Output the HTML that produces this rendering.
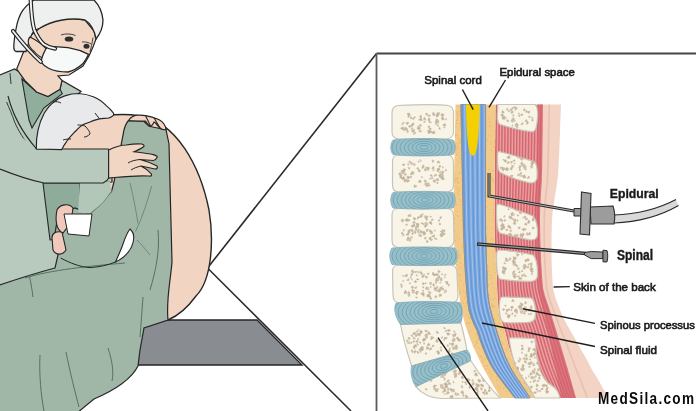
<!DOCTYPE html>
<html><head><meta charset="utf-8">
<style>
html,body{margin:0;padding:0;background:#fff;width:696px;height:411px;overflow:hidden}
svg{position:absolute;left:0;top:0;display:block;filter:blur(0.4px)}
text{font-family:"Liberation Sans",sans-serif}
</style></head>
<body>
<svg width="696" height="411" viewBox="0 0 696 411">
<!-- ===== lines of the zoom frame ===== -->
<g fill="none">
  <path d="M207.5,268 L376.5,53.5" stroke="#2a2a2a" stroke-width="1.6"/>
  <path d="M376.5,53.5 L696,53.5" stroke="#454545" stroke-width="1.9"/>
  <path d="M376.5,53.5 L376.5,411" stroke="#5a5a5a" stroke-width="1.8"/>
  <path d="M207.5,268 L351,411" stroke="#2a2a2a" stroke-width="1.5"/>
</g>

<!-- ===== bed ===== -->
<path d="M110,320 L257,320 L302,365 L110,365 Z" fill="#898c91" stroke="#262626" stroke-width="1.4"/>

<!-- ===== patient back skin ===== -->
<path d="M60,150 L70,130 L90,119 C105,115 122,113 140,116 C176,122 200,165 209,210 C214,240 212,280 196,296 C188,307 180,315 168,320 L120,320 L60,170 Z" fill="#f2d4c3" stroke="#262626" stroke-width="1.4"/>

<!-- ===== nurse gown body (light green) ===== -->
<path d="M-3,76 L14.6,69 L19,71.7 L24.8,80.4 L36.5,92 L48,96.5 L60,89 L62,80.4 L81,91.4 L60,110 L40,150 L112,150 L112,182 L82,184 L82,240 L72,276 L-3,292 Z" fill="#b8cabd" stroke="#262626" stroke-width="1.2"/>
<!-- scrub V -->
<path d="M21.9,79 L36.5,92 L48,96.5 L60,89.2 L62.3,93.6 L43.8,108 L32,128 L29,120 Z" fill="#8fae9b" stroke="#262626" stroke-width="1.1"/>
<!-- scrub lower -->
<path d="M43,183 L80,183 L80,237 L50,240 Z" fill="#8fac9a" stroke="#262626" stroke-width="1.1"/>
<g stroke="#2e3a33" stroke-width="1" fill="none">
  <path d="M10,73 L11,84"/>
  <path d="M6.6,102 C9,108 12,114 14.6,122 C18,130 24,140 32,150"/>
</g>

<!-- ===== patient gown (darker green) ===== -->
<path d="M-3,286 C20,278 40,272 55,268 L58,255 L54,240 L58,215 L75,208 L90,214 L111.5,191.4 L114,182 L124,130 C125,126 127,122 128.5,120.7 L143.8,121.2 L149,126.3 L166,129.7 L169,144 C170,180 171,230 172,262 C170,285 166,300 168,320 L144,328 L140,350 L138,366 C132,378 115,390 94,399 L77,413 L-3,413 Z" fill="#a0b7a8" stroke="#262626" stroke-width="1.2"/>
<g stroke="#56705f" stroke-width="1" fill="none">
  <path d="M25,278 C50,270 90,266 125,263"/>
  <path d="M40,355 C39,375 41,395 44,411"/>
  <path d="M66,352 C70,372 75,392 79,407"/>
  <path d="M108,348 C112,360 114,372 112,381"/>
  <path d="M143,297 C142,310 141,325 140,337"/>
  <path d="M29,275 C31,282 32,290 33,297"/>
  <path d="M150,290 C156,270 160,250 158,230"/>
</g>
<path d="M80,182 L110,182 L111.5,191.4 C107,197 104,202 100.8,204.8 C97,208 93,211 90,214 L78,212 Z" fill="#b3c7b9"/>
<!-- white gap -->
<path d="M130,229 C134.5,233 134.5,240 131.5,247 C128,254 122,259 115.5,262 C118,256 121,250 123,244 C125,238 127,233 130,229 Z" fill="#fff" stroke="#262626" stroke-width="1.1"/>
<g stroke="#262626" stroke-width="1" fill="none">
  <path d="M60.7,258 C70,263 80,267 90,267.6 C100,267 108,265 115.5,262"/>
</g>
<g stroke="#6a8574" stroke-width="0.9" fill="none">
  <path d="M111.5,191.4 C107,197 104,202 100.8,204.8 C97,208 93,211 90,214"/>
  <path d="M130,183 C133,195 136,210 138,223.5"/>
  <path d="M151.7,186 C148,200 142,218 135.6,231.5"/>
  <path d="M137,240 C142,245 146,250 150,255"/>
</g>
<!-- ===== nurse arm ===== -->
<path d="M36.6,149 L108,149 C112,150 114,155 113,165 C112,175 108,181 103,183 L44,183 C30,180 15,175 0,169 L0,120 Z" fill="#b8cabd"/>
<path d="M36.6,149 L108,149 C112,150 114,155 113,165 C112,175 108,181 103,183 L44,183 C30,180 15,175 0,169" fill="none" stroke="#262626" stroke-width="1.2"/>
<path d="M8,96 C12,112 20,130 36.6,149" fill="none" stroke="#262626" stroke-width="1.1"/>

<!-- ===== nurse head ===== -->
<path d="M16.7,69 L22.5,54.5 L28,41 L30,36 L40,28 L52,21 L69,18 L85,20 L94,31 L96,39 L93,47 L89,56 L83,66 L69,75 L58,76 L62,80.4 L60,89.2 L48,96.5 L36.5,92 L24.8,80.4 Z" fill="#f2d6c4" stroke="#262626" stroke-width="1.2"/>
<path d="M34,0 C25,6 19,12 16,29 C14,40 13.5,46 14,49 C14.5,51 15,51.5 16,51.5 L26,51.5 C28,46 29,40 32,34 C34,30 37,29 40,28 C52,21 69,17 85,20 C93,25 95,33 96,39 C100,34 103,28 103,20 C102,10 98,4 94,0 Z" fill="#eef0f0" stroke="#262626" stroke-width="1.3"/>
<path d="M30,37 C28,39 28,41 28.4,43 C29,46 31,49 34.2,51.5 C37,55 42,58 46,58.9 L46,48.6 C42,44 36,40 30,37 Z" fill="#f2d6c4" stroke="#262626" stroke-width="1.1"/>
<path d="M47.7,46.3 C56,46.5 62,47 68,47.7 C76,49 83,51.5 88.6,54.3 C87,58 85,61 82.8,63.8 C78,68 73,71 68,72 C61,72 54,71 49,68.5 C45,66.5 42.5,64 40.8,61.8 C42,57 44,51 47.7,46.3 Z" fill="#f7f8f8" stroke="#262626" stroke-width="1.3"/>
<g stroke="#262626" stroke-width="4.2" fill="none" stroke-linecap="round">
  <path d="M30.6,-2 C31,8 32,22 34.2,29.6 C37,36 40,41 43.7,44.2 C47,46.5 51,48 55,48.6"/>
  <path d="M13,31 C20,40 30,52 40.8,61.8"/>
</g>
<g stroke="#f4f5f5" stroke-width="1.9" fill="none" stroke-linecap="round">
  <path d="M30.6,-2 C31,8 32,22 34.2,29.6 C37,36 40,41 43.7,44.2 C47,46.5 51,48 55,48.6"/>
  <path d="M13,31 C20,40 30,52 40.8,61.8"/>
</g>
<g fill="#2e2e2e">
  <ellipse cx="69" cy="39" rx="4.3" ry="2.6"/>
  <ellipse cx="86.5" cy="46.3" rx="3" ry="2.5"/>
</g>
<g stroke="#444" stroke-width="1" fill="none">
  <path d="M61,35 C65,33.5 71,33.5 75.5,35.5"/>
  <path d="M82,42 C85,41.5 89,42.5 91,44"/>
  <path d="M93,37.5 C92,44 91,48 90,52"/>
</g>

<!-- ===== patient hair ===== -->
<path d="M36.3,149 C36,138 38,125 44.2,113.3 C48,107 51,104 53.7,102.2 C57,99 61,97 64.8,95.9 C70,94 75,93.5 79,93.5 C85,94 89,95 93.3,96.7 C99,99 103,102 106,105.4 C109,108 111,110 112.3,111.7 C114,113 114,115 113,115.7 C111,117 110,118 109,118 C104,118.5 102,118.5 99.6,118.9 C95,120 92,121 90,122 C87,123 84,124 82.2,125.2 C79,127 77,130 74.3,132.3 C71,136 68,139 66.4,141.8 C64,145 62.5,148 61.6,149.7 Z" fill="#e7e9ea" stroke="#262626" stroke-width="1.2"/>
<g stroke="#262626" stroke-width="1" fill="none">
  <path d="M95,113 L99.6,119"/>
  <path d="M77.5,125 C80,125 83,125 85,126 C88,129 90,132 90,134 C88,136 86,137 84,137"/>
  <path d="M63,140 C66,139 69,139 71,139"/>
  <path d="M53,102 C56,101 59,102 61,103"/>
</g>

<!-- ===== hands ===== -->
<path d="M128.5,120.5 C131,117 134,115.5 137,115.2 C140,115 143,115 145.5,115.6 C149,116.5 152,117 154,117.8 C157,118.5 159,119.5 160,120.3 C163,122 166,126 166,129.7 C163,130 161,129 160,128 C157,125 156,123 154,122 C153,124 152,126 150.6,126.3 C148,125 147,123 145.5,121.2 C140,121 134,121 128.5,120.5 Z" fill="#f2d6c4" stroke="#262626" stroke-width="1.2"/>
<g stroke="#262626" stroke-width="1.1" fill="none"><path d="M145.5,115.6 L150.6,126.3"/><path d="M154,117.8 L160,128"/></g>
<path d="M108.6,150 C115,147 120,145 126,145 C132,144 138,143.5 141.7,144 C144,144.5 144.5,146 143.6,146.8 C141,149 137,150.5 134,151.7 C140,152.5 148,153.5 153.4,154.6 C156,155.5 158,156.5 157,157.5 C156,159.5 155,160.5 153.4,160.5 L140,159.5 C146,161 152,163.5 157,166 C158,167.5 157,169 155,169 L141,166 C145,168 149,171 151.4,174 C152,175.5 151,176.5 149,176 C140,175.5 130,176 114.5,177.5 L108.6,178 Z" fill="#f2d6c4" stroke="#262626" stroke-width="1.2"/>
<g stroke="#262626" stroke-width="1" fill="none"><path d="M140,159.5 C135,160 131,161 128,163"/><path d="M141,166 C137,167 134,168 131,170"/></g>
<path d="M52,238 C52,233 56,231 62,232 L66,250 C63,255 56,256 53,250 Z" fill="#f0c9bb" stroke="#262626" stroke-width="1.1"/>
<path d="M57,210 C60,204 69,203 73,208 L71,222 L63,233 C56,230 55,220 57,210 Z" fill="#f0c9bb" stroke="#262626" stroke-width="1.1"/>
<path d="M64,214 L92,214 L89,236 L68,234 Z" fill="#fff" stroke="#262626" stroke-width="1"/>


<!-- spine -->
<path d="M543.0,104.5 L543.0,106.5 L542.9,108.5 L542.9,110.5 L542.9,112.5 L542.9,114.5 L542.8,116.5 L542.8,118.5 L542.8,120.5 L542.8,122.5 L542.7,124.5 L542.7,126.5 L542.7,128.5 L542.7,130.5 L542.7,132.5 L542.6,134.5 L542.6,136.5 L542.6,138.5 L542.6,140.5 L542.5,142.5 L542.5,144.5 L542.5,146.5 L542.4,148.5 L542.4,150.5 L542.4,152.5 L542.4,154.5 L542.3,156.5 L542.3,158.5 L542.3,160.5 L542.2,162.5 L542.2,164.5 L542.2,166.5 L542.1,168.5 L542.1,170.5 L542.1,172.5 L542.0,174.5 L541.9,176.5 L541.9,178.5 L541.8,180.5 L541.7,182.5 L541.6,184.5 L541.4,186.5 L541.3,188.5 L541.2,190.5 L541.1,192.5 L540.9,194.5 L540.8,196.5 L540.7,198.5 L540.6,200.5 L540.5,202.5 L540.4,204.5 L540.3,206.5 L540.2,208.5 L540.1,210.5 L540.1,212.5 L540.0,214.5 L540.0,216.5 L540.0,218.5 L540.0,220.5 L540.0,222.5 L540.0,224.5 L540.1,226.5 L540.1,228.5 L540.1,230.5 L540.2,232.5 L540.2,234.5 L540.2,236.5 L540.3,238.5 L540.3,240.5 L540.4,242.5 L540.5,244.5 L540.5,246.5 L540.6,248.5 L540.7,250.5 L540.8,252.5 L540.8,254.5 L540.9,256.5 L541.0,258.5 L541.1,260.5 L541.2,262.5 L541.3,264.5 L541.4,266.5 L541.6,268.5 L541.7,270.5 L541.8,272.5 L541.9,274.5 L542.1,276.5 L542.2,278.5 L542.4,280.5 L542.5,282.5 L542.7,284.5 L542.9,286.5 L543.1,288.5 L543.6,290.5 L544.1,292.5 L544.6,294.5 L545.2,296.5 L545.9,298.5 L546.5,300.5 L547.2,302.5 L547.9,304.5 L548.6,306.5 L549.3,308.5 L549.9,310.5 L550.6,312.5 L551.2,314.5 L551.9,316.5 L552.5,318.5 L553.1,320.5 L553.8,322.5 L554.4,324.5 L555.0,326.5 L555.6,328.5 L556.2,330.5 L556.8,332.5 L557.4,334.5 L558.0,336.5 L558.6,338.5 L559.2,340.5 L559.8,342.5 L560.4,344.5 L561.0,346.5 L561.6,348.5 L562.2,350.5 L562.8,352.5 L563.4,354.5 L564.0,356.5 L564.6,358.5 L565.2,360.5 L565.8,362.5 L566.4,364.5 L567.0,366.5 L567.6,368.5 L568.1,370.5 L568.7,372.5 L569.3,374.5 L569.9,376.5 L570.4,378.5 L571.0,380.5 L571.6,382.5 L572.1,384.5 L572.7,386.5 L573.3,388.5 L573.9,390.5 L574.4,392.5 L575.0,394.5 L575.6,396.5 L576.0,398.0 L608.0,398.0 L607.2,396.5 L606.3,394.5 L605.4,392.5 L604.2,390.5 L602.8,388.5 L601.9,386.5 L600.9,384.5 L599.8,382.5 L598.7,380.5 L597.5,378.5 L596.3,376.5 L595.0,374.5 L593.7,372.5 L592.3,370.5 L591.3,368.5 L590.3,366.5 L589.3,364.5 L588.2,362.5 L587.2,360.5 L586.1,358.5 L585.0,356.5 L583.9,354.5 L582.7,352.5 L581.6,350.5 L580.5,348.5 L579.4,346.5 L578.3,344.5 L577.2,342.5 L576.1,340.5 L574.9,338.5 L573.8,336.5 L572.6,334.5 L571.4,332.5 L570.3,330.5 L569.1,328.5 L568.0,326.5 L566.9,324.5 L565.8,322.5 L564.7,320.5 L563.7,318.5 L562.8,316.5 L561.9,314.5 L561.1,312.5 L560.3,310.5 L559.5,308.5 L558.7,306.5 L557.9,304.5 L557.2,302.5 L556.4,300.5 L555.8,298.5 L555.1,296.5 L554.5,294.5 L554.0,292.5 L553.5,290.5 L553.1,288.5 L552.9,286.5 L552.7,284.5 L552.6,282.5 L552.5,280.5 L552.3,278.5 L552.2,276.5 L552.1,274.5 L552.0,272.5 L551.9,270.5 L551.9,268.5 L551.8,266.5 L551.7,264.5 L551.7,262.5 L551.6,260.5 L551.6,258.5 L551.5,256.5 L551.5,254.5 L551.5,252.5 L551.5,250.5 L551.5,248.5 L551.5,246.5 L551.5,244.5 L551.5,242.5 L551.5,240.5 L551.5,238.5 L551.6,236.5 L551.6,234.5 L551.6,232.5 L551.7,230.5 L551.7,228.5 L551.8,226.5 L551.8,224.5 L551.9,222.5 L552.0,220.5 L552.1,218.5 L552.2,216.5 L552.4,214.5 L552.6,212.5 L552.9,210.5 L553.1,208.5 L553.4,206.5 L553.7,204.5 L554.0,202.5 L554.3,200.5 L554.6,198.5 L554.9,196.5 L555.2,194.5 L555.6,192.5 L555.9,190.5 L556.2,188.5 L556.5,186.5 L556.8,184.5 L557.1,182.5 L557.4,180.5 L557.6,178.5 L557.8,176.5 L558.0,174.5 L558.2,172.5 L558.3,170.5 L558.4,168.5 L558.5,166.5 L558.6,164.5 L558.7,162.5 L558.8,160.5 L558.9,158.5 L559.0,156.5 L559.1,154.5 L559.2,152.5 L559.3,150.5 L559.3,148.5 L559.4,146.5 L559.5,144.5 L559.6,142.5 L559.7,140.5 L559.7,138.5 L559.8,136.5 L559.9,134.5 L560.0,132.5 L560.0,130.5 L560.1,128.5 L560.2,126.5 L560.2,124.5 L560.3,122.5 L560.4,120.5 L560.5,118.5 L560.5,116.5 L560.6,114.5 L560.7,112.5 L560.8,110.5 L560.8,108.5 L560.9,106.5 L561.0,104.5 Z" fill="#f3d3c4"/>
<path d="M549.3,104.5 L549.3,106.5 L549.2,108.5 L549.2,110.5 L549.1,112.5 L549.1,114.5 L549.0,116.5 L549.0,118.5 L548.9,120.5 L548.9,122.5 L548.9,124.5 L548.8,126.5 L548.8,128.5 L548.7,130.5 L548.7,132.5 L548.7,134.5 L548.6,136.5 L548.6,138.5 L548.5,140.5 L548.5,142.5 L548.5,144.5 L548.4,146.5 L548.4,148.5 L548.3,150.5 L548.3,152.5 L548.2,154.5 L548.2,156.5 L548.1,158.5 L548.1,160.5 L548.0,162.5 L547.9,164.5 L547.9,166.5 L547.8,168.5 L547.8,170.5 L547.7,172.5 L547.6,174.5 L547.5,176.5 L547.4,178.5 L547.2,180.5 L547.1,182.5 L546.9,184.5 L546.7,186.5 L546.5,188.5 L546.3,190.5 L546.1,192.5 L545.9,194.5 L545.7,196.5 L545.6,198.5 L545.4,200.5 L545.2,202.5 L545.0,204.5 L544.9,206.5 L544.7,208.5 L544.6,210.5 L544.5,212.5 L544.4,214.5 L544.3,216.5 L544.2,218.5 L544.2,220.5 L544.2,222.5 L544.2,224.5 L544.2,226.5 L544.2,228.5 L544.2,230.5 L544.2,232.5 L544.2,234.5 L544.2,236.5 L544.2,238.5 L544.3,240.5 L544.3,242.5 L544.3,244.5 L544.4,246.5 L544.4,248.5 L544.5,250.5 L544.5,252.5 L544.6,254.5 L544.6,256.5 L544.7,258.5 L544.8,260.5 L544.9,262.5 L545.0,264.5 L545.1,266.5 L545.2,268.5 L545.3,270.5 L545.4,272.5 L545.5,274.5 L545.6,276.5 L545.8,278.5 L545.9,280.5 L546.1,282.5 L546.2,284.5 L546.4,286.5 L546.6,288.5 L547.0,290.5 L547.6,292.5 L548.1,294.5 L548.7,296.5 L549.3,298.5 L550.0,300.5 L550.7,302.5 L551.4,304.5 L552.1,306.5 L552.8,308.5 L553.6,310.5 L554.3,312.5 L555.0,314.5 L555.7,316.5 L556.4,318.5 L557.2,320.5 L558.0,322.5 L558.7,324.5 L559.5,326.5 L560.3,328.5 L561.1,330.5 L561.9,332.5 L562.7,334.5 L563.5,336.5 L564.3,338.5 L565.1,340.5 L565.9,342.5 L566.7,344.5 L567.5,346.5 L568.2,348.5 L569.0,350.5 L569.8,352.5 L570.6,354.5 L571.3,356.5 L572.1,358.5 L572.9,360.5 L573.6,362.5 L574.4,364.5 L575.1,366.5 L575.9,368.5 L576.6,370.5 L577.4,372.5 L578.3,374.5 L579.1,376.5 L579.9,378.5 L580.7,380.5 L581.5,382.5 L582.2,384.5 L582.9,386.5 L583.6,388.5 L584.5,390.5 L585.3,392.5 L586.0,394.5 L586.7,396.5 L587.2,398.0" fill="none" stroke="#ebbfae" stroke-width="1.6"/>
<path d="M495.5,104.5 L495.5,106.5 L495.5,108.5 L495.4,110.5 L495.4,112.5 L495.4,114.5 L495.4,116.5 L495.4,118.5 L495.4,120.5 L495.3,122.5 L495.3,124.5 L495.3,126.5 L495.3,128.5 L495.2,130.5 L495.2,132.5 L495.2,134.5 L495.2,136.5 L495.2,138.5 L495.1,140.5 L495.1,142.5 L495.1,144.5 L495.1,146.5 L495.0,148.5 L495.0,150.5 L495.0,152.5 L495.0,154.5 L494.9,156.5 L494.9,158.5 L494.9,160.5 L494.9,162.5 L494.8,164.5 L494.8,166.5 L494.8,168.5 L494.8,170.5 L494.8,172.5 L494.7,174.5 L494.7,176.5 L494.7,178.5 L494.7,180.5 L494.7,182.5 L494.6,184.5 L494.6,186.5 L494.6,188.5 L494.6,190.5 L494.6,192.5 L494.6,194.5 L494.6,196.5 L494.5,198.5 L494.5,200.5 L494.5,202.5 L494.5,204.5 L494.5,206.5 L494.5,208.5 L494.5,210.5 L494.5,212.5 L494.5,214.5 L494.5,216.5 L494.5,218.5 L494.5,220.5 L494.5,222.5 L494.5,224.5 L494.5,226.5 L494.5,228.5 L494.5,230.5 L494.5,232.5 L494.6,234.5 L494.6,236.5 L494.7,238.5 L494.8,240.5 L494.9,242.5 L495.0,244.5 L495.1,246.5 L495.2,248.5 L495.3,250.5 L495.4,252.5 L495.5,254.5 L495.6,256.5 L495.7,258.5 L495.9,260.5 L496.0,262.5 L496.1,264.5 L496.2,266.5 L496.3,268.5 L496.4,270.5 L496.5,272.5 L496.6,274.5 L496.7,276.5 L496.8,278.5 L496.9,280.5 L496.9,282.5 L497.0,284.5 L497.1,286.5 L497.2,288.5 L497.3,290.5 L497.3,292.5 L497.4,294.5 L497.5,296.5 L497.7,298.5 L497.8,300.5 L497.9,302.5 L498.1,304.5 L498.3,306.5 L498.4,308.5 L498.7,310.5 L499.2,312.5 L499.6,314.5 L500.2,316.5 L500.7,318.5 L501.4,320.5 L502.0,322.5 L502.7,324.5 L503.4,326.5 L504.2,328.5 L504.9,330.5 L505.4,332.5 L505.8,334.5 L506.3,336.5 L506.8,338.5 L507.3,340.5 L507.7,342.5 L508.2,344.5 L508.8,346.5 L509.3,348.5 L509.9,350.5 L510.5,352.5 L511.1,354.5 L511.8,356.5 L512.4,358.5 L513.2,360.5 L514.0,362.5 L514.8,364.5 L515.7,366.5 L516.7,368.5 L517.8,370.5 L518.9,372.5 L520.0,374.5 L521.2,376.5 L522.5,378.5 L523.7,380.5 L525.0,382.5 L526.3,384.5 L527.6,386.5 L529.0,388.5 L530.3,390.5 L531.6,392.5 L532.8,394.5 L534.1,396.5 L535.0,398.0 L576.0,398.0 L575.6,396.5 L575.0,394.5 L574.4,392.5 L573.9,390.5 L573.3,388.5 L572.7,386.5 L572.1,384.5 L571.6,382.5 L571.0,380.5 L570.4,378.5 L569.9,376.5 L569.3,374.5 L568.7,372.5 L568.1,370.5 L567.6,368.5 L567.0,366.5 L566.4,364.5 L565.8,362.5 L565.2,360.5 L564.6,358.5 L564.0,356.5 L563.4,354.5 L562.8,352.5 L562.2,350.5 L561.6,348.5 L561.0,346.5 L560.4,344.5 L559.8,342.5 L559.2,340.5 L558.6,338.5 L558.0,336.5 L557.4,334.5 L556.8,332.5 L556.2,330.5 L555.6,328.5 L555.0,326.5 L554.4,324.5 L553.8,322.5 L553.1,320.5 L552.5,318.5 L551.9,316.5 L551.2,314.5 L550.6,312.5 L549.9,310.5 L549.3,308.5 L548.6,306.5 L547.9,304.5 L547.2,302.5 L546.5,300.5 L545.9,298.5 L545.2,296.5 L544.6,294.5 L544.1,292.5 L543.6,290.5 L543.1,288.5 L542.9,286.5 L542.7,284.5 L542.5,282.5 L542.4,280.5 L542.2,278.5 L542.1,276.5 L541.9,274.5 L541.8,272.5 L541.7,270.5 L541.6,268.5 L541.4,266.5 L541.3,264.5 L541.2,262.5 L541.1,260.5 L541.0,258.5 L540.9,256.5 L540.8,254.5 L540.8,252.5 L540.7,250.5 L540.6,248.5 L540.5,246.5 L540.5,244.5 L540.4,242.5 L540.3,240.5 L540.3,238.5 L540.2,236.5 L540.2,234.5 L540.2,232.5 L540.1,230.5 L540.1,228.5 L540.1,226.5 L540.0,224.5 L540.0,222.5 L540.0,220.5 L540.0,218.5 L540.0,216.5 L540.0,214.5 L540.1,212.5 L540.1,210.5 L540.2,208.5 L540.3,206.5 L540.4,204.5 L540.5,202.5 L540.6,200.5 L540.7,198.5 L540.8,196.5 L540.9,194.5 L541.1,192.5 L541.2,190.5 L541.3,188.5 L541.4,186.5 L541.6,184.5 L541.7,182.5 L541.8,180.5 L541.9,178.5 L541.9,176.5 L542.0,174.5 L542.1,172.5 L542.1,170.5 L542.1,168.5 L542.2,166.5 L542.2,164.5 L542.2,162.5 L542.3,160.5 L542.3,158.5 L542.3,156.5 L542.4,154.5 L542.4,152.5 L542.4,150.5 L542.4,148.5 L542.5,146.5 L542.5,144.5 L542.5,142.5 L542.6,140.5 L542.6,138.5 L542.6,136.5 L542.6,134.5 L542.7,132.5 L542.7,130.5 L542.7,128.5 L542.7,126.5 L542.7,124.5 L542.8,122.5 L542.8,120.5 L542.8,118.5 L542.8,116.5 L542.9,114.5 L542.9,112.5 L542.9,110.5 L542.9,108.5 L543.0,106.5 L543.0,104.5 Z" fill="#e9a0a2"/>
<clipPath id="cm"><path d="M495.5,104.5 L495.5,106.5 L495.5,108.5 L495.4,110.5 L495.4,112.5 L495.4,114.5 L495.4,116.5 L495.4,118.5 L495.4,120.5 L495.3,122.5 L495.3,124.5 L495.3,126.5 L495.3,128.5 L495.2,130.5 L495.2,132.5 L495.2,134.5 L495.2,136.5 L495.2,138.5 L495.1,140.5 L495.1,142.5 L495.1,144.5 L495.1,146.5 L495.0,148.5 L495.0,150.5 L495.0,152.5 L495.0,154.5 L494.9,156.5 L494.9,158.5 L494.9,160.5 L494.9,162.5 L494.8,164.5 L494.8,166.5 L494.8,168.5 L494.8,170.5 L494.8,172.5 L494.7,174.5 L494.7,176.5 L494.7,178.5 L494.7,180.5 L494.7,182.5 L494.6,184.5 L494.6,186.5 L494.6,188.5 L494.6,190.5 L494.6,192.5 L494.6,194.5 L494.6,196.5 L494.5,198.5 L494.5,200.5 L494.5,202.5 L494.5,204.5 L494.5,206.5 L494.5,208.5 L494.5,210.5 L494.5,212.5 L494.5,214.5 L494.5,216.5 L494.5,218.5 L494.5,220.5 L494.5,222.5 L494.5,224.5 L494.5,226.5 L494.5,228.5 L494.5,230.5 L494.5,232.5 L494.6,234.5 L494.6,236.5 L494.7,238.5 L494.8,240.5 L494.9,242.5 L495.0,244.5 L495.1,246.5 L495.2,248.5 L495.3,250.5 L495.4,252.5 L495.5,254.5 L495.6,256.5 L495.7,258.5 L495.9,260.5 L496.0,262.5 L496.1,264.5 L496.2,266.5 L496.3,268.5 L496.4,270.5 L496.5,272.5 L496.6,274.5 L496.7,276.5 L496.8,278.5 L496.9,280.5 L496.9,282.5 L497.0,284.5 L497.1,286.5 L497.2,288.5 L497.3,290.5 L497.3,292.5 L497.4,294.5 L497.5,296.5 L497.7,298.5 L497.8,300.5 L497.9,302.5 L498.1,304.5 L498.3,306.5 L498.4,308.5 L498.7,310.5 L499.2,312.5 L499.6,314.5 L500.2,316.5 L500.7,318.5 L501.4,320.5 L502.0,322.5 L502.7,324.5 L503.4,326.5 L504.2,328.5 L504.9,330.5 L505.4,332.5 L505.8,334.5 L506.3,336.5 L506.8,338.5 L507.3,340.5 L507.7,342.5 L508.2,344.5 L508.8,346.5 L509.3,348.5 L509.9,350.5 L510.5,352.5 L511.1,354.5 L511.8,356.5 L512.4,358.5 L513.2,360.5 L514.0,362.5 L514.8,364.5 L515.7,366.5 L516.7,368.5 L517.8,370.5 L518.9,372.5 L520.0,374.5 L521.2,376.5 L522.5,378.5 L523.7,380.5 L525.0,382.5 L526.3,384.5 L527.6,386.5 L529.0,388.5 L530.3,390.5 L531.6,392.5 L532.8,394.5 L534.1,396.5 L535.0,398.0 L576.0,398.0 L575.6,396.5 L575.0,394.5 L574.4,392.5 L573.9,390.5 L573.3,388.5 L572.7,386.5 L572.1,384.5 L571.6,382.5 L571.0,380.5 L570.4,378.5 L569.9,376.5 L569.3,374.5 L568.7,372.5 L568.1,370.5 L567.6,368.5 L567.0,366.5 L566.4,364.5 L565.8,362.5 L565.2,360.5 L564.6,358.5 L564.0,356.5 L563.4,354.5 L562.8,352.5 L562.2,350.5 L561.6,348.5 L561.0,346.5 L560.4,344.5 L559.8,342.5 L559.2,340.5 L558.6,338.5 L558.0,336.5 L557.4,334.5 L556.8,332.5 L556.2,330.5 L555.6,328.5 L555.0,326.5 L554.4,324.5 L553.8,322.5 L553.1,320.5 L552.5,318.5 L551.9,316.5 L551.2,314.5 L550.6,312.5 L549.9,310.5 L549.3,308.5 L548.6,306.5 L547.9,304.5 L547.2,302.5 L546.5,300.5 L545.9,298.5 L545.2,296.5 L544.6,294.5 L544.1,292.5 L543.6,290.5 L543.1,288.5 L542.9,286.5 L542.7,284.5 L542.5,282.5 L542.4,280.5 L542.2,278.5 L542.1,276.5 L541.9,274.5 L541.8,272.5 L541.7,270.5 L541.6,268.5 L541.4,266.5 L541.3,264.5 L541.2,262.5 L541.1,260.5 L541.0,258.5 L540.9,256.5 L540.8,254.5 L540.8,252.5 L540.7,250.5 L540.6,248.5 L540.5,246.5 L540.5,244.5 L540.4,242.5 L540.3,240.5 L540.3,238.5 L540.2,236.5 L540.2,234.5 L540.2,232.5 L540.1,230.5 L540.1,228.5 L540.1,226.5 L540.0,224.5 L540.0,222.5 L540.0,220.5 L540.0,218.5 L540.0,216.5 L540.0,214.5 L540.1,212.5 L540.1,210.5 L540.2,208.5 L540.3,206.5 L540.4,204.5 L540.5,202.5 L540.6,200.5 L540.7,198.5 L540.8,196.5 L540.9,194.5 L541.1,192.5 L541.2,190.5 L541.3,188.5 L541.4,186.5 L541.6,184.5 L541.7,182.5 L541.8,180.5 L541.9,178.5 L541.9,176.5 L542.0,174.5 L542.1,172.5 L542.1,170.5 L542.1,168.5 L542.2,166.5 L542.2,164.5 L542.2,162.5 L542.3,160.5 L542.3,158.5 L542.3,156.5 L542.4,154.5 L542.4,152.5 L542.4,150.5 L542.4,148.5 L542.5,146.5 L542.5,144.5 L542.5,142.5 L542.6,140.5 L542.6,138.5 L542.6,136.5 L542.6,134.5 L542.7,132.5 L542.7,130.5 L542.7,128.5 L542.7,126.5 L542.7,124.5 L542.8,122.5 L542.8,120.5 L542.8,118.5 L542.8,116.5 L542.9,114.5 L542.9,112.5 L542.9,110.5 L542.9,108.5 L543.0,106.5 L543.0,104.5 Z"/></clipPath>
<g clip-path="url(#cm)" stroke="#d6666f" stroke-width="1.5" fill="none"><path d="M496.4,104.5 L496.4,108.5 L496.3,112.5 L496.3,116.5 L496.2,120.5 L496.2,124.5 L496.2,128.5 L496.1,132.5 L496.1,136.5 L496.0,140.5 L496.0,144.5 L495.9,148.5 L495.9,152.5 L495.8,156.5 L495.8,160.5 L495.7,164.5 L495.7,168.5 L495.6,172.5 L495.6,176.5 L495.6,180.5 L495.5,184.5 L495.5,188.5 L495.5,192.5 L495.4,196.5 L495.4,200.5 L495.4,204.5 L495.4,208.5 L495.3,212.5 L495.3,216.5 L495.3,220.5 L495.3,224.5 L495.4,228.5 L495.4,232.5 L495.5,236.5 L495.6,240.5 L495.8,244.5 L496.0,248.5 L496.2,252.5 L496.5,256.5 L496.7,260.5 L496.9,264.5 L497.2,268.5 L497.4,272.5 L497.5,276.5 L497.7,280.5 L497.9,284.5 L498.0,288.5 L498.2,292.5 L498.4,296.5 L498.7,300.5 L499.0,304.5 L499.4,308.5 L500.1,312.5 L501.1,316.5 L502.3,320.5 L503.7,324.5 L505.2,328.5 L506.3,332.5 L507.3,336.5 L508.2,340.5 L509.2,344.5 L510.3,348.5 L511.5,352.5 L512.7,356.5 L514.2,360.5 L515.8,364.5 L517.7,368.5 L519.8,372.5 L522.2,376.5 L524.6,380.5 L527.2,384.5 L529.8,388.5 L532.4,392.5 L534.9,396.5 L535.8,398.0"/><path d="M499.4,104.5 L499.3,108.5 L499.3,112.5 L499.2,116.5 L499.2,120.5 L499.2,124.5 L499.1,128.5 L499.1,132.5 L499.0,136.5 L499.0,140.5 L498.9,144.5 L498.9,148.5 L498.8,152.5 L498.8,156.5 L498.7,160.5 L498.7,164.5 L498.7,168.5 L498.6,172.5 L498.6,176.5 L498.5,180.5 L498.5,184.5 L498.4,188.5 L498.4,192.5 L498.3,196.5 L498.3,200.5 L498.2,204.5 L498.2,208.5 L498.2,212.5 L498.2,216.5 L498.2,220.5 L498.2,224.5 L498.2,228.5 L498.2,232.5 L498.3,236.5 L498.5,240.5 L498.7,244.5 L498.9,248.5 L499.1,252.5 L499.3,256.5 L499.5,260.5 L499.8,264.5 L500.0,268.5 L500.2,272.5 L500.4,276.5 L500.6,280.5 L500.7,284.5 L500.9,288.5 L501.1,292.5 L501.4,296.5 L501.8,300.5 L502.1,304.5 L502.6,308.5 L503.3,312.5 L504.4,316.5 L505.6,320.5 L506.9,324.5 L508.4,328.5 L509.6,332.5 L510.5,336.5 L511.5,340.5 L512.5,344.5 L513.6,348.5 L514.7,352.5 L516.0,356.5 L517.4,360.5 L519.0,364.5 L520.8,368.5 L522.9,372.5 L525.2,376.5 L527.6,380.5 L530.1,384.5 L532.6,388.5 L535.0,392.5 L537.5,396.5 L538.3,398.0"/><path d="M502.3,104.5 L502.3,108.5 L502.3,112.5 L502.2,116.5 L502.2,120.5 L502.1,124.5 L502.1,128.5 L502.0,132.5 L502.0,136.5 L501.9,140.5 L501.9,144.5 L501.8,148.5 L501.8,152.5 L501.8,156.5 L501.7,160.5 L501.7,164.5 L501.6,168.5 L501.6,172.5 L501.5,176.5 L501.5,180.5 L501.4,184.5 L501.3,188.5 L501.3,192.5 L501.2,196.5 L501.2,200.5 L501.1,204.5 L501.1,208.5 L501.0,212.5 L501.0,216.5 L501.0,220.5 L501.0,224.5 L501.0,228.5 L501.1,232.5 L501.2,236.5 L501.3,240.5 L501.5,244.5 L501.7,248.5 L501.9,252.5 L502.1,256.5 L502.4,260.5 L502.6,264.5 L502.8,268.5 L503.0,272.5 L503.2,276.5 L503.4,280.5 L503.6,284.5 L503.8,288.5 L504.1,292.5 L504.4,296.5 L504.8,300.5 L505.2,304.5 L505.8,308.5 L506.6,312.5 L507.6,316.5 L508.8,320.5 L510.1,324.5 L511.6,328.5 L512.8,332.5 L513.7,336.5 L514.7,340.5 L515.8,344.5 L516.8,348.5 L518.0,352.5 L519.3,356.5 L520.7,360.5 L522.2,364.5 L524.0,368.5 L526.0,372.5 L528.2,376.5 L530.5,380.5 L532.9,384.5 L535.3,388.5 L537.7,392.5 L540.0,396.5 L540.9,398.0"/><path d="M505.3,104.5 L505.3,108.5 L505.2,112.5 L505.2,116.5 L505.1,120.5 L505.1,124.5 L505.0,128.5 L505.0,132.5 L505.0,136.5 L504.9,140.5 L504.9,144.5 L504.8,148.5 L504.8,152.5 L504.7,156.5 L504.7,160.5 L504.6,164.5 L504.6,168.5 L504.5,172.5 L504.5,176.5 L504.4,180.5 L504.3,184.5 L504.2,188.5 L504.2,192.5 L504.1,196.5 L504.0,200.5 L504.0,204.5 L503.9,208.5 L503.9,212.5 L503.9,216.5 L503.9,220.5 L503.9,224.5 L503.9,228.5 L503.9,232.5 L504.0,236.5 L504.2,240.5 L504.3,244.5 L504.5,248.5 L504.7,252.5 L505.0,256.5 L505.2,260.5 L505.4,264.5 L505.7,268.5 L505.9,272.5 L506.1,276.5 L506.2,280.5 L506.4,284.5 L506.6,288.5 L507.0,292.5 L507.4,296.5 L507.8,300.5 L508.4,304.5 L508.9,308.5 L509.8,312.5 L510.8,316.5 L512.0,320.5 L513.4,324.5 L514.8,328.5 L516.0,332.5 L517.0,336.5 L518.0,340.5 L519.0,344.5 L520.1,348.5 L521.3,352.5 L522.5,356.5 L523.9,360.5 L525.4,364.5 L527.2,368.5 L529.2,372.5 L531.3,376.5 L533.5,380.5 L535.8,384.5 L538.1,388.5 L540.4,392.5 L542.6,396.5 L543.5,398.0"/><path d="M508.3,104.5 L508.2,108.5 L508.2,112.5 L508.1,116.5 L508.1,120.5 L508.1,124.5 L508.0,128.5 L508.0,132.5 L507.9,136.5 L507.9,140.5 L507.8,144.5 L507.8,148.5 L507.7,152.5 L507.7,156.5 L507.6,160.5 L507.6,164.5 L507.5,168.5 L507.5,172.5 L507.4,176.5 L507.3,180.5 L507.3,184.5 L507.2,188.5 L507.1,192.5 L507.0,196.5 L506.9,200.5 L506.8,204.5 L506.8,208.5 L506.7,212.5 L506.7,216.5 L506.7,220.5 L506.7,224.5 L506.7,228.5 L506.8,232.5 L506.9,236.5 L507.0,240.5 L507.2,244.5 L507.4,248.5 L507.6,252.5 L507.8,256.5 L508.0,260.5 L508.3,264.5 L508.5,268.5 L508.7,272.5 L508.9,276.5 L509.1,280.5 L509.3,284.5 L509.5,288.5 L509.9,292.5 L510.4,296.5 L510.9,300.5 L511.5,304.5 L512.1,308.5 L513.0,312.5 L514.1,316.5 L515.3,320.5 L516.6,324.5 L518.0,328.5 L519.2,332.5 L520.2,336.5 L521.2,340.5 L522.3,344.5 L523.4,348.5 L524.5,352.5 L525.8,356.5 L527.2,360.5 L528.6,364.5 L530.4,368.5 L532.3,372.5 L534.3,376.5 L536.4,380.5 L538.6,384.5 L540.9,388.5 L543.1,392.5 L545.2,396.5 L546.0,398.0"/><path d="M511.2,104.5 L511.2,108.5 L511.2,112.5 L511.1,116.5 L511.1,120.5 L511.0,124.5 L511.0,128.5 L510.9,132.5 L510.9,136.5 L510.8,140.5 L510.8,144.5 L510.7,148.5 L510.7,152.5 L510.6,156.5 L510.6,160.5 L510.5,164.5 L510.5,168.5 L510.4,172.5 L510.4,176.5 L510.3,180.5 L510.2,184.5 L510.1,188.5 L510.0,192.5 L509.9,196.5 L509.8,200.5 L509.7,204.5 L509.6,208.5 L509.6,212.5 L509.6,216.5 L509.6,220.5 L509.6,224.5 L509.6,228.5 L509.7,232.5 L509.7,236.5 L509.9,240.5 L510.0,244.5 L510.2,248.5 L510.4,252.5 L510.6,256.5 L510.9,260.5 L511.1,264.5 L511.3,268.5 L511.5,272.5 L511.7,276.5 L511.9,280.5 L512.1,284.5 L512.4,288.5 L512.8,292.5 L513.3,296.5 L513.9,300.5 L514.6,304.5 L515.3,308.5 L516.2,312.5 L517.3,316.5 L518.5,320.5 L519.8,324.5 L521.2,328.5 L522.4,332.5 L523.4,336.5 L524.5,340.5 L525.5,344.5 L526.6,348.5 L527.8,352.5 L529.1,356.5 L530.4,360.5 L531.9,364.5 L533.5,368.5 L535.4,372.5 L537.3,376.5 L539.4,380.5 L541.5,384.5 L543.6,388.5 L545.8,392.5 L547.8,396.5 L548.6,398.0"/><path d="M514.2,104.5 L514.2,108.5 L514.1,112.5 L514.1,116.5 L514.0,120.5 L514.0,124.5 L513.9,128.5 L513.9,132.5 L513.8,136.5 L513.8,140.5 L513.8,144.5 L513.7,148.5 L513.7,152.5 L513.6,156.5 L513.5,160.5 L513.5,164.5 L513.4,168.5 L513.4,172.5 L513.3,176.5 L513.2,180.5 L513.1,184.5 L513.0,188.5 L512.9,192.5 L512.8,196.5 L512.7,200.5 L512.6,204.5 L512.5,208.5 L512.4,212.5 L512.4,216.5 L512.4,220.5 L512.4,224.5 L512.4,228.5 L512.5,232.5 L512.6,236.5 L512.7,240.5 L512.9,244.5 L513.1,248.5 L513.3,252.5 L513.5,256.5 L513.7,260.5 L513.9,264.5 L514.1,268.5 L514.4,272.5 L514.6,276.5 L514.8,280.5 L515.0,284.5 L515.3,288.5 L515.7,292.5 L516.3,296.5 L517.0,300.5 L517.7,304.5 L518.5,308.5 L519.4,312.5 L520.5,316.5 L521.7,320.5 L523.0,324.5 L524.4,328.5 L525.6,332.5 L526.7,336.5 L527.7,340.5 L528.8,344.5 L529.9,348.5 L531.1,352.5 L532.3,356.5 L533.7,360.5 L535.1,364.5 L536.7,368.5 L538.5,372.5 L540.4,376.5 L542.4,380.5 L544.4,384.5 L546.4,388.5 L548.4,392.5 L550.4,396.5 L551.1,398.0"/><path d="M517.2,104.5 L517.1,108.5 L517.1,112.5 L517.0,116.5 L517.0,120.5 L517.0,124.5 L516.9,128.5 L516.9,132.5 L516.8,136.5 L516.8,140.5 L516.7,144.5 L516.7,148.5 L516.6,152.5 L516.6,156.5 L516.5,160.5 L516.5,164.5 L516.4,168.5 L516.3,172.5 L516.3,176.5 L516.2,180.5 L516.1,184.5 L515.9,188.5 L515.8,192.5 L515.7,196.5 L515.5,200.5 L515.4,204.5 L515.3,208.5 L515.3,212.5 L515.2,216.5 L515.3,220.5 L515.3,224.5 L515.3,228.5 L515.4,232.5 L515.4,236.5 L515.6,240.5 L515.7,244.5 L515.9,248.5 L516.1,252.5 L516.3,256.5 L516.5,260.5 L516.7,264.5 L517.0,268.5 L517.2,272.5 L517.4,276.5 L517.6,280.5 L517.9,284.5 L518.1,288.5 L518.7,292.5 L519.3,296.5 L520.0,300.5 L520.8,304.5 L521.6,308.5 L522.6,312.5 L523.8,316.5 L525.0,320.5 L526.3,324.5 L527.7,328.5 L528.8,332.5 L529.9,336.5 L531.0,340.5 L532.1,344.5 L533.2,348.5 L534.4,352.5 L535.6,356.5 L536.9,360.5 L538.3,364.5 L539.9,368.5 L541.6,372.5 L543.4,376.5 L545.3,380.5 L547.2,384.5 L549.2,388.5 L551.1,392.5 L553.0,396.5 L553.7,398.0"/><path d="M520.1,104.5 L520.1,108.5 L520.1,112.5 L520.0,116.5 L520.0,120.5 L519.9,124.5 L519.9,128.5 L519.8,132.5 L519.8,136.5 L519.7,140.5 L519.7,144.5 L519.6,148.5 L519.6,152.5 L519.5,156.5 L519.5,160.5 L519.4,164.5 L519.4,168.5 L519.3,172.5 L519.2,176.5 L519.1,180.5 L519.0,184.5 L518.8,188.5 L518.7,192.5 L518.6,196.5 L518.4,200.5 L518.3,204.5 L518.2,208.5 L518.1,212.5 L518.1,216.5 L518.1,220.5 L518.1,224.5 L518.1,228.5 L518.2,232.5 L518.3,236.5 L518.4,240.5 L518.6,244.5 L518.7,248.5 L518.9,252.5 L519.1,256.5 L519.3,260.5 L519.6,264.5 L519.8,268.5 L520.0,272.5 L520.2,276.5 L520.5,280.5 L520.7,284.5 L521.0,288.5 L521.6,292.5 L522.3,296.5 L523.1,300.5 L523.9,304.5 L524.8,308.5 L525.8,312.5 L527.0,316.5 L528.2,320.5 L529.5,324.5 L530.9,328.5 L532.1,332.5 L533.1,336.5 L534.2,340.5 L535.3,344.5 L536.5,348.5 L537.6,352.5 L538.9,356.5 L540.2,360.5 L541.5,364.5 L543.1,368.5 L544.7,372.5 L546.5,376.5 L548.3,380.5 L550.1,384.5 L552.0,388.5 L553.8,392.5 L555.6,396.5 L556.3,398.0"/><path d="M523.1,104.5 L523.1,108.5 L523.0,112.5 L523.0,116.5 L522.9,120.5 L522.9,124.5 L522.8,128.5 L522.8,132.5 L522.7,136.5 L522.7,140.5 L522.6,144.5 L522.6,148.5 L522.5,152.5 L522.5,156.5 L522.4,160.5 L522.4,164.5 L522.3,168.5 L522.2,172.5 L522.2,176.5 L522.1,180.5 L521.9,184.5 L521.8,188.5 L521.6,192.5 L521.4,196.5 L521.3,200.5 L521.2,204.5 L521.1,208.5 L521.0,212.5 L520.9,216.5 L520.9,220.5 L521.0,224.5 L521.0,228.5 L521.1,232.5 L521.1,236.5 L521.3,240.5 L521.4,244.5 L521.6,248.5 L521.8,252.5 L522.0,256.5 L522.2,260.5 L522.4,264.5 L522.6,268.5 L522.8,272.5 L523.1,276.5 L523.3,280.5 L523.6,284.5 L523.9,288.5 L524.5,292.5 L525.3,296.5 L526.1,300.5 L527.0,304.5 L528.0,308.5 L529.1,312.5 L530.2,316.5 L531.4,320.5 L532.7,324.5 L534.1,328.5 L535.3,332.5 L536.4,336.5 L537.5,340.5 L538.6,344.5 L539.7,348.5 L540.9,352.5 L542.1,356.5 L543.4,360.5 L544.8,364.5 L546.3,368.5 L547.8,372.5 L549.5,376.5 L551.2,380.5 L553.0,384.5 L554.7,388.5 L556.5,392.5 L558.2,396.5 L558.8,398.0"/><path d="M526.1,104.5 L526.0,108.5 L526.0,112.5 L525.9,116.5 L525.9,120.5 L525.8,124.5 L525.8,128.5 L525.8,132.5 L525.7,136.5 L525.7,140.5 L525.6,144.5 L525.6,148.5 L525.5,152.5 L525.4,156.5 L525.4,160.5 L525.3,164.5 L525.3,168.5 L525.2,172.5 L525.1,176.5 L525.0,180.5 L524.8,184.5 L524.7,188.5 L524.5,192.5 L524.3,196.5 L524.2,200.5 L524.0,204.5 L523.9,208.5 L523.8,212.5 L523.8,216.5 L523.8,220.5 L523.8,224.5 L523.8,228.5 L523.9,232.5 L524.0,236.5 L524.1,240.5 L524.3,244.5 L524.4,248.5 L524.6,252.5 L524.8,256.5 L525.0,260.5 L525.2,264.5 L525.4,268.5 L525.7,272.5 L525.9,276.5 L526.2,280.5 L526.4,284.5 L526.7,288.5 L527.4,292.5 L528.2,296.5 L529.2,300.5 L530.1,304.5 L531.2,308.5 L532.3,312.5 L533.4,316.5 L534.7,320.5 L536.0,324.5 L537.3,328.5 L538.5,332.5 L539.6,336.5 L540.7,340.5 L541.8,344.5 L543.0,348.5 L544.2,352.5 L545.4,356.5 L546.7,360.5 L548.0,364.5 L549.4,368.5 L551.0,372.5 L552.5,376.5 L554.2,380.5 L555.8,384.5 L557.5,388.5 L559.2,392.5 L560.8,396.5 L561.4,398.0"/><path d="M529.0,104.5 L529.0,108.5 L529.0,112.5 L528.9,116.5 L528.9,120.5 L528.8,124.5 L528.8,128.5 L528.7,132.5 L528.7,136.5 L528.6,140.5 L528.6,144.5 L528.5,148.5 L528.5,152.5 L528.4,156.5 L528.4,160.5 L528.3,164.5 L528.2,168.5 L528.2,172.5 L528.1,176.5 L527.9,180.5 L527.8,184.5 L527.6,188.5 L527.4,192.5 L527.2,196.5 L527.0,200.5 L526.9,204.5 L526.8,208.5 L526.7,212.5 L526.6,216.5 L526.6,220.5 L526.7,224.5 L526.7,228.5 L526.8,232.5 L526.8,236.5 L527.0,240.5 L527.1,244.5 L527.3,248.5 L527.4,252.5 L527.6,256.5 L527.8,260.5 L528.0,264.5 L528.3,268.5 L528.5,272.5 L528.8,276.5 L529.0,280.5 L529.3,284.5 L529.6,288.5 L530.3,292.5 L531.2,296.5 L532.2,300.5 L533.2,304.5 L534.3,308.5 L535.5,312.5 L536.7,316.5 L537.9,320.5 L539.2,324.5 L540.5,328.5 L541.7,332.5 L542.8,336.5 L544.0,340.5 L545.1,344.5 L546.3,348.5 L547.4,352.5 L548.7,356.5 L549.9,360.5 L551.2,364.5 L552.6,368.5 L554.1,372.5 L555.6,376.5 L557.1,380.5 L558.7,384.5 L560.3,388.5 L561.8,392.5 L563.4,396.5 L564.0,398.0"/><path d="M532.0,104.5 L532.0,108.5 L531.9,112.5 L531.9,116.5 L531.8,120.5 L531.8,124.5 L531.7,128.5 L531.7,132.5 L531.6,136.5 L531.6,140.5 L531.5,144.5 L531.5,148.5 L531.4,152.5 L531.4,156.5 L531.3,160.5 L531.3,164.5 L531.2,168.5 L531.1,172.5 L531.0,176.5 L530.9,180.5 L530.7,184.5 L530.5,188.5 L530.3,192.5 L530.1,196.5 L529.9,200.5 L529.8,204.5 L529.6,208.5 L529.5,212.5 L529.5,216.5 L529.5,220.5 L529.5,224.5 L529.5,228.5 L529.6,232.5 L529.7,236.5 L529.8,240.5 L529.9,244.5 L530.1,248.5 L530.3,252.5 L530.4,256.5 L530.6,260.5 L530.9,264.5 L531.1,268.5 L531.3,272.5 L531.6,276.5 L531.9,280.5 L532.1,284.5 L532.5,288.5 L533.3,292.5 L534.2,296.5 L535.2,300.5 L536.4,304.5 L537.5,308.5 L538.7,312.5 L539.9,316.5 L541.2,320.5 L542.4,324.5 L543.7,328.5 L544.9,332.5 L546.1,336.5 L547.2,340.5 L548.4,344.5 L549.5,348.5 L550.7,352.5 L551.9,356.5 L553.2,360.5 L554.4,364.5 L555.8,368.5 L557.2,372.5 L558.6,376.5 L560.1,380.5 L561.5,384.5 L563.0,388.5 L564.5,392.5 L566.0,396.5 L566.5,398.0"/><path d="M535.0,104.5 L534.9,108.5 L534.9,112.5 L534.8,116.5 L534.8,120.5 L534.7,124.5 L534.7,128.5 L534.6,132.5 L534.6,136.5 L534.6,140.5 L534.5,144.5 L534.4,148.5 L534.4,152.5 L534.3,156.5 L534.3,160.5 L534.2,164.5 L534.1,168.5 L534.1,172.5 L534.0,176.5 L533.8,180.5 L533.6,184.5 L533.4,188.5 L533.2,192.5 L533.0,196.5 L532.8,200.5 L532.6,204.5 L532.5,208.5 L532.4,212.5 L532.3,216.5 L532.3,220.5 L532.4,224.5 L532.4,228.5 L532.5,232.5 L532.6,236.5 L532.7,240.5 L532.8,244.5 L532.9,248.5 L533.1,252.5 L533.3,256.5 L533.5,260.5 L533.7,264.5 L533.9,268.5 L534.2,272.5 L534.4,276.5 L534.7,280.5 L535.0,284.5 L535.4,288.5 L536.2,292.5 L537.2,296.5 L538.3,300.5 L539.5,304.5 L540.7,308.5 L541.9,312.5 L543.1,316.5 L544.4,320.5 L545.7,324.5 L546.9,328.5 L548.1,332.5 L549.3,336.5 L550.5,340.5 L551.6,344.5 L552.8,348.5 L554.0,352.5 L555.2,356.5 L556.4,360.5 L557.7,364.5 L559.0,368.5 L560.3,372.5 L561.7,376.5 L563.0,380.5 L564.4,384.5 L565.8,388.5 L567.2,392.5 L568.6,396.5 L569.1,398.0"/><path d="M538.0,104.5 L537.9,108.5 L537.8,112.5 L537.8,116.5 L537.8,120.5 L537.7,124.5 L537.7,128.5 L537.6,132.5 L537.6,136.5 L537.5,140.5 L537.5,144.5 L537.4,148.5 L537.4,152.5 L537.3,156.5 L537.2,160.5 L537.2,164.5 L537.1,168.5 L537.0,172.5 L536.9,176.5 L536.8,180.5 L536.6,184.5 L536.4,188.5 L536.1,192.5 L535.9,196.5 L535.7,200.5 L535.5,204.5 L535.3,208.5 L535.2,212.5 L535.2,216.5 L535.2,220.5 L535.2,224.5 L535.2,228.5 L535.3,232.5 L535.4,236.5 L535.5,240.5 L535.6,244.5 L535.8,248.5 L535.9,252.5 L536.1,256.5 L536.3,260.5 L536.5,264.5 L536.7,268.5 L537.0,272.5 L537.3,276.5 L537.5,280.5 L537.8,284.5 L538.2,288.5 L539.1,292.5 L540.2,296.5 L541.3,300.5 L542.6,304.5 L543.9,308.5 L545.1,312.5 L546.4,316.5 L547.6,320.5 L548.9,324.5 L550.1,328.5 L551.4,332.5 L552.5,336.5 L553.7,340.5 L554.9,344.5 L556.1,348.5 L557.3,352.5 L558.4,356.5 L559.7,360.5 L560.9,364.5 L562.2,368.5 L563.4,372.5 L564.7,376.5 L566.0,380.5 L567.3,384.5 L568.6,388.5 L569.9,392.5 L571.2,396.5 L571.6,398.0"/><path d="M540.9,104.5 L540.9,108.5 L540.8,112.5 L540.8,116.5 L540.7,120.5 L540.7,124.5 L540.6,128.5 L540.6,132.5 L540.5,136.5 L540.5,140.5 L540.4,144.5 L540.4,148.5 L540.3,152.5 L540.3,156.5 L540.2,160.5 L540.1,164.5 L540.1,168.5 L540.0,172.5 L539.9,176.5 L539.7,180.5 L539.5,184.5 L539.3,188.5 L539.0,192.5 L538.8,196.5 L538.6,200.5 L538.4,204.5 L538.2,208.5 L538.1,212.5 L538.0,216.5 L538.0,220.5 L538.0,224.5 L538.1,228.5 L538.2,232.5 L538.3,236.5 L538.4,240.5 L538.5,244.5 L538.6,248.5 L538.8,252.5 L538.9,256.5 L539.1,260.5 L539.3,264.5 L539.6,268.5 L539.8,272.5 L540.1,276.5 L540.4,280.5 L540.7,284.5 L541.1,288.5 L542.0,292.5 L543.1,296.5 L544.4,300.5 L545.7,304.5 L547.0,308.5 L548.3,312.5 L549.6,316.5 L550.9,320.5 L552.1,324.5 L553.4,328.5 L554.6,332.5 L555.8,336.5 L557.0,340.5 L558.2,344.5 L559.3,348.5 L560.5,352.5 L561.7,356.5 L562.9,360.5 L564.1,364.5 L565.3,368.5 L566.5,372.5 L567.7,376.5 L568.9,380.5 L570.1,384.5 L571.3,388.5 L572.6,392.5 L573.8,396.5 L574.2,398.0"/></g>
<path d="M538.0,104.5 L538.0,106.5 L537.9,108.5 L537.9,110.5 L537.9,112.5 L537.9,114.5 L537.8,116.5 L537.8,118.5 L537.8,120.5 L537.8,122.5 L537.7,124.5 L537.7,126.5 L537.7,128.5 L537.7,130.5 L537.7,132.5 L537.6,134.5 L537.6,136.5 L537.6,138.5 L537.6,140.5 L537.5,142.5 L537.5,144.5 L537.5,146.5 L537.4,148.5 L537.4,150.5 L537.4,152.5 L537.4,154.5 L537.3,156.5 L537.3,158.5 L537.3,160.5 L537.2,162.5 L537.2,164.5 L537.2,166.5 L537.1,168.5 L537.1,170.5 L537.1,172.5 L537.0,174.5 L536.9,176.5 L536.9,178.5 L536.8,180.5 L536.7,182.5 L536.6,184.5 L536.4,186.5 L536.3,188.5 L536.2,190.5 L536.1,192.5 L535.9,194.5 L535.8,196.5 L535.7,198.5 L535.6,200.5 L535.5,202.5 L535.4,204.5 L535.3,206.5 L535.2,208.5 L535.1,210.5 L535.1,212.5 L535.0,214.5 L535.0,216.5 L535.0,218.5 L535.0,220.5 L535.0,222.5 L535.0,224.5 L535.1,226.5 L535.1,228.5 L535.2,230.5 L535.2,232.5 L535.2,234.5 L535.3,236.5 L535.4,238.5 L535.4,240.5 L535.5,242.5 L535.6,244.5 L535.6,246.5 L535.7,248.5 L535.8,250.5 L535.9,252.5 L536.0,254.5 L536.1,256.5 L536.2,258.5 L536.3,260.5 L536.4,262.5 L536.5,264.5 L536.6,266.5 L536.7,268.5 L536.9,270.5 L537.0,272.5 L537.1,274.5 L537.2,276.5 L537.4,278.5 L537.5,280.5 L537.6,282.5 L537.8,284.5 L537.9,286.5 L538.1,288.5 L538.4,290.5 L538.8,292.5 L539.2,294.5 L539.7,296.5 L540.2,298.5 L540.6,300.5 L541.1,302.5 L541.6,304.5 L542.1,306.5 L542.6,308.5 L543.1,310.5 L543.6,312.5 L544.0,314.5 L544.5,316.5 L544.9,318.5 L545.4,320.5 L545.8,322.5 L546.3,324.5 L546.7,326.5 L547.1,328.5 L547.6,330.5 L548.0,332.5 L548.4,334.5 L548.8,336.5 L549.3,338.5 L549.7,340.5 L550.1,342.5 L550.5,344.5 L551.0,346.5 L551.4,348.5 L551.8,350.5 L552.2,352.5 L552.6,354.5 L553.0,356.5 L553.4,358.5 L553.9,360.5 L554.3,362.5 L554.7,364.5 L555.1,366.5 L555.5,368.5 L555.9,370.5 L556.3,372.5 L556.7,374.5 L557.1,376.5 L557.5,378.5 L557.9,380.5 L558.3,382.5 L558.6,384.5 L559.0,386.5 L559.4,388.5 L559.8,390.5 L560.2,392.5 L560.6,394.5 L561.0,396.5 L561.3,398.0 L576.0,398.0 L575.6,396.5 L575.0,394.5 L574.4,392.5 L573.9,390.5 L573.3,388.5 L572.7,386.5 L572.1,384.5 L571.6,382.5 L571.0,380.5 L570.4,378.5 L569.9,376.5 L569.3,374.5 L568.7,372.5 L568.1,370.5 L567.6,368.5 L567.0,366.5 L566.4,364.5 L565.8,362.5 L565.2,360.5 L564.6,358.5 L564.0,356.5 L563.4,354.5 L562.8,352.5 L562.2,350.5 L561.6,348.5 L561.0,346.5 L560.4,344.5 L559.8,342.5 L559.2,340.5 L558.6,338.5 L558.0,336.5 L557.4,334.5 L556.8,332.5 L556.2,330.5 L555.6,328.5 L555.0,326.5 L554.4,324.5 L553.8,322.5 L553.1,320.5 L552.5,318.5 L551.9,316.5 L551.2,314.5 L550.6,312.5 L549.9,310.5 L549.3,308.5 L548.6,306.5 L547.9,304.5 L547.2,302.5 L546.5,300.5 L545.9,298.5 L545.2,296.5 L544.6,294.5 L544.1,292.5 L543.6,290.5 L543.1,288.5 L542.9,286.5 L542.7,284.5 L542.5,282.5 L542.4,280.5 L542.2,278.5 L542.1,276.5 L541.9,274.5 L541.8,272.5 L541.7,270.5 L541.6,268.5 L541.4,266.5 L541.3,264.5 L541.2,262.5 L541.1,260.5 L541.0,258.5 L540.9,256.5 L540.8,254.5 L540.8,252.5 L540.7,250.5 L540.6,248.5 L540.5,246.5 L540.5,244.5 L540.4,242.5 L540.3,240.5 L540.3,238.5 L540.2,236.5 L540.2,234.5 L540.2,232.5 L540.1,230.5 L540.1,228.5 L540.1,226.5 L540.0,224.5 L540.0,222.5 L540.0,220.5 L540.0,218.5 L540.0,216.5 L540.0,214.5 L540.1,212.5 L540.1,210.5 L540.2,208.5 L540.3,206.5 L540.4,204.5 L540.5,202.5 L540.6,200.5 L540.7,198.5 L540.8,196.5 L540.9,194.5 L541.1,192.5 L541.2,190.5 L541.3,188.5 L541.4,186.5 L541.6,184.5 L541.7,182.5 L541.8,180.5 L541.9,178.5 L541.9,176.5 L542.0,174.5 L542.1,172.5 L542.1,170.5 L542.1,168.5 L542.2,166.5 L542.2,164.5 L542.2,162.5 L542.3,160.5 L542.3,158.5 L542.3,156.5 L542.4,154.5 L542.4,152.5 L542.4,150.5 L542.4,148.5 L542.5,146.5 L542.5,144.5 L542.5,142.5 L542.6,140.5 L542.6,138.5 L542.6,136.5 L542.6,134.5 L542.7,132.5 L542.7,130.5 L542.7,128.5 L542.7,126.5 L542.7,124.5 L542.8,122.5 L542.8,120.5 L542.8,118.5 L542.8,116.5 L542.9,114.5 L542.9,112.5 L542.9,110.5 L542.9,108.5 L543.0,106.5 L543.0,104.5 Z" fill="#d4646d" opacity="0.7"/>
<path d="M455.5,104.5 L455.5,106.5 L455.4,108.5 L455.4,110.5 L455.4,112.5 L455.3,114.5 L455.3,116.5 L455.3,118.5 L455.2,120.5 L455.2,122.5 L455.1,124.5 L455.1,126.5 L455.1,128.5 L455.0,130.5 L455.0,132.5 L454.9,134.5 L454.9,136.5 L454.9,138.5 L454.8,140.5 L454.8,142.5 L454.7,144.5 L454.7,146.5 L454.6,148.5 L454.6,150.5 L454.6,152.5 L454.5,154.5 L454.5,156.5 L454.4,158.5 L454.4,160.5 L454.3,162.5 L454.3,164.5 L454.3,166.5 L454.2,168.5 L454.2,170.5 L454.1,172.5 L454.1,174.5 L454.1,176.5 L454.0,178.5 L454.0,180.5 L454.0,182.5 L453.9,184.5 L453.9,186.5 L453.9,188.5 L453.8,190.5 L453.8,192.5 L453.8,194.5 L453.8,196.5 L453.7,198.5 L453.7,200.5 L453.7,202.5 L453.7,204.5 L453.7,206.5 L453.6,208.5 L453.6,210.5 L453.6,212.5 L453.6,214.5 L453.6,216.5 L453.6,218.5 L453.6,220.5 L453.6,222.5 L453.6,224.5 L453.6,226.5 L453.6,228.5 L453.6,230.5 L453.6,232.5 L453.7,234.5 L453.8,236.5 L453.9,238.5 L454.0,240.5 L454.1,242.5 L454.3,244.5 L454.4,246.5 L454.6,248.5 L454.8,250.5 L454.9,252.5 L455.1,254.5 L455.3,256.5 L455.5,258.5 L455.7,260.5 L455.9,262.5 L456.0,264.5 L456.2,266.5 L456.4,268.5 L456.6,270.5 L456.8,272.5 L457.0,274.5 L457.2,276.5 L457.3,278.5 L457.5,280.5 L457.7,282.5 L457.9,284.5 L458.2,286.5 L458.4,288.5 L458.6,290.5 L458.9,292.5 L459.1,294.5 L459.4,296.5 L459.7,298.5 L460.1,300.5 L460.4,302.5 L460.8,304.5 L461.1,306.5 L461.5,308.5 L461.9,310.5 L462.3,312.5 L462.7,314.5 L463.1,316.5 L463.6,318.5 L464.1,320.5 L464.6,322.5 L465.2,324.5 L465.8,326.5 L466.5,328.5 L467.2,330.5 L467.8,332.5 L468.5,334.5 L469.2,336.5 L470.0,338.5 L470.7,340.5 L471.6,342.5 L472.4,344.5 L473.2,346.5 L474.1,348.5 L475.0,350.5 L475.9,352.5 L476.8,354.5 L477.8,356.5 L478.7,358.5 L479.7,360.5 L480.6,362.5 L481.6,364.5 L482.6,366.5 L483.6,368.5 L484.7,370.5 L485.8,372.5 L486.9,374.5 L488.0,376.5 L489.2,378.5 L490.3,380.5 L491.5,382.5 L492.7,384.5 L493.8,386.5 L495.0,388.5 L496.2,390.5 L497.3,392.5 L498.5,394.5 L499.6,396.5 L500.5,398.0 L535.0,398.0 L534.1,396.5 L532.8,394.5 L531.6,392.5 L530.3,390.5 L529.0,388.5 L527.6,386.5 L526.3,384.5 L525.0,382.5 L523.7,380.5 L522.5,378.5 L521.2,376.5 L520.0,374.5 L518.9,372.5 L517.8,370.5 L516.7,368.5 L515.7,366.5 L514.8,364.5 L514.0,362.5 L513.2,360.5 L512.4,358.5 L511.8,356.5 L511.1,354.5 L510.5,352.5 L509.9,350.5 L509.3,348.5 L508.8,346.5 L508.2,344.5 L507.7,342.5 L507.3,340.5 L506.8,338.5 L506.3,336.5 L505.8,334.5 L505.4,332.5 L504.9,330.5 L504.2,328.5 L503.4,326.5 L502.7,324.5 L502.0,322.5 L501.4,320.5 L500.7,318.5 L500.2,316.5 L499.6,314.5 L499.2,312.5 L498.7,310.5 L498.4,308.5 L498.3,306.5 L498.1,304.5 L497.9,302.5 L497.8,300.5 L497.7,298.5 L497.5,296.5 L497.4,294.5 L497.3,292.5 L497.3,290.5 L497.2,288.5 L497.1,286.5 L497.0,284.5 L496.9,282.5 L496.9,280.5 L496.8,278.5 L496.7,276.5 L496.6,274.5 L496.5,272.5 L496.4,270.5 L496.3,268.5 L496.2,266.5 L496.1,264.5 L496.0,262.5 L495.9,260.5 L495.7,258.5 L495.6,256.5 L495.5,254.5 L495.4,252.5 L495.3,250.5 L495.2,248.5 L495.1,246.5 L495.0,244.5 L494.9,242.5 L494.8,240.5 L494.7,238.5 L494.6,236.5 L494.6,234.5 L494.5,232.5 L494.5,230.5 L494.5,228.5 L494.5,226.5 L494.5,224.5 L494.5,222.5 L494.5,220.5 L494.5,218.5 L494.5,216.5 L494.5,214.5 L494.5,212.5 L494.5,210.5 L494.5,208.5 L494.5,206.5 L494.5,204.5 L494.5,202.5 L494.5,200.5 L494.5,198.5 L494.6,196.5 L494.6,194.5 L494.6,192.5 L494.6,190.5 L494.6,188.5 L494.6,186.5 L494.6,184.5 L494.7,182.5 L494.7,180.5 L494.7,178.5 L494.7,176.5 L494.7,174.5 L494.8,172.5 L494.8,170.5 L494.8,168.5 L494.8,166.5 L494.8,164.5 L494.9,162.5 L494.9,160.5 L494.9,158.5 L494.9,156.5 L495.0,154.5 L495.0,152.5 L495.0,150.5 L495.0,148.5 L495.1,146.5 L495.1,144.5 L495.1,142.5 L495.1,140.5 L495.2,138.5 L495.2,136.5 L495.2,134.5 L495.2,132.5 L495.2,130.5 L495.3,128.5 L495.3,126.5 L495.3,124.5 L495.3,122.5 L495.4,120.5 L495.4,118.5 L495.4,116.5 L495.4,114.5 L495.4,112.5 L495.4,110.5 L495.5,108.5 L495.5,106.5 L495.5,104.5 Z" fill="#f2cb8a"/>
<g fill="#e4b46a"><circle cx="459.6" cy="199.6" r="0.6"/><circle cx="489.2" cy="126.5" r="0.6"/><circle cx="486.3" cy="122.3" r="0.6"/><circle cx="454.9" cy="231.5" r="0.6"/><circle cx="487.0" cy="228.8" r="0.6"/><circle cx="493.8" cy="170.4" r="0.6"/><circle cx="464.8" cy="273.1" r="0.6"/><circle cx="488.6" cy="119.0" r="0.6"/><circle cx="457.1" cy="147.4" r="0.6"/><circle cx="477.1" cy="342.6" r="0.6"/><circle cx="463.1" cy="291.1" r="0.6"/><circle cx="456.7" cy="123.7" r="0.6"/><circle cx="463.1" cy="303.2" r="0.6"/><circle cx="459.9" cy="275.6" r="0.6"/><circle cx="500.4" cy="336.3" r="0.6"/><circle cx="494.9" cy="272.4" r="0.6"/><circle cx="470.7" cy="317.4" r="0.6"/><circle cx="459.8" cy="139.8" r="0.6"/><circle cx="455.4" cy="149.7" r="0.6"/><circle cx="493.7" cy="299.6" r="0.6"/><circle cx="485.4" cy="359.8" r="0.6"/><circle cx="491.5" cy="278.2" r="0.6"/><circle cx="505.9" cy="349.5" r="0.6"/><circle cx="465.0" cy="298.4" r="0.6"/><circle cx="495.3" cy="293.5" r="0.6"/><circle cx="459.6" cy="188.2" r="0.6"/><circle cx="456.7" cy="112.1" r="0.6"/><circle cx="459.9" cy="139.5" r="0.6"/><circle cx="457.6" cy="143.1" r="0.6"/><circle cx="482.9" cy="358.6" r="0.6"/><circle cx="494.1" cy="265.1" r="0.6"/><circle cx="481.6" cy="356.5" r="0.6"/><circle cx="493.7" cy="209.7" r="0.6"/><circle cx="456.6" cy="149.3" r="0.6"/><circle cx="458.9" cy="173.3" r="0.6"/><circle cx="457.7" cy="181.8" r="0.6"/><circle cx="493.6" cy="212.8" r="0.6"/><circle cx="494.8" cy="306.1" r="0.6"/><circle cx="466.8" cy="301.9" r="0.6"/><circle cx="503.3" cy="332.1" r="0.6"/><circle cx="455.0" cy="219.5" r="0.6"/><circle cx="459.5" cy="289.8" r="0.6"/><circle cx="457.2" cy="166.1" r="0.6"/><circle cx="456.5" cy="120.8" r="0.6"/><circle cx="455.6" cy="135.0" r="0.6"/><circle cx="507.8" cy="359.5" r="0.6"/><circle cx="457.3" cy="178.8" r="0.6"/><circle cx="494.6" cy="141.2" r="0.6"/><circle cx="455.3" cy="240.9" r="0.6"/><circle cx="456.9" cy="135.2" r="0.6"/><circle cx="473.8" cy="346.3" r="0.6"/><circle cx="520.3" cy="381.8" r="0.6"/><circle cx="460.6" cy="263.3" r="0.6"/><circle cx="528.0" cy="389.8" r="0.6"/><circle cx="455.8" cy="181.4" r="0.6"/><circle cx="502.5" cy="329.7" r="0.6"/><circle cx="460.9" cy="201.3" r="0.6"/><circle cx="529.7" cy="391.6" r="0.6"/><circle cx="502.4" cy="343.2" r="0.6"/><circle cx="456.0" cy="255.9" r="0.6"/><circle cx="457.1" cy="113.6" r="0.6"/><circle cx="493.6" cy="306.7" r="0.6"/><circle cx="521.3" cy="377.7" r="0.6"/><circle cx="456.1" cy="211.4" r="0.6"/><circle cx="459.1" cy="162.6" r="0.6"/><circle cx="512.9" cy="367.0" r="0.6"/><circle cx="489.1" cy="295.2" r="0.6"/><circle cx="495.3" cy="297.4" r="0.6"/><circle cx="466.8" cy="323.4" r="0.6"/><circle cx="476.2" cy="334.7" r="0.6"/><circle cx="499.7" cy="387.8" r="0.6"/><circle cx="519.6" cy="380.5" r="0.6"/><circle cx="460.7" cy="142.4" r="0.6"/><circle cx="478.2" cy="339.8" r="0.6"/><circle cx="526.9" cy="390.3" r="0.6"/><circle cx="456.7" cy="264.9" r="0.6"/><circle cx="525.8" cy="387.5" r="0.6"/><circle cx="497.0" cy="376.7" r="0.6"/><circle cx="475.4" cy="345.5" r="0.6"/><circle cx="459.0" cy="190.6" r="0.6"/><circle cx="455.5" cy="180.8" r="0.6"/><circle cx="488.8" cy="369.9" r="0.6"/><circle cx="491.1" cy="275.0" r="0.6"/><circle cx="516.0" cy="372.1" r="0.6"/><circle cx="459.5" cy="257.6" r="0.6"/><circle cx="460.3" cy="158.7" r="0.6"/><circle cx="459.7" cy="155.6" r="0.6"/><circle cx="460.8" cy="267.2" r="0.6"/><circle cx="488.0" cy="266.9" r="0.6"/><circle cx="459.0" cy="268.3" r="0.6"/><circle cx="501.0" cy="329.8" r="0.6"/><circle cx="498.8" cy="326.3" r="0.6"/><circle cx="492.2" cy="283.4" r="0.6"/><circle cx="465.1" cy="306.7" r="0.6"/><circle cx="492.0" cy="244.4" r="0.6"/><circle cx="508.6" cy="360.1" r="0.6"/><circle cx="494.4" cy="268.0" r="0.6"/><circle cx="457.9" cy="145.3" r="0.6"/><circle cx="456.0" cy="126.6" r="0.6"/><circle cx="496.4" cy="300.0" r="0.6"/><circle cx="491.6" cy="150.4" r="0.6"/><circle cx="494.3" cy="147.0" r="0.6"/><circle cx="489.3" cy="169.3" r="0.6"/><circle cx="493.2" cy="247.0" r="0.6"/><circle cx="458.4" cy="152.4" r="0.6"/><circle cx="456.8" cy="204.0" r="0.6"/><circle cx="467.1" cy="315.3" r="0.6"/><circle cx="457.2" cy="233.5" r="0.6"/><circle cx="488.3" cy="286.8" r="0.6"/><circle cx="530.4" cy="391.7" r="0.6"/><circle cx="455.6" cy="135.9" r="0.6"/><circle cx="469.2" cy="331.8" r="0.6"/><circle cx="492.5" cy="228.2" r="0.6"/><circle cx="461.5" cy="180.6" r="0.6"/><circle cx="488.0" cy="271.3" r="0.6"/><circle cx="489.8" cy="122.2" r="0.6"/><circle cx="491.6" cy="126.5" r="0.6"/><circle cx="478.0" cy="338.4" r="0.6"/><circle cx="490.0" cy="124.9" r="0.6"/><circle cx="493.4" cy="204.0" r="0.6"/><circle cx="458.5" cy="183.3" r="0.6"/><circle cx="455.8" cy="174.8" r="0.6"/><circle cx="457.3" cy="120.1" r="0.6"/><circle cx="488.3" cy="194.1" r="0.6"/><circle cx="458.3" cy="250.8" r="0.6"/><circle cx="456.0" cy="110.8" r="0.6"/><circle cx="494.5" cy="318.5" r="0.6"/><circle cx="487.2" cy="243.4" r="0.6"/><circle cx="476.7" cy="343.4" r="0.6"/><circle cx="478.6" cy="348.0" r="0.6"/><circle cx="492.6" cy="305.3" r="0.6"/><circle cx="506.2" cy="347.3" r="0.6"/><circle cx="454.6" cy="223.1" r="0.6"/><circle cx="459.7" cy="143.2" r="0.6"/><circle cx="455.2" cy="179.8" r="0.6"/><circle cx="507.2" cy="349.9" r="0.6"/><circle cx="456.7" cy="187.4" r="0.6"/><circle cx="458.4" cy="239.0" r="0.6"/><circle cx="493.9" cy="182.0" r="0.6"/><circle cx="464.2" cy="264.4" r="0.6"/><circle cx="454.3" cy="195.4" r="0.6"/><circle cx="458.5" cy="216.4" r="0.6"/><circle cx="486.0" cy="163.9" r="0.6"/><circle cx="457.5" cy="182.2" r="0.6"/><circle cx="457.3" cy="117.6" r="0.6"/><circle cx="490.3" cy="173.1" r="0.6"/><circle cx="499.8" cy="323.5" r="0.6"/><circle cx="482.9" cy="360.9" r="0.6"/><circle cx="506.3" cy="391.6" r="0.6"/><circle cx="465.3" cy="292.4" r="0.6"/><circle cx="513.0" cy="364.6" r="0.6"/><circle cx="476.2" cy="341.4" r="0.6"/><circle cx="493.2" cy="252.0" r="0.6"/><circle cx="507.3" cy="345.6" r="0.6"/><circle cx="491.5" cy="303.9" r="0.6"/><circle cx="457.6" cy="114.6" r="0.6"/><circle cx="490.8" cy="136.0" r="0.6"/><circle cx="493.8" cy="287.9" r="0.6"/><circle cx="462.0" cy="247.6" r="0.6"/><circle cx="498.3" cy="322.9" r="0.6"/><circle cx="465.1" cy="297.0" r="0.6"/><circle cx="456.5" cy="178.8" r="0.6"/><circle cx="469.0" cy="317.4" r="0.6"/><circle cx="500.3" cy="389.0" r="0.6"/><circle cx="492.6" cy="244.7" r="0.6"/><circle cx="488.4" cy="284.7" r="0.6"/><circle cx="459.8" cy="148.3" r="0.6"/><circle cx="486.0" cy="193.9" r="0.6"/><circle cx="459.2" cy="123.1" r="0.6"/><circle cx="492.4" cy="306.6" r="0.6"/><circle cx="459.6" cy="255.6" r="0.6"/><circle cx="487.7" cy="139.9" r="0.6"/><circle cx="525.1" cy="389.6" r="0.6"/><circle cx="494.0" cy="238.8" r="0.6"/><circle cx="456.2" cy="236.1" r="0.6"/><circle cx="496.6" cy="380.2" r="0.6"/><circle cx="494.1" cy="146.7" r="0.6"/><circle cx="490.3" cy="144.0" r="0.6"/><circle cx="509.8" cy="363.1" r="0.6"/><circle cx="483.2" cy="366.3" r="0.6"/><circle cx="458.0" cy="106.5" r="0.6"/><circle cx="457.1" cy="193.2" r="0.6"/><circle cx="485.9" cy="197.3" r="0.6"/><circle cx="495.6" cy="323.6" r="0.6"/><circle cx="519.2" cy="374.6" r="0.6"/><circle cx="457.5" cy="189.7" r="0.6"/><circle cx="530.5" cy="395.6" r="0.6"/><circle cx="454.5" cy="229.8" r="0.6"/><circle cx="488.5" cy="135.0" r="0.6"/><circle cx="491.6" cy="377.3" r="0.6"/><circle cx="458.7" cy="253.9" r="0.6"/><circle cx="524.2" cy="383.3" r="0.6"/><circle cx="496.2" cy="288.8" r="0.6"/><circle cx="487.4" cy="265.1" r="0.6"/><circle cx="469.4" cy="318.2" r="0.6"/><circle cx="459.7" cy="292.7" r="0.6"/><circle cx="491.9" cy="374.7" r="0.6"/><circle cx="460.4" cy="205.3" r="0.6"/><circle cx="503.7" cy="389.1" r="0.6"/><circle cx="489.1" cy="192.9" r="0.6"/><circle cx="456.4" cy="154.1" r="0.6"/><circle cx="486.1" cy="368.7" r="0.6"/><circle cx="513.7" cy="368.8" r="0.6"/><circle cx="455.8" cy="146.1" r="0.6"/><circle cx="456.2" cy="204.8" r="0.6"/><circle cx="493.3" cy="180.6" r="0.6"/><circle cx="468.6" cy="323.3" r="0.6"/><circle cx="458.7" cy="257.8" r="0.6"/><circle cx="460.7" cy="123.5" r="0.6"/><circle cx="491.4" cy="142.1" r="0.6"/><circle cx="480.3" cy="356.2" r="0.6"/><circle cx="457.9" cy="177.7" r="0.6"/><circle cx="524.1" cy="382.6" r="0.6"/><circle cx="459.3" cy="111.8" r="0.6"/><circle cx="487.5" cy="365.7" r="0.6"/><circle cx="460.2" cy="105.6" r="0.6"/><circle cx="507.8" cy="345.3" r="0.6"/><circle cx="455.7" cy="177.7" r="0.6"/><circle cx="494.7" cy="257.2" r="0.6"/><circle cx="497.7" cy="315.2" r="0.6"/><circle cx="486.5" cy="238.4" r="0.6"/><circle cx="476.7" cy="332.8" r="0.6"/><circle cx="460.3" cy="293.0" r="0.6"/><circle cx="491.7" cy="178.6" r="0.6"/><circle cx="458.4" cy="138.1" r="0.6"/><circle cx="459.2" cy="274.8" r="0.6"/><circle cx="460.3" cy="280.1" r="0.6"/><circle cx="491.4" cy="239.3" r="0.6"/><circle cx="482.9" cy="362.2" r="0.6"/><circle cx="491.8" cy="177.3" r="0.6"/><circle cx="458.3" cy="194.8" r="0.6"/><circle cx="462.5" cy="301.4" r="0.6"/><circle cx="490.8" cy="299.4" r="0.6"/><circle cx="457.9" cy="115.4" r="0.6"/><circle cx="466.3" cy="303.8" r="0.6"/><circle cx="495.1" cy="320.2" r="0.6"/><circle cx="504.2" cy="387.2" r="0.6"/><circle cx="460.2" cy="172.5" r="0.6"/><circle cx="490.0" cy="191.2" r="0.6"/><circle cx="457.7" cy="159.9" r="0.6"/><circle cx="490.0" cy="298.8" r="0.6"/><circle cx="462.6" cy="219.8" r="0.6"/><circle cx="455.6" cy="146.7" r="0.6"/><circle cx="493.0" cy="219.8" r="0.6"/><circle cx="499.7" cy="318.4" r="0.6"/><circle cx="461.9" cy="201.1" r="0.6"/><circle cx="470.2" cy="322.3" r="0.6"/><circle cx="457.0" cy="215.5" r="0.6"/><circle cx="456.8" cy="154.7" r="0.6"/><circle cx="486.9" cy="207.6" r="0.6"/><circle cx="497.8" cy="385.6" r="0.6"/><circle cx="504.0" cy="344.2" r="0.6"/><circle cx="457.6" cy="119.8" r="0.6"/><circle cx="489.6" cy="372.6" r="0.6"/><circle cx="486.3" cy="366.1" r="0.6"/><circle cx="500.5" cy="341.3" r="0.6"/><circle cx="460.3" cy="115.6" r="0.6"/><circle cx="493.3" cy="180.2" r="0.6"/><circle cx="462.2" cy="204.0" r="0.6"/><circle cx="463.7" cy="284.7" r="0.6"/></g>
<path d="M461.0,104.5 L461.0,106.5 L461.1,108.5 L461.1,110.5 L461.2,112.5 L461.2,114.5 L461.2,116.5 L461.3,118.5 L461.3,120.5 L461.4,122.5 L461.4,124.5 L461.4,126.5 L461.5,128.5 L461.5,130.5 L461.6,132.5 L461.6,134.5 L461.7,136.5 L461.7,138.5 L461.7,140.5 L461.8,142.5 L461.8,144.5 L461.9,146.5 L461.9,148.5 L461.9,150.5 L462.0,152.5 L462.0,154.5 L462.1,156.5 L462.1,158.5 L462.2,160.5 L462.2,162.5 L462.2,164.5 L462.3,166.5 L462.3,168.5 L462.4,170.5 L462.4,172.5 L462.4,174.5 L462.5,176.5 L462.5,178.5 L462.6,180.5 L462.6,182.5 L462.6,184.5 L462.7,186.5 L462.7,188.5 L462.8,190.5 L462.8,192.5 L462.8,194.5 L462.9,196.5 L462.9,198.5 L463.0,200.5 L463.0,202.5 L463.0,204.5 L463.1,206.5 L463.1,208.5 L463.2,210.5 L463.2,212.5 L463.2,214.5 L463.3,216.5 L463.3,218.5 L463.3,220.5 L463.4,222.5 L463.4,224.5 L463.4,226.5 L463.5,228.5 L463.5,230.5 L463.6,232.5 L463.7,234.5 L463.8,236.5 L463.9,238.5 L464.0,240.5 L464.1,242.5 L464.1,244.5 L464.2,246.5 L464.3,248.5 L464.3,250.5 L464.4,252.5 L464.5,254.5 L464.6,256.5 L464.7,258.5 L464.8,260.5 L464.9,262.5 L465.0,264.5 L465.1,266.5 L465.2,268.5 L465.3,270.5 L465.5,272.5 L465.6,274.5 L465.7,276.5 L465.9,278.5 L466.0,280.5 L466.2,282.5 L466.3,284.5 L466.5,286.5 L466.6,288.5 L466.8,290.5 L467.0,292.5 L467.2,294.5 L467.4,296.5 L467.6,298.5 L467.8,300.5 L468.0,302.5 L468.3,304.5 L468.5,306.5 L468.8,308.5 L469.1,310.5 L469.8,312.5 L470.4,314.5 L471.1,316.5 L471.8,318.5 L472.6,320.5 L473.4,322.5 L474.2,324.5 L475.2,326.5 L476.2,328.5 L477.2,330.5 L477.8,332.5 L478.4,334.5 L479.1,336.5 L479.8,338.5 L480.4,340.5 L481.1,342.5 L481.9,344.5 L482.6,346.5 L483.4,348.5 L484.2,350.5 L485.0,352.5 L485.9,354.5 L486.8,356.5 L487.7,358.5 L488.7,360.5 L489.7,362.5 L490.7,364.5 L491.9,366.5 L493.1,368.5 L494.4,370.5 L495.8,372.5 L497.2,374.5 L498.6,376.5 L500.1,378.5 L501.6,380.5 L503.1,382.5 L504.7,384.5 L506.2,386.5 L507.8,388.5 L509.3,390.5 L510.9,392.5 L512.4,394.5 L513.9,396.5 L515.0,398.0 L530.0,398.0 L529.0,396.5 L527.7,394.5 L526.4,392.5 L525.1,390.5 L523.7,388.5 L522.4,386.5 L521.0,384.5 L519.7,382.5 L518.3,380.5 L517.0,378.5 L515.7,376.5 L514.4,374.5 L513.2,372.5 L512.0,370.5 L510.9,368.5 L509.8,366.5 L508.8,364.5 L507.8,362.5 L506.9,360.5 L506.1,358.5 L505.2,356.5 L504.4,354.5 L503.7,352.5 L502.9,350.5 L502.2,348.5 L501.5,346.5 L500.8,344.5 L500.1,342.5 L499.5,340.5 L498.9,338.5 L498.2,336.5 L497.6,334.5 L497.0,332.5 L496.4,330.5 L495.8,328.5 L495.1,326.5 L494.5,324.5 L493.9,322.5 L493.3,320.5 L492.7,318.5 L492.1,316.5 L491.6,314.5 L491.1,312.5 L490.6,310.5 L490.1,308.5 L489.7,306.5 L489.3,304.5 L488.9,302.5 L488.6,300.5 L488.3,298.5 L488.0,296.5 L487.8,294.5 L487.6,292.5 L487.5,290.5 L487.3,288.5 L487.2,286.5 L487.2,284.5 L487.1,282.5 L487.0,280.5 L487.0,278.5 L486.9,276.5 L486.9,274.5 L486.8,272.5 L486.7,270.5 L486.6,268.5 L486.6,266.5 L486.5,264.5 L486.4,262.5 L486.3,260.5 L486.3,258.5 L486.2,256.5 L486.1,254.5 L486.1,252.5 L486.0,250.5 L485.9,248.5 L485.9,246.5 L485.8,244.5 L485.8,242.5 L485.7,240.5 L485.7,238.5 L485.6,236.5 L485.6,234.5 L485.5,232.5 L485.5,230.5 L485.5,228.5 L485.5,226.5 L485.5,224.5 L485.5,222.5 L485.5,220.5 L485.5,218.5 L485.4,216.5 L485.4,214.5 L485.4,212.5 L485.4,210.5 L485.4,208.5 L485.4,206.5 L485.4,204.5 L485.4,202.5 L485.4,200.5 L485.4,198.5 L485.4,196.5 L485.4,194.5 L485.4,192.5 L485.4,190.5 L485.4,188.5 L485.4,186.5 L485.4,184.5 L485.4,182.5 L485.4,180.5 L485.4,178.5 L485.4,176.5 L485.4,174.5 L485.4,172.5 L485.4,170.5 L485.4,168.5 L485.4,166.5 L485.4,164.5 L485.4,162.5 L485.4,160.5 L485.4,158.5 L485.4,156.5 L485.4,154.5 L485.4,152.5 L485.4,150.5 L485.5,148.5 L485.5,146.5 L485.5,144.5 L485.5,142.5 L485.5,140.5 L485.5,138.5 L485.5,136.5 L485.5,134.5 L485.5,132.5 L485.5,130.5 L485.5,128.5 L485.5,126.5 L485.5,124.5 L485.5,122.5 L485.5,120.5 L485.5,118.5 L485.5,116.5 L485.5,114.5 L485.5,112.5 L485.5,110.5 L485.5,108.5 L485.5,106.5 L485.5,104.5 Z" fill="#7aa7de" stroke="#8c959e" stroke-width="1"/>
<clipPath id="cb"><path d="M461.0,104.5 L461.0,106.5 L461.1,108.5 L461.1,110.5 L461.2,112.5 L461.2,114.5 L461.2,116.5 L461.3,118.5 L461.3,120.5 L461.4,122.5 L461.4,124.5 L461.4,126.5 L461.5,128.5 L461.5,130.5 L461.6,132.5 L461.6,134.5 L461.7,136.5 L461.7,138.5 L461.7,140.5 L461.8,142.5 L461.8,144.5 L461.9,146.5 L461.9,148.5 L461.9,150.5 L462.0,152.5 L462.0,154.5 L462.1,156.5 L462.1,158.5 L462.2,160.5 L462.2,162.5 L462.2,164.5 L462.3,166.5 L462.3,168.5 L462.4,170.5 L462.4,172.5 L462.4,174.5 L462.5,176.5 L462.5,178.5 L462.6,180.5 L462.6,182.5 L462.6,184.5 L462.7,186.5 L462.7,188.5 L462.8,190.5 L462.8,192.5 L462.8,194.5 L462.9,196.5 L462.9,198.5 L463.0,200.5 L463.0,202.5 L463.0,204.5 L463.1,206.5 L463.1,208.5 L463.2,210.5 L463.2,212.5 L463.2,214.5 L463.3,216.5 L463.3,218.5 L463.3,220.5 L463.4,222.5 L463.4,224.5 L463.4,226.5 L463.5,228.5 L463.5,230.5 L463.6,232.5 L463.7,234.5 L463.8,236.5 L463.9,238.5 L464.0,240.5 L464.1,242.5 L464.1,244.5 L464.2,246.5 L464.3,248.5 L464.3,250.5 L464.4,252.5 L464.5,254.5 L464.6,256.5 L464.7,258.5 L464.8,260.5 L464.9,262.5 L465.0,264.5 L465.1,266.5 L465.2,268.5 L465.3,270.5 L465.5,272.5 L465.6,274.5 L465.7,276.5 L465.9,278.5 L466.0,280.5 L466.2,282.5 L466.3,284.5 L466.5,286.5 L466.6,288.5 L466.8,290.5 L467.0,292.5 L467.2,294.5 L467.4,296.5 L467.6,298.5 L467.8,300.5 L468.0,302.5 L468.3,304.5 L468.5,306.5 L468.8,308.5 L469.1,310.5 L469.8,312.5 L470.4,314.5 L471.1,316.5 L471.8,318.5 L472.6,320.5 L473.4,322.5 L474.2,324.5 L475.2,326.5 L476.2,328.5 L477.2,330.5 L477.8,332.5 L478.4,334.5 L479.1,336.5 L479.8,338.5 L480.4,340.5 L481.1,342.5 L481.9,344.5 L482.6,346.5 L483.4,348.5 L484.2,350.5 L485.0,352.5 L485.9,354.5 L486.8,356.5 L487.7,358.5 L488.7,360.5 L489.7,362.5 L490.7,364.5 L491.9,366.5 L493.1,368.5 L494.4,370.5 L495.8,372.5 L497.2,374.5 L498.6,376.5 L500.1,378.5 L501.6,380.5 L503.1,382.5 L504.7,384.5 L506.2,386.5 L507.8,388.5 L509.3,390.5 L510.9,392.5 L512.4,394.5 L513.9,396.5 L515.0,398.0 L530.0,398.0 L529.0,396.5 L527.7,394.5 L526.4,392.5 L525.1,390.5 L523.7,388.5 L522.4,386.5 L521.0,384.5 L519.7,382.5 L518.3,380.5 L517.0,378.5 L515.7,376.5 L514.4,374.5 L513.2,372.5 L512.0,370.5 L510.9,368.5 L509.8,366.5 L508.8,364.5 L507.8,362.5 L506.9,360.5 L506.1,358.5 L505.2,356.5 L504.4,354.5 L503.7,352.5 L502.9,350.5 L502.2,348.5 L501.5,346.5 L500.8,344.5 L500.1,342.5 L499.5,340.5 L498.9,338.5 L498.2,336.5 L497.6,334.5 L497.0,332.5 L496.4,330.5 L495.8,328.5 L495.1,326.5 L494.5,324.5 L493.9,322.5 L493.3,320.5 L492.7,318.5 L492.1,316.5 L491.6,314.5 L491.1,312.5 L490.6,310.5 L490.1,308.5 L489.7,306.5 L489.3,304.5 L488.9,302.5 L488.6,300.5 L488.3,298.5 L488.0,296.5 L487.8,294.5 L487.6,292.5 L487.5,290.5 L487.3,288.5 L487.2,286.5 L487.2,284.5 L487.1,282.5 L487.0,280.5 L487.0,278.5 L486.9,276.5 L486.9,274.5 L486.8,272.5 L486.7,270.5 L486.6,268.5 L486.6,266.5 L486.5,264.5 L486.4,262.5 L486.3,260.5 L486.3,258.5 L486.2,256.5 L486.1,254.5 L486.1,252.5 L486.0,250.5 L485.9,248.5 L485.9,246.5 L485.8,244.5 L485.8,242.5 L485.7,240.5 L485.7,238.5 L485.6,236.5 L485.6,234.5 L485.5,232.5 L485.5,230.5 L485.5,228.5 L485.5,226.5 L485.5,224.5 L485.5,222.5 L485.5,220.5 L485.5,218.5 L485.4,216.5 L485.4,214.5 L485.4,212.5 L485.4,210.5 L485.4,208.5 L485.4,206.5 L485.4,204.5 L485.4,202.5 L485.4,200.5 L485.4,198.5 L485.4,196.5 L485.4,194.5 L485.4,192.5 L485.4,190.5 L485.4,188.5 L485.4,186.5 L485.4,184.5 L485.4,182.5 L485.4,180.5 L485.4,178.5 L485.4,176.5 L485.4,174.5 L485.4,172.5 L485.4,170.5 L485.4,168.5 L485.4,166.5 L485.4,164.5 L485.4,162.5 L485.4,160.5 L485.4,158.5 L485.4,156.5 L485.4,154.5 L485.4,152.5 L485.4,150.5 L485.5,148.5 L485.5,146.5 L485.5,144.5 L485.5,142.5 L485.5,140.5 L485.5,138.5 L485.5,136.5 L485.5,134.5 L485.5,132.5 L485.5,130.5 L485.5,128.5 L485.5,126.5 L485.5,124.5 L485.5,122.5 L485.5,120.5 L485.5,118.5 L485.5,116.5 L485.5,114.5 L485.5,112.5 L485.5,110.5 L485.5,108.5 L485.5,106.5 L485.5,104.5 Z"/></clipPath>
<g clip-path="url(#cb)" stroke-width="1.1" fill="none"><path d="M462.2,104.5 L462.3,108.5 L462.4,112.5 L462.5,116.5 L462.5,120.5 L462.6,124.5 L462.7,128.5 L462.8,132.5 L462.8,136.5 L462.9,140.5 L463.0,144.5 L463.1,148.5 L463.2,152.5 L463.2,156.5 L463.3,160.5 L463.4,164.5 L463.5,168.5 L463.6,172.5 L463.6,176.5 L463.7,180.5 L463.8,184.5 L463.9,188.5 L463.9,192.5 L464.0,196.5 L464.1,200.5 L464.2,204.5 L464.2,208.5 L464.3,212.5 L464.4,216.5 L464.4,220.5 L464.5,224.5 L464.6,228.5 L464.7,232.5 L464.9,236.5 L465.1,240.5 L465.2,244.5 L465.4,248.5 L465.5,252.5 L465.7,256.5 L465.8,260.5 L466.0,264.5 L466.3,268.5 L466.5,272.5 L466.8,276.5 L467.1,280.5 L467.4,284.5 L467.7,288.5 L468.0,292.5 L468.4,296.5 L468.8,300.5 L469.3,304.5 L469.9,308.5 L470.8,312.5 L472.1,316.5 L473.6,320.5 L475.3,324.5 L477.2,328.5 L478.8,332.5 L480.0,336.5 L481.4,340.5 L482.8,344.5 L484.3,348.5 L485.9,352.5 L487.7,356.5 L489.6,360.5 L491.6,364.5 L494.0,368.5 L496.6,372.5 L499.5,376.5 L502.4,380.5 L505.5,384.5 L508.6,388.5 L511.7,392.5 L514.7,396.5 L515.8,398.0" stroke="#6396d4"/><path d="M464.7,104.5 L464.7,108.5 L464.8,112.5 L464.9,116.5 L464.9,120.5 L465.0,124.5 L465.1,128.5 L465.2,132.5 L465.2,136.5 L465.3,140.5 L465.4,144.5 L465.4,148.5 L465.5,152.5 L465.6,156.5 L465.6,160.5 L465.7,164.5 L465.8,168.5 L465.9,172.5 L465.9,176.5 L466.0,180.5 L466.1,184.5 L466.1,188.5 L466.2,192.5 L466.3,196.5 L466.3,200.5 L466.4,204.5 L466.5,208.5 L466.5,212.5 L466.6,216.5 L466.7,220.5 L466.7,224.5 L466.8,228.5 L466.9,232.5 L467.1,236.5 L467.2,240.5 L467.4,244.5 L467.5,248.5 L467.7,252.5 L467.8,256.5 L468.0,260.5 L468.2,264.5 L468.4,268.5 L468.7,272.5 L468.9,276.5 L469.2,280.5 L469.4,284.5 L469.7,288.5 L470.1,292.5 L470.5,296.5 L470.9,300.5 L471.4,304.5 L472.0,308.5 L473.0,312.5 L474.2,316.5 L475.7,320.5 L477.3,324.5 L479.1,328.5 L480.7,332.5 L482.0,336.5 L483.3,340.5 L484.7,344.5 L486.2,348.5 L487.8,352.5 L489.5,356.5 L491.4,360.5 L493.4,364.5 L495.8,368.5 L498.4,372.5 L501.2,376.5 L504.1,380.5 L507.1,384.5 L510.2,388.5 L513.2,392.5 L516.2,396.5 L517.2,398.0" stroke="#a2c0ec"/><path d="M467.1,104.5 L467.2,108.5 L467.2,112.5 L467.3,116.5 L467.4,120.5 L467.4,124.5 L467.5,128.5 L467.5,132.5 L467.6,136.5 L467.7,140.5 L467.7,144.5 L467.8,148.5 L467.9,152.5 L467.9,156.5 L468.0,160.5 L468.0,164.5 L468.1,168.5 L468.2,172.5 L468.2,176.5 L468.3,180.5 L468.3,184.5 L468.4,188.5 L468.5,192.5 L468.5,196.5 L468.6,200.5 L468.6,204.5 L468.7,208.5 L468.8,212.5 L468.8,216.5 L468.9,220.5 L468.9,224.5 L469.0,228.5 L469.1,232.5 L469.3,236.5 L469.4,240.5 L469.5,244.5 L469.7,248.5 L469.8,252.5 L470.0,256.5 L470.2,260.5 L470.3,264.5 L470.6,268.5 L470.8,272.5 L471.0,276.5 L471.3,280.5 L471.5,284.5 L471.8,288.5 L472.1,292.5 L472.5,296.5 L473.0,300.5 L473.5,304.5 L474.1,308.5 L475.1,312.5 L476.3,316.5 L477.7,320.5 L479.3,324.5 L481.1,328.5 L482.6,332.5 L483.9,336.5 L485.2,340.5 L486.6,344.5 L488.1,348.5 L489.7,352.5 L491.4,356.5 L493.2,360.5 L495.2,364.5 L497.6,368.5 L500.1,372.5 L502.9,376.5 L505.8,380.5 L508.8,384.5 L511.8,388.5 L514.8,392.5 L517.7,396.5 L518.8,398.0" stroke="#6396d4"/><path d="M469.6,104.5 L469.6,108.5 L469.7,112.5 L469.7,116.5 L469.8,120.5 L469.8,124.5 L469.9,128.5 L469.9,132.5 L470.0,136.5 L470.0,140.5 L470.1,144.5 L470.1,148.5 L470.2,152.5 L470.3,156.5 L470.3,160.5 L470.4,164.5 L470.4,168.5 L470.5,172.5 L470.5,176.5 L470.6,180.5 L470.6,184.5 L470.7,188.5 L470.7,192.5 L470.8,196.5 L470.8,200.5 L470.9,204.5 L470.9,208.5 L471.0,212.5 L471.0,216.5 L471.1,220.5 L471.1,224.5 L471.2,228.5 L471.3,232.5 L471.4,236.5 L471.6,240.5 L471.7,244.5 L471.9,248.5 L472.0,252.5 L472.1,256.5 L472.3,260.5 L472.5,264.5 L472.7,268.5 L472.9,272.5 L473.2,276.5 L473.4,280.5 L473.6,284.5 L473.9,288.5 L474.2,292.5 L474.6,296.5 L475.1,300.5 L475.6,304.5 L476.3,308.5 L477.2,312.5 L478.4,316.5 L479.8,320.5 L481.3,324.5 L483.1,328.5 L484.5,332.5 L485.8,336.5 L487.1,340.5 L488.5,344.5 L490.0,348.5 L491.5,352.5 L493.2,356.5 L495.1,360.5 L497.0,364.5 L499.3,368.5 L501.9,372.5 L504.6,376.5 L507.5,380.5 L510.4,384.5 L513.4,388.5 L516.3,392.5 L519.2,396.5 L520.2,398.0" stroke="#a2c0ec"/><path d="M472.0,104.5 L472.1,108.5 L472.1,112.5 L472.2,116.5 L472.2,120.5 L472.2,124.5 L472.3,128.5 L472.3,132.5 L472.4,136.5 L472.4,140.5 L472.5,144.5 L472.5,148.5 L472.5,152.5 L472.6,156.5 L472.6,160.5 L472.7,164.5 L472.7,168.5 L472.8,172.5 L472.8,176.5 L472.8,180.5 L472.9,184.5 L472.9,188.5 L473.0,192.5 L473.0,196.5 L473.1,200.5 L473.1,204.5 L473.2,208.5 L473.2,212.5 L473.2,216.5 L473.3,220.5 L473.3,224.5 L473.4,228.5 L473.5,232.5 L473.6,236.5 L473.8,240.5 L473.9,244.5 L474.0,248.5 L474.2,252.5 L474.3,256.5 L474.5,260.5 L474.7,264.5 L474.8,268.5 L475.1,272.5 L475.3,276.5 L475.5,280.5 L475.7,284.5 L476.0,288.5 L476.3,292.5 L476.7,296.5 L477.1,300.5 L477.7,304.5 L478.4,308.5 L479.3,312.5 L480.5,316.5 L481.9,320.5 L483.4,324.5 L485.0,328.5 L486.5,332.5 L487.7,336.5 L489.0,340.5 L490.4,344.5 L491.8,348.5 L493.4,352.5 L495.1,356.5 L496.9,360.5 L498.8,364.5 L501.1,368.5 L503.6,372.5 L506.3,376.5 L509.1,380.5 L512.0,384.5 L515.0,388.5 L517.9,392.5 L520.7,396.5 L521.8,398.0" stroke="#6396d4"/><path d="M474.5,104.5 L474.5,108.5 L474.5,112.5 L474.6,116.5 L474.6,120.5 L474.7,124.5 L474.7,128.5 L474.7,132.5 L474.8,136.5 L474.8,140.5 L474.8,144.5 L474.9,148.5 L474.9,152.5 L474.9,156.5 L475.0,160.5 L475.0,164.5 L475.0,168.5 L475.1,172.5 L475.1,176.5 L475.1,180.5 L475.2,184.5 L475.2,188.5 L475.2,192.5 L475.3,196.5 L475.3,200.5 L475.3,204.5 L475.4,208.5 L475.4,212.5 L475.5,216.5 L475.5,220.5 L475.5,224.5 L475.6,228.5 L475.7,232.5 L475.8,236.5 L475.9,240.5 L476.1,244.5 L476.2,248.5 L476.3,252.5 L476.5,256.5 L476.6,260.5 L476.8,264.5 L477.0,268.5 L477.2,272.5 L477.4,276.5 L477.6,280.5 L477.8,284.5 L478.0,288.5 L478.3,292.5 L478.7,296.5 L479.2,300.5 L479.8,304.5 L480.5,308.5 L481.5,312.5 L482.6,316.5 L483.9,320.5 L485.4,324.5 L487.0,328.5 L488.4,332.5 L489.6,336.5 L490.9,340.5 L492.3,344.5 L493.7,348.5 L495.3,352.5 L496.9,356.5 L498.7,360.5 L500.6,364.5 L502.9,368.5 L505.4,372.5 L508.0,376.5 L510.8,380.5 L513.7,384.5 L516.5,388.5 L519.4,392.5 L522.2,396.5 L523.2,398.0" stroke="#a2c0ec"/><path d="M476.9,104.5 L477.0,108.5 L477.0,112.5 L477.0,116.5 L477.0,120.5 L477.1,124.5 L477.1,128.5 L477.1,132.5 L477.1,136.5 L477.2,140.5 L477.2,144.5 L477.2,148.5 L477.2,152.5 L477.3,156.5 L477.3,160.5 L477.3,164.5 L477.3,168.5 L477.4,172.5 L477.4,176.5 L477.4,180.5 L477.4,184.5 L477.5,188.5 L477.5,192.5 L477.5,196.5 L477.6,200.5 L477.6,204.5 L477.6,208.5 L477.7,212.5 L477.7,216.5 L477.7,220.5 L477.8,224.5 L477.8,228.5 L477.9,232.5 L478.0,236.5 L478.1,240.5 L478.2,244.5 L478.4,248.5 L478.5,252.5 L478.6,256.5 L478.8,260.5 L479.0,264.5 L479.1,268.5 L479.3,272.5 L479.5,276.5 L479.7,280.5 L479.9,284.5 L480.1,288.5 L480.4,292.5 L480.8,296.5 L481.3,300.5 L481.9,304.5 L482.7,308.5 L483.6,312.5 L484.8,316.5 L486.0,320.5 L487.4,324.5 L488.9,328.5 L490.3,332.5 L491.5,336.5 L492.8,340.5 L494.2,344.5 L495.6,348.5 L497.1,352.5 L498.8,356.5 L500.5,360.5 L502.4,364.5 L504.7,368.5 L507.1,372.5 L509.7,376.5 L512.5,380.5 L515.3,384.5 L518.1,388.5 L521.0,392.5 L523.7,396.5 L524.8,398.0" stroke="#6396d4"/><path d="M479.4,104.5 L479.4,108.5 L479.4,112.5 L479.4,116.5 L479.4,120.5 L479.5,124.5 L479.5,128.5 L479.5,132.5 L479.5,136.5 L479.5,140.5 L479.5,144.5 L479.6,148.5 L479.6,152.5 L479.6,156.5 L479.6,160.5 L479.6,164.5 L479.6,168.5 L479.7,172.5 L479.7,176.5 L479.7,180.5 L479.7,184.5 L479.7,188.5 L479.8,192.5 L479.8,196.5 L479.8,200.5 L479.8,204.5 L479.9,208.5 L479.9,212.5 L479.9,216.5 L479.9,220.5 L480.0,224.5 L480.0,228.5 L480.1,232.5 L480.2,236.5 L480.3,240.5 L480.4,244.5 L480.5,248.5 L480.7,252.5 L480.8,256.5 L480.9,260.5 L481.1,264.5 L481.3,268.5 L481.5,272.5 L481.6,276.5 L481.8,280.5 L482.0,284.5 L482.2,288.5 L482.5,292.5 L482.9,296.5 L483.4,300.5 L484.0,304.5 L484.8,308.5 L485.7,312.5 L486.9,316.5 L488.1,320.5 L489.4,324.5 L490.9,328.5 L492.2,332.5 L493.5,336.5 L494.7,340.5 L496.1,344.5 L497.5,348.5 L499.0,352.5 L500.6,356.5 L502.4,360.5 L504.3,364.5 L506.4,368.5 L508.9,372.5 L511.4,376.5 L514.1,380.5 L516.9,384.5 L519.7,388.5 L522.5,392.5 L525.3,396.5 L526.2,398.0" stroke="#a2c0ec"/><path d="M481.8,104.5 L481.8,108.5 L481.8,112.5 L481.9,116.5 L481.9,120.5 L481.9,124.5 L481.9,128.5 L481.9,132.5 L481.9,136.5 L481.9,140.5 L481.9,144.5 L481.9,148.5 L481.9,152.5 L481.9,156.5 L481.9,160.5 L481.9,164.5 L482.0,168.5 L482.0,172.5 L482.0,176.5 L482.0,180.5 L482.0,184.5 L482.0,188.5 L482.0,192.5 L482.0,196.5 L482.0,200.5 L482.1,204.5 L482.1,208.5 L482.1,212.5 L482.1,216.5 L482.1,220.5 L482.2,224.5 L482.2,228.5 L482.3,232.5 L482.3,236.5 L482.5,240.5 L482.6,244.5 L482.7,248.5 L482.8,252.5 L483.0,256.5 L483.1,260.5 L483.3,264.5 L483.4,268.5 L483.6,272.5 L483.8,276.5 L483.9,280.5 L484.0,284.5 L484.2,288.5 L484.5,292.5 L484.9,296.5 L485.5,300.5 L486.1,304.5 L486.9,308.5 L487.9,312.5 L489.0,316.5 L490.2,320.5 L491.5,324.5 L492.9,328.5 L494.1,332.5 L495.4,336.5 L496.6,340.5 L498.0,344.5 L499.4,348.5 L500.9,352.5 L502.5,356.5 L504.2,360.5 L506.1,364.5 L508.2,368.5 L510.6,372.5 L513.1,376.5 L515.8,380.5 L518.6,384.5 L521.3,388.5 L524.1,392.5 L526.8,396.5 L527.8,398.0" stroke="#6396d4"/><path d="M484.3,104.5 L484.3,108.5 L484.3,112.5 L484.3,116.5 L484.3,120.5 L484.3,124.5 L484.3,128.5 L484.3,132.5 L484.3,136.5 L484.3,140.5 L484.3,144.5 L484.3,148.5 L484.3,152.5 L484.3,156.5 L484.3,160.5 L484.3,164.5 L484.3,168.5 L484.3,172.5 L484.3,176.5 L484.3,180.5 L484.3,184.5 L484.3,188.5 L484.3,192.5 L484.3,196.5 L484.3,200.5 L484.3,204.5 L484.3,208.5 L484.3,212.5 L484.3,216.5 L484.4,220.5 L484.4,224.5 L484.4,228.5 L484.4,232.5 L484.5,236.5 L484.6,240.5 L484.7,244.5 L484.9,248.5 L485.0,252.5 L485.1,256.5 L485.3,260.5 L485.4,264.5 L485.6,268.5 L485.7,272.5 L485.9,276.5 L486.0,280.5 L486.1,284.5 L486.3,288.5 L486.6,292.5 L487.0,296.5 L487.5,300.5 L488.2,304.5 L489.1,308.5 L490.0,312.5 L491.1,316.5 L492.2,320.5 L493.5,324.5 L494.8,328.5 L496.1,332.5 L497.3,336.5 L498.5,340.5 L499.8,344.5 L501.2,348.5 L502.7,352.5 L504.3,356.5 L506.0,360.5 L507.9,364.5 L510.0,368.5 L512.3,372.5 L514.9,376.5 L517.5,380.5 L520.2,384.5 L522.9,388.5 L525.6,392.5 L528.3,396.5 L529.2,398.0" stroke="#a2c0ec"/></g>
<path d="M461.0,104.5 L461.0,106.5 L461.1,108.5 L461.1,110.5 L461.2,112.5 L461.2,114.5 L461.2,116.5 L461.3,118.5 L461.3,120.5 L461.4,122.5 L461.4,124.5 L461.4,126.5 L461.5,128.5 L461.5,130.5 L461.6,132.5 L461.6,134.5 L461.7,136.5 L461.7,138.5 L461.7,140.5 L461.8,142.5 L461.8,144.5 L461.9,146.5 L461.9,148.5 L461.9,150.5 L462.0,152.5 L462.0,154.5 L462.1,156.5 L462.1,158.5 L462.2,160.5 L462.2,162.5 L462.2,164.5 L462.3,166.5 L462.3,168.5 L462.4,170.5 L462.4,172.5 L462.4,174.5 L462.5,176.5 L462.5,178.5 L462.6,180.5 L462.6,182.5 L462.6,184.5 L462.7,186.5 L462.7,188.5 L462.8,190.5 L462.8,192.5 L462.8,194.5 L462.9,196.5 L462.9,198.5 L463.0,200.5 L463.0,202.5 L463.0,204.5 L463.1,206.5 L463.1,208.5 L463.2,210.5 L463.2,212.5 L463.2,214.5 L463.3,216.5 L463.3,218.5 L463.3,220.5 L463.4,222.5 L463.4,224.5 L463.4,226.5 L463.5,228.5 L463.5,230.5 L463.6,232.5 L463.7,234.5 L463.8,236.5 L463.9,238.5 L464.0,240.5 L464.1,242.5 L464.1,244.5 L464.2,246.5 L464.3,248.5 L464.3,250.5 L464.4,252.5 L464.5,254.5 L464.6,256.5 L464.7,258.5 L464.8,260.5 L464.9,262.5 L465.0,264.5 L465.1,266.5 L465.2,268.5 L465.3,270.5 L465.5,272.5 L465.6,274.5 L465.7,276.5 L465.9,278.5 L466.0,280.5 L466.2,282.5 L466.3,284.5 L466.5,286.5 L466.6,288.5 L466.8,290.5 L467.0,292.5 L467.2,294.5 L467.4,296.5 L467.6,298.5 L467.8,300.5 L468.0,302.5 L468.3,304.5 L468.5,306.5 L468.8,308.5 L469.1,310.5 L469.8,312.5 L470.4,314.5 L471.1,316.5 L471.8,318.5 L472.6,320.5 L473.4,322.5 L474.2,324.5 L475.2,326.5 L476.2,328.5 L477.2,330.5 L477.8,332.5 L478.4,334.5 L479.1,336.5 L479.8,338.5 L480.4,340.5 L481.1,342.5 L481.9,344.5 L482.6,346.5 L483.4,348.5 L484.2,350.5 L485.0,352.5 L485.9,354.5 L486.8,356.5 L487.7,358.5 L488.7,360.5 L489.7,362.5 L490.7,364.5 L491.9,366.5 L493.1,368.5 L494.4,370.5 L495.8,372.5 L497.2,374.5 L498.6,376.5 L500.1,378.5 L501.6,380.5 L503.1,382.5 L504.7,384.5 L506.2,386.5 L507.8,388.5 L509.3,390.5 L510.9,392.5 L512.4,394.5 L513.9,396.5 L515.0,398.0" fill="none" stroke="#8c959e" stroke-width="1.2"/>
<path d="M485.5,104.5 L485.5,106.5 L485.5,108.5 L485.5,110.5 L485.5,112.5 L485.5,114.5 L485.5,116.5 L485.5,118.5 L485.5,120.5 L485.5,122.5 L485.5,124.5 L485.5,126.5 L485.5,128.5 L485.5,130.5 L485.5,132.5 L485.5,134.5 L485.5,136.5 L485.5,138.5 L485.5,140.5 L485.5,142.5 L485.5,144.5 L485.5,146.5 L485.5,148.5 L485.4,150.5 L485.4,152.5 L485.4,154.5 L485.4,156.5 L485.4,158.5 L485.4,160.5 L485.4,162.5 L485.4,164.5 L485.4,166.5 L485.4,168.5 L485.4,170.5 L485.4,172.5 L485.4,174.5 L485.4,176.5 L485.4,178.5 L485.4,180.5 L485.4,182.5 L485.4,184.5 L485.4,186.5 L485.4,188.5 L485.4,190.5 L485.4,192.5 L485.4,194.5 L485.4,196.5 L485.4,198.5 L485.4,200.5 L485.4,202.5 L485.4,204.5 L485.4,206.5 L485.4,208.5 L485.4,210.5 L485.4,212.5 L485.4,214.5 L485.4,216.5 L485.5,218.5 L485.5,220.5 L485.5,222.5 L485.5,224.5 L485.5,226.5 L485.5,228.5 L485.5,230.5 L485.5,232.5 L485.6,234.5 L485.6,236.5 L485.7,238.5 L485.7,240.5 L485.8,242.5 L485.8,244.5 L485.9,246.5 L485.9,248.5 L486.0,250.5 L486.1,252.5 L486.1,254.5 L486.2,256.5 L486.3,258.5 L486.3,260.5 L486.4,262.5 L486.5,264.5 L486.6,266.5 L486.6,268.5 L486.7,270.5 L486.8,272.5 L486.9,274.5 L486.9,276.5 L487.0,278.5 L487.0,280.5 L487.1,282.5 L487.2,284.5 L487.2,286.5 L487.3,288.5 L487.5,290.5 L487.6,292.5 L487.8,294.5 L488.0,296.5 L488.3,298.5 L488.6,300.5 L488.9,302.5 L489.3,304.5 L489.7,306.5 L490.1,308.5 L490.6,310.5 L491.1,312.5 L491.6,314.5 L492.1,316.5 L492.7,318.5 L493.3,320.5 L493.9,322.5 L494.5,324.5 L495.1,326.5 L495.8,328.5 L496.4,330.5 L497.0,332.5 L497.6,334.5 L498.2,336.5 L498.9,338.5 L499.5,340.5 L500.1,342.5 L500.8,344.5 L501.5,346.5 L502.2,348.5 L502.9,350.5 L503.7,352.5 L504.4,354.5 L505.2,356.5 L506.1,358.5 L506.9,360.5 L507.8,362.5 L508.8,364.5 L509.8,366.5 L510.9,368.5 L512.0,370.5 L513.2,372.5 L514.4,374.5 L515.7,376.5 L517.0,378.5 L518.3,380.5 L519.7,382.5 L521.0,384.5 L522.4,386.5 L523.7,388.5 L525.1,390.5 L526.4,392.5 L527.7,394.5 L529.0,396.5 L530.0,398.0" fill="none" stroke="#8c959e" stroke-width="1.2"/>
<path d="M466,104.5 L479.6,104.5 C479.5,125 478,145 476,152 C474.5,157 471,157 469.5,152 C467.5,145 466.2,125 466,104.5 Z" fill="#f5d000"/>
<clipPath id="cv1"><path d="M398,105.5 C420,104.5 440,104.5 448,105.5 C453,106 454,110 453.5,116 L453.5,132 C453.5,137 451,138.5 446,139 L399,139 C394,138.5 392,136 392,132 L392,113 C392,108 394,106 398,105.5 Z"/></clipPath><clipPath id="cv2"><path d="M399,155 L447,155 C452,155 453.5,158 453.5,163 L453.5,185 C453.5,190 451,192 446,192 L399,192 C394,192 392.5,189 392.5,185 L392.5,162 C392.5,157 394,155 399,155 Z"/></clipPath><clipPath id="cv3"><path d="M399,208.5 L447,208.5 C452,208.5 453.5,211 453.5,216 L454,240 C454,245 451,247.5 446,247.5 L399,247.5 C394,247.5 392,245 392,240 L392,215 C392,210 394,208.5 399,208.5 Z"/></clipPath><clipPath id="cv4"><path d="M399,265 L450,265 C455,265 457,268 457,273 L458,296 C458,301 455,303 450,303 L400,303 C395,303 393,300 393,295 L392.5,272 C392.5,267 394,265 399,265 Z"/></clipPath><clipPath id="cv5"><path d="M400.5,324 L460.6,322.5 C463,330 465,340 467,350 L411.6,366 C407,352 403,338 400.5,324 Z"/></clipPath><clipPath id="cv6"><path d="M415.8,386.6 L470.4,360 C478,372 487,385 500,398 L441,398.5 C432,398 422,394 415.8,386.6 Z"/></clipPath><clipPath id="cs1"><path d="M498,104.5 L535,104.5 C537,106 538,110 537.5,118 C537,126 536,131 533,131.8 C520,131 506,126 500,124.5 C497,123 497,119 497.5,112 Z"/></clipPath><clipPath id="cs2"><path d="M499,151.5 C510,154 522,158 533.8,161.4 C537,163 537.5,170 537,178 C536.5,182 534,183 530,183 C518,180 508,177 500,172.3 C497,170 497.5,160 497.5,155 C497.5,152.5 498,151.5 499,151.5 Z"/></clipPath><clipPath id="cs3"><path d="M498,204 C510,207 522,212 533,216 C537,220 538,230 537.3,236 C536.8,239 534,240 530,240 C518,237 506,235 500,233 C497,231 496.5,220 496.5,210 C496.5,206 497,204 498,204 Z"/></clipPath><clipPath id="cs4"><path d="M499,250 C512,251 525,253 533,255 C537,258 538,270 537.3,277 C536.5,281 533,281.5 528,281.4 C515,281 505,280 500,279 C497,277 496.5,265 496.5,256 C496.5,252 497,250 499,250 Z"/></clipPath><clipPath id="cs5"><path d="M502,297 C512,297 522,297.5 531,298 C535,300 536,310 535,318 C534,321 531,322.5 527,322.5 C518,323 510,323 504,322.5 C500,321 499,312 499.5,303 C500,299 500.5,297 502,297 Z"/></clipPath><clipPath id="cs6"><path d="M509,338 C517,337.5 527,338 534.6,338.5 C536,344 536,350 536.5,355.5 C538,362 539,368 541,372.5 C543,377 546,381 548,383 C551,385 553,386 555,388 C558,391 559,394 560,398 L535,398 C531,390 528,386 524,380 C520,374 517,369 515,365 C512,356 510,347 509,338 Z"/></clipPath>
<path d="M398,105.5 C420,104.5 440,104.5 448,105.5 C453,106 454,110 453.5,116 L453.5,132 C453.5,137 451,138.5 446,139 L399,139 C394,138.5 392,136 392,132 L392,113 C392,108 394,106 398,105.5 Z" fill="#f8f4e7" stroke="#c9c4b3" stroke-width="1.2"/>
<g clip-path="url(#cv1)"><path d="M415.5,116.9 L415.1,117.5 L414.2,118.3 L413.9,117.0 L414.3,116.7Z M442.2,116.1 L440.8,115.6 L442.1,113.5 L444.0,114.5 L443.6,115.8Z M431.6,122.4 L429.7,122.9 L428.9,121.4Z M421.3,115.5 L421.5,117.4 L420.1,117.2 L419.7,116.6 L420.1,115.6Z M409.1,117.0 L407.9,117.2 L408.0,116.0 L408.7,115.8 L409.7,115.8Z M422.5,120.6 L418.6,120.1 L420.9,117.6Z M432.4,133.0 L433.0,131.5 L434.9,131.2 L434.8,133.5Z M406.7,122.3 L408.7,122.4 L407.8,124.5 L406.0,123.8Z M436.7,119.1 L438.0,119.8 L437.6,121.2 L435.6,119.9Z M413.5,131.0 L412.9,130.2 L414.4,129.4 L414.8,130.8Z M439.6,112.8 L439.6,113.9 L438.7,114.8 L437.7,114.0 L437.0,112.8Z M420.8,124.3 L421.5,126.1 L419.1,125.1Z M443.6,118.6 L441.5,118.5 L442.6,116.3Z M436.6,117.2 L435.7,114.7 L437.5,113.4 L438.7,115.9Z M427.4,131.5 L428.0,130.7 L428.9,131.7 L428.4,132.6Z M432.0,132.3 L430.6,132.6 L430.6,130.9 L431.8,131.3Z M428.3,120.9 L428.2,119.5 L429.8,118.7 L429.5,121.2Z M430.0,130.4 L430.9,132.2 L428.7,132.4 L428.1,130.4Z M410.6,114.9 L408.2,115.8 L408.0,113.2Z M437.0,113.9 L438.2,114.3 L438.2,115.6 L436.8,115.3Z M412.7,125.7 L412.9,126.2 L411.4,126.6 L411.0,125.2 L411.7,124.7Z M404.1,122.1 L404.0,123.3 L402.9,122.7Z M440.0,127.5 L440.2,129.5 L439.4,129.2 L438.9,128.7 L439.3,127.4Z M438.5,126.5 L437.1,125.8 L438.1,124.6Z M400.6,128.0 L401.3,127.4 L403.7,127.3 L403.8,129.4 L401.8,129.6Z M403.1,129.9 L404.4,129.1 L404.9,130.7Z M444.0,125.8 L442.9,125.5 L443.9,123.7 L445.2,123.9 L446.0,125.7Z M429.8,118.7 L429.4,120.0 L428.2,120.0 L428.4,118.5Z M429.2,131.8 L429.7,132.4 L429.9,133.4 L428.3,133.5 L428.2,132.6Z M426.9,114.8 L425.2,114.2 L426.0,113.4 L427.0,113.0 L427.4,114.1Z M434.2,114.3 L432.2,113.3 L434.1,112.4Z M411.7,131.9 L412.8,130.1 L413.7,131.7Z M418.2,126.4 L420.4,128.0 L419.0,130.0 L417.0,128.4Z M407.4,113.4 L409.5,113.2 L408.9,114.6 L407.6,114.7Z M419.5,125.9 L418.6,128.6 L417.6,126.4Z M433.7,133.5 L432.3,133.5 L432.1,132.1 L433.5,132.2Z M409.6,125.5 L410.6,126.9 L409.3,127.3Z M428.9,128.2 L428.0,126.2 L429.9,126.0Z M406.4,130.5 L405.0,129.3 L404.6,127.6 L406.6,127.7 L407.6,129.5Z M435.9,122.9 L435.0,121.2 L437.0,120.6Z M409.9,117.3 L411.7,117.1 L411.9,118.4 L410.5,118.6Z M425.7,119.5 L424.8,119.7 L423.8,119.7 L423.7,118.1 L424.6,117.3Z M407.4,129.9 L408.6,131.8 L406.9,132.5Z M419.0,131.6 L419.6,130.2 L421.6,131.0 L420.8,132.0Z M432.6,114.0 L433.8,113.7 L434.5,114.8 L434.3,115.7 L433.4,115.8Z M441.7,118.5 L442.0,117.4 L443.4,117.7 L444.0,119.4 L442.1,120.1Z M413.5,117.7 L413.7,119.6 L412.1,119.1Z M429.4,128.0 L431.4,128.4 L430.4,130.3 L429.1,129.6Z M438.6,120.6 L438.8,123.1 L436.3,122.1Z M410.4,126.6 L408.3,126.6 L410.0,125.3Z M436.6,124.4 L435.2,124.3 L436.1,122.9 L437.3,123.5Z M429.0,116.6 L430.2,114.8 L430.2,116.1Z M413.6,125.1 L411.4,124.8 L412.1,123.6 L413.1,122.8 L414.2,123.9Z M445.1,127.0 L444.6,128.1 L443.4,127.1Z" fill="#c4b59c" stroke="#c4b59c" stroke-width="0.6" stroke-linejoin="round"/><path d="M411.2,127.7 L413.1,128.2 L412.0,131.1Z M445.0,119.6 L445.3,119.1 L445.9,118.4 L447.0,119.3 L446.2,119.9Z M428.6,116.6 L427.6,116.0 L427.1,114.8 L428.8,115.0 L429.7,115.7Z M415.9,132.4 L415.4,133.7 L413.7,134.5 L413.3,133.3 L413.7,131.7Z M402.0,125.0 L401.8,123.7 L402.6,123.1 L403.7,123.3 L403.0,124.6Z M425.5,120.7 L425.0,122.8 L423.3,122.0Z M440.9,113.8 L442.4,114.3 L441.9,115.2Z M420.6,127.0 L418.1,127.9 L418.9,126.1Z" fill="#d2bfae" stroke="#d2bfae" stroke-width="0.6"/></g>
<path d="M399,155 L447,155 C452,155 453.5,158 453.5,163 L453.5,185 C453.5,190 451,192 446,192 L399,192 C394,192 392.5,189 392.5,185 L392.5,162 C392.5,157 394,155 399,155 Z" fill="#f8f4e7" stroke="#c9c4b3" stroke-width="1.2"/>
<g clip-path="url(#cv2)"><path d="M426.9,168.8 L427.4,167.3 L429.1,167.2 L429.4,168.8 L427.7,170.7Z M426.0,167.2 L427.1,167.3 L426.6,168.6 L425.9,168.7 L425.4,167.7Z M427.1,183.2 L429.2,183.0 L428.0,186.0 L426.8,184.7Z M426.4,181.8 L425.2,182.4 L424.3,180.7 L424.8,179.7 L425.9,180.4Z M433.8,181.3 L435.3,180.5 L435.2,182.7Z M445.3,170.5 L445.3,169.7 L446.3,169.7 L447.0,170.3 L445.7,171.0Z M443.0,166.5 L443.1,167.5 L442.7,168.2 L442.1,167.7Z M441.8,174.6 L441.7,172.6 L442.8,174.0Z M413.5,174.0 L410.8,175.1 L410.4,173.6 L412.4,173.1Z M439.0,161.1 L439.8,163.0 L437.0,162.7 L437.6,161.3Z M421.7,176.2 L422.6,177.5 L421.4,177.6Z M401.4,176.4 L400.6,175.0 L402.2,174.9Z M442.8,176.4 L441.4,173.4 L443.5,175.0Z M431.9,168.5 L433.6,166.0 L434.1,169.1Z M402.9,171.7 L401.1,171.0 L401.9,170.4Z M422.5,166.7 L423.1,166.9 L423.6,167.9 L422.3,168.6 L422.0,167.5Z M430.3,184.9 L429.8,186.0 L428.7,185.8 L428.8,185.0Z M401.1,174.3 L399.6,175.4 L398.7,174.0 L399.6,172.7 L400.6,173.4Z M414.1,173.2 L411.9,173.3 L411.3,171.9 L413.3,171.6Z M401.5,176.1 L402.2,178.1 L401.1,178.2 L399.7,177.8 L400.3,175.5Z M437.8,183.5 L436.8,183.5 L436.9,182.9 L437.3,182.2 L438.3,182.4Z M418.4,168.8 L420.3,170.3 L420.1,171.8 L418.3,171.5Z M443.1,176.7 L443.0,177.5 L442.1,177.2 L441.9,175.6 L442.9,176.3Z M443.7,171.4 L443.4,173.2 L442.0,172.6 L442.5,171.0Z M424.2,169.1 L425.8,168.9 L426.3,170.8 L424.6,170.6Z M439.3,167.3 L438.9,166.6 L439.9,165.1 L441.0,166.4Z M438.0,171.2 L437.5,170.4 L437.1,168.6 L439.4,168.0 L439.7,170.1Z M434.2,179.7 L434.9,180.3 L435.0,181.5 L433.6,182.0 L433.1,180.4Z M439.7,175.6 L441.1,175.9 L440.5,177.6 L439.2,177.3Z M416.7,168.6 L417.9,167.1 L418.2,169.2Z M417.0,186.2 L414.2,187.6 L414.2,184.8Z M437.3,180.4 L437.3,178.5 L438.5,179.1 L438.9,180.2Z M407.1,176.2 L408.8,176.4 L409.9,177.1 L407.6,178.5Z M434.3,175.5 L435.2,174.3 L436.7,174.5 L436.3,175.6 L434.3,176.4Z M419.8,180.1 L420.7,181.3 L420.4,182.3 L418.6,182.3 L418.6,181.2Z M427.0,186.7 L426.0,186.2 L425.5,185.2 L427.3,185.0 L428.3,186.0Z M403.7,179.9 L401.7,179.1 L402.3,177.8 L403.4,177.3 L404.1,178.8Z M405.0,173.4 L406.4,174.1 L406.0,175.2 L404.5,175.1Z M411.3,162.6 L412.2,164.1 L411.4,164.3 L410.3,163.7 L410.9,162.8Z M424.5,166.2 L423.0,167.7 L422.4,165.4Z M404.1,180.1 L406.7,179.1 L406.0,181.4Z M404.0,165.7 L402.1,164.9 L403.8,163.7 L404.9,164.6Z M438.2,169.5 L438.4,170.7 L437.8,172.0 L436.7,170.5Z M407.8,167.6 L409.8,167.7 L409.3,169.3Z M431.7,174.6 L432.4,176.8 L429.9,175.4Z M404.8,180.3 L406.2,181.3 L404.9,182.1 L403.9,181.8Z M441.7,177.5 L443.2,177.1 L444.3,179.4 L443.0,179.7 L441.0,178.9Z M433.2,178.2 L431.8,179.0 L431.7,177.3Z M410.9,176.0 L411.9,177.1 L410.8,178.1 L410.4,177.2Z M410.7,162.3 L408.7,162.2 L409.7,160.8Z M441.6,176.7 L442.6,176.7 L443.7,178.3 L442.4,178.4 L440.7,177.7Z M406.4,180.2 L408.1,180.1 L409.7,180.8 L407.7,182.4 L407.1,182.0Z M436.8,180.9 L436.1,179.6 L436.8,178.7 L437.8,179.3 L438.4,179.9Z M404.7,177.4 L404.5,178.5 L403.4,179.2 L402.6,177.8 L403.6,176.5Z M407.2,177.9 L409.4,176.9 L408.7,179.0Z M401.4,171.2 L403.0,169.8 L404.6,171.1 L404.4,173.0 L402.6,172.7Z M404.4,170.8 L403.3,170.1 L403.9,168.6 L406.0,169.8Z M440.5,176.5 L438.4,175.7 L439.8,174.2 L441.6,174.1Z M432.5,162.4 L432.0,159.9 L434.3,161.1Z M420.3,180.1 L421.3,182.2 L419.4,181.6Z" fill="#c4b59c" stroke="#c4b59c" stroke-width="0.6" stroke-linejoin="round"/><path d="M423.5,166.3 L422.4,165.3 L423.7,164.9Z M441.6,170.9 L440.2,173.4 L438.8,172.3Z M410.3,163.5 L412.3,162.3 L412.6,164.6Z M421.5,161.2 L420.2,161.6 L419.5,159.2Z M405.0,178.2 L405.0,179.5 L403.8,178.9Z M424.5,184.6 L425.4,182.2 L427.4,183.3 L427.3,184.8Z M414.1,162.9 L415.5,164.7 L415.0,165.6 L413.1,165.2Z M429.8,179.4 L429.1,178.5 L431.2,178.1 L430.9,179.0Z M407.1,164.4 L408.9,163.4 L408.6,165.5Z M403.8,174.1 L401.5,173.6 L400.8,171.9 L402.6,171.1Z M417.8,161.6 L418.6,160.7 L419.2,161.5 L418.6,162.7Z M401.4,172.8 L401.1,171.2 L401.8,171.3 L402.8,171.3 L401.9,172.5Z M433.0,169.5 L433.9,169.7 L434.1,170.5 L433.2,170.8 L432.5,170.4Z" fill="#d2bfae" stroke="#d2bfae" stroke-width="0.6"/></g>
<path d="M399,208.5 L447,208.5 C452,208.5 453.5,211 453.5,216 L454,240 C454,245 451,247.5 446,247.5 L399,247.5 C394,247.5 392,245 392,240 L392,215 C392,210 394,208.5 399,208.5 Z" fill="#f8f4e7" stroke="#c9c4b3" stroke-width="1.2"/>
<g clip-path="url(#cv3)"><path d="M425.8,233.3 L424.6,235.2 L423.9,233.0 L424.5,231.5Z M417.5,226.5 L417.0,228.0 L415.2,228.0 L416.2,225.8Z M406.0,225.4 L405.7,224.4 L407.5,224.2 L407.2,225.0Z M427.8,216.1 L427.0,218.4 L425.0,216.2Z M415.9,228.0 L417.1,229.9 L414.9,230.1Z M405.4,220.3 L406.2,219.0 L407.3,218.5 L408.7,220.1 L406.8,221.8Z M442.2,231.1 L442.1,229.4 L443.5,230.3Z M415.9,218.8 L414.7,220.1 L413.7,219.5 L413.4,217.4 L415.3,217.9Z M444.1,231.4 L443.3,230.5 L444.4,229.7 L444.9,230.4 L444.7,231.7Z M431.2,222.6 L432.2,224.0 L431.0,224.5 L430.8,223.2Z M429.9,222.1 L430.7,222.2 L430.5,223.4 L429.4,223.6 L428.9,222.6Z M429.7,230.0 L430.3,229.7 L431.3,231.1 L430.3,231.9 L429.4,231.5Z M412.0,230.3 L410.5,229.9 L411.3,229.1 L412.2,229.3Z M413.4,230.1 L412.2,232.1 L410.7,230.5Z M424.9,224.8 L426.4,224.1 L427.1,225.4 L425.8,227.2 L424.2,226.7Z M427.2,217.7 L426.7,219.1 L425.0,218.4 L425.5,216.9Z M408.3,216.6 L407.9,215.2 L410.3,214.4 L410.5,214.9 L409.9,216.3Z M406.2,234.8 L407.3,233.7 L407.5,235.1Z M427.9,219.9 L426.4,220.3 L425.8,218.2Z M439.5,217.6 L441.3,216.4 L441.0,218.9Z M430.9,233.9 L430.7,231.9 L431.4,231.0 L432.4,231.8 L432.5,233.7Z M442.1,231.1 L441.9,232.3 L441.2,232.4 L440.2,231.3 L441.4,231.2Z M413.7,232.4 L414.7,230.9 L416.1,231.6 L415.5,233.5Z M439.8,225.0 L439.1,224.5 L439.6,222.9 L440.5,223.6 L440.8,224.6Z M428.6,229.3 L426.9,232.0 L426.0,229.5Z M421.7,230.7 L422.6,233.1 L421.4,233.0 L420.3,232.3 L420.1,230.5Z M420.4,215.5 L422.2,216.3 L421.6,217.5 L419.8,217.0Z M416.2,223.6 L417.8,223.0 L417.3,225.0Z M412.7,225.2 L413.0,227.3 L411.8,226.9 L411.3,225.6Z M412.8,226.6 L413.0,224.6 L414.9,224.6 L414.9,226.2Z M417.9,216.6 L419.8,217.2 L417.3,219.2Z M406.4,220.5 L404.9,220.4 L405.7,219.2Z M403.0,233.9 L401.9,234.1 L401.0,233.3 L402.2,232.2 L403.2,233.1Z M430.1,221.6 L431.4,221.8 L430.9,223.2 L429.9,222.9Z M442.0,233.0 L442.9,230.9 L444.0,232.2Z M419.0,230.6 L417.5,230.4 L418.7,228.9 L419.6,229.8Z M408.6,237.1 L408.9,239.0 L407.2,237.8Z M403.3,219.8 L403.9,220.8 L402.3,222.1 L401.2,220.4 L402.0,219.0Z M407.6,240.9 L406.5,239.6 L407.5,238.4Z M434.3,238.6 L436.4,238.0 L436.9,239.7Z M438.0,220.2 L439.7,219.6 L439.1,221.5Z M422.2,222.5 L422.6,223.7 L420.8,223.6Z M420.2,215.4 L421.4,214.2 L422.3,215.8Z M430.9,216.1 L431.5,216.7 L430.6,217.3 L430.0,216.6 L430.2,216.0Z M422.4,223.4 L423.8,223.4 L423.9,224.4 L423.3,224.9Z M432.0,218.8 L433.5,220.1 L431.3,220.5Z M410.1,220.4 L408.5,221.3 L408.8,218.9Z M410.1,232.4 L408.5,233.5 L407.8,230.3 L409.7,229.7Z M440.0,233.9 L442.5,233.2 L443.6,234.4 L442.3,236.7 L440.5,236.6Z M410.5,236.8 L412.8,236.9 L411.4,238.0Z M411.6,233.6 L412.5,232.6 L413.5,233.6 L413.1,234.2 L412.2,234.6Z M425.9,239.0 L424.6,239.0 L424.7,237.5 L426.1,237.4Z M432.6,239.5 L431.3,241.1 L430.3,239.1Z M426.8,242.7 L426.5,240.2 L428.6,241.5Z M443.4,234.9 L442.9,233.7 L445.0,233.1 L445.0,234.4Z M423.5,235.2 L422.9,232.7 L423.0,231.2 L424.8,232.1 L424.8,233.6Z M419.0,226.3 L417.2,225.9 L416.2,223.9 L418.6,223.6Z M430.3,239.2 L429.7,237.1 L431.3,237.5Z M408.2,232.3 L408.9,235.2 L406.5,235.0Z M407.6,238.6 L407.3,237.8 L409.1,237.8 L409.8,238.0 L409.0,239.4Z M434.3,237.4 L431.7,236.2 L434.6,234.8Z M430.6,237.7 L430.7,239.2 L429.6,239.5 L428.7,238.7 L429.4,238.0Z" fill="#c4b59c" stroke="#c4b59c" stroke-width="0.6" stroke-linejoin="round"/><path d="M417.1,227.7 L417.4,226.9 L418.8,226.4 L418.4,227.8Z M407.9,240.3 L408.8,238.0 L411.2,238.6 L410.5,241.4Z M410.5,216.8 L409.3,215.3 L411.4,215.6Z M402.1,235.4 L402.8,234.6 L403.9,233.8 L404.3,235.4 L403.1,236.0Z M429.8,233.0 L431.8,232.3 L431.3,233.6Z M425.7,217.5 L424.6,217.5 L424.4,216.1 L425.5,215.5 L426.1,216.1Z M404.1,229.0 L404.5,230.3 L404.2,230.7 L403.3,231.2 L403.1,230.0Z M435.7,230.2 L435.4,231.1 L433.9,230.8 L434.4,229.9Z M418.5,230.7 L419.7,232.6 L417.6,233.0 L416.9,230.4Z M421.7,214.8 L422.1,213.9 L423.4,213.8 L422.8,215.1Z M414.3,224.0 L413.5,223.5 L412.2,222.3 L414.6,221.1 L415.5,222.6Z M418.9,233.8 L420.9,234.2 L421.7,235.5 L421.6,236.8 L418.8,236.2Z M428.1,224.3 L426.8,225.4 L424.1,223.6 L426.2,221.8Z" fill="#d2bfae" stroke="#d2bfae" stroke-width="0.6"/></g>
<path d="M399,265 L450,265 C455,265 457,268 457,273 L458,296 C458,301 455,303 450,303 L400,303 C395,303 393,300 393,295 L392.5,272 C392.5,267 394,265 399,265 Z" fill="#f8f4e7" stroke="#c9c4b3" stroke-width="1.2"/>
<g clip-path="url(#cv4)"><path d="M401.4,285.5 L400.3,284.7 L401.3,283.6 L401.7,284.4Z M424.2,283.4 L423.6,284.8 L422.1,284.1 L423.2,282.4Z M409.7,293.3 L408.2,293.5 L407.7,292.3 L408.9,291.4Z M415.4,297.2 L417.1,297.0 L417.4,297.8 L416.4,298.2Z M437.8,289.8 L441.2,289.9 L439.2,292.5Z M403.1,275.1 L403.6,275.4 L403.8,276.6 L403.0,276.2 L402.5,275.8Z M440.8,281.8 L440.4,283.3 L439.5,282.7Z M426.9,278.4 L424.9,276.8 L426.8,276.1 L427.4,277.2Z M442.0,273.3 L442.9,274.4 L441.5,274.5Z M428.0,294.3 L429.5,294.9 L430.3,296.7 L428.0,296.4Z M407.8,275.1 L407.0,276.6 L405.4,276.8 L405.0,275.8 L406.5,274.0Z M424.2,294.3 L423.9,296.4 L422.3,294.4Z M440.9,288.8 L439.8,287.6 L442.7,286.6Z M439.4,270.7 L440.2,271.8 L438.6,272.9 L437.9,271.0 L438.8,270.3Z M407.0,292.2 L404.3,293.3 L405.3,290.1Z M434.5,289.9 L433.9,287.7 L436.4,288.0 L436.5,289.4Z M420.4,272.8 L420.6,271.2 L422.5,273.0 L422.6,273.8 L421.0,274.6Z M417.3,276.1 L416.0,275.6 L416.8,274.5Z M447.5,281.6 L448.1,282.5 L447.2,284.2 L445.9,281.9Z M438.6,291.1 L437.1,291.7 L437.6,290.4Z M427.9,287.6 L427.0,289.5 L425.4,289.1 L426.4,286.8Z M416.9,281.9 L415.3,282.6 L414.0,281.8 L415.3,280.5Z M419.1,279.6 L416.6,279.9 L417.3,278.6Z M439.0,275.7 L440.0,275.9 L439.9,277.5 L439.1,278.4 L438.0,277.1Z M444.5,276.8 L445.3,277.1 L444.5,278.1Z M424.7,275.0 L423.7,275.6 L423.4,274.7 L424.3,274.0Z M431.4,299.4 L430.0,299.0 L429.9,297.0 L431.0,296.8Z M422.5,290.2 L423.5,290.2 L423.5,291.2 L422.6,291.2Z M440.5,294.3 L441.9,294.7 L441.1,296.1 L439.3,296.5 L439.0,294.5Z M406.7,280.3 L408.9,278.5 L408.7,280.8Z M424.3,276.3 L422.2,277.9 L421.7,275.8 L423.3,275.3Z M411.8,273.4 L412.6,274.7 L411.0,276.3 L410.9,274.3Z M436.7,274.4 L438.3,274.3 L438.1,275.5Z M449.4,284.2 L448.8,286.4 L447.9,284.7Z M411.5,276.9 L410.9,278.2 L409.9,277.3Z M437.5,277.4 L439.0,278.2 L438.6,279.4Z M409.6,283.9 L409.4,283.0 L410.0,282.6 L410.8,283.3Z M414.3,271.6 L417.0,271.6 L415.7,272.8Z M428.2,274.8 L427.4,274.2 L427.7,273.3 L428.3,273.1 L429.2,273.6Z M436.3,283.7 L435.2,282.7 L436.5,281.7Z M434.8,297.6 L435.3,295.7 L436.7,295.9 L436.6,297.5Z M412.4,269.7 L413.0,270.4 L413.3,271.3 L411.8,271.7 L411.0,271.1Z M422.5,292.4 L424.4,294.8 L422.3,294.9 L420.7,293.7Z M423.9,286.7 L423.6,288.0 L422.1,287.0Z M434.4,286.3 L432.8,285.6 L433.1,283.6 L434.3,284.3Z M411.4,290.4 L412.5,289.3 L414.8,290.7 L413.5,291.8Z M406.7,293.0 L404.2,293.7 L405.1,291.9Z M443.4,288.1 L443.8,290.0 L440.7,289.1Z M417.8,293.0 L416.8,294.9 L415.5,293.7 L416.0,292.0Z M429.5,294.2 L430.1,295.9 L429.1,297.0 L426.9,296.7 L426.9,295.0Z M442.0,277.9 L441.9,281.1 L440.3,280.2 L440.3,278.3Z M416.7,291.0 L418.8,292.1 L416.1,292.2Z M430.2,283.4 L431.4,283.3 L431.1,284.7 L430.3,284.5Z M435.9,278.7 L437.3,278.5 L438.7,280.3 L437.8,281.0 L435.5,281.4Z M402.0,287.3 L401.4,287.6 L401.0,286.3 L401.9,285.3 L402.5,285.8Z M437.7,273.7 L437.0,276.0 L435.6,273.9Z M434.0,273.3 L434.9,275.4 L433.4,275.7 L432.5,274.4 L432.8,272.0Z M436.3,289.7 L436.1,291.1 L434.8,290.4 L435.3,289.3Z M426.0,282.6 L426.1,283.9 L424.7,283.5Z M440.4,289.7 L439.0,289.5 L439.8,288.3 L440.6,288.8Z M416.1,288.8 L414.4,287.9 L416.5,286.5Z M446.5,283.2 L446.9,282.4 L447.6,282.7 L447.8,283.8 L446.6,284.2Z M424.0,292.6 L423.8,294.9 L422.1,293.3Z M413.5,287.3 L412.3,288.4 L411.1,287.5 L412.6,285.8Z M445.4,282.0 L446.0,281.1 L446.7,281.6 L446.8,282.4 L446.2,282.7Z M435.2,276.0 L433.8,274.3 L435.6,274.1Z" fill="#c4b59c" stroke="#c4b59c" stroke-width="0.6" stroke-linejoin="round"/><path d="M446.4,289.8 L446.5,292.3 L443.9,290.6Z M412.4,280.2 L411.2,279.8 L412.1,278.5Z M430.4,288.0 L429.9,287.0 L430.4,286.2 L431.4,286.6 L431.0,287.6Z M404.1,281.0 L403.5,281.5 L402.3,281.2 L403.2,280.3 L403.9,280.6Z M414.3,272.5 L411.7,273.9 L412.4,271.0Z M444.2,275.2 L444.9,274.3 L446.2,274.5 L445.9,275.3 L445.3,275.7Z M431.0,283.8 L429.5,283.6 L429.3,282.6 L431.6,282.3Z M430.6,294.0 L428.4,293.1 L428.4,291.6 L429.4,291.1 L431.1,292.4Z M436.2,288.2 L435.6,287.4 L437.4,286.0 L437.9,287.0 L437.7,289.0Z M438.9,279.1 L438.5,280.7 L436.1,279.4 L436.9,277.6 L439.0,277.1Z M414.2,272.1 L412.9,272.7 L413.8,271.4Z M411.7,292.6 L413.8,290.6 L414.9,292.5 L413.2,293.3Z M408.8,292.6 L410.0,294.0 L409.9,296.3 L408.6,296.6 L407.7,294.3Z M429.0,289.8 L426.6,289.6 L426.6,288.1 L428.2,287.2 L428.6,288.1Z M445.1,291.8 L445.3,292.6 L444.5,293.3 L443.8,292.2Z M418.9,271.4 L419.6,271.9 L419.0,273.2 L417.6,272.5 L417.9,271.3Z" fill="#d2bfae" stroke="#d2bfae" stroke-width="0.6"/></g>
<path d="M400.5,324 L460.6,322.5 C463,330 465,340 467,350 L411.6,366 C407,352 403,338 400.5,324 Z" fill="#f8f4e7" stroke="#c9c4b3" stroke-width="1.2"/>
<g clip-path="url(#cv5)"><path d="M419.1,333.5 L420.6,333.4 L420.3,335.3 L419.0,336.2 L418.3,335.0Z M436.2,339.4 L437.3,339.7 L438.5,341.3 L437.3,342.4 L435.8,341.7Z M454.3,348.3 L455.3,346.3 L457.9,347.3 L456.2,349.3Z M427.4,333.6 L427.6,335.6 L426.6,336.7 L425.4,336.2 L425.3,334.4Z M421.8,330.7 L421.9,332.1 L420.1,332.9 L420.2,330.6Z M449.5,333.7 L448.4,335.2 L447.0,334.7 L446.8,332.9 L448.5,333.0Z M414.0,346.3 L414.9,346.9 L414.5,347.5 L413.6,347.5 L412.8,347.1Z M432.3,337.4 L433.5,336.9 L433.4,338.3Z M419.6,343.0 L419.5,341.9 L420.5,342.0 L420.5,343.5Z M423.3,347.9 L422.0,349.2 L420.3,348.8 L421.2,346.4 L423.5,346.9Z M445.5,328.4 L444.0,328.7 L443.7,327.7 L444.8,327.6Z M418.7,333.4 L418.6,334.5 L417.9,334.4 L416.9,333.7 L417.4,333.1Z M415.4,338.7 L413.4,339.0 L413.5,336.9Z M455.5,335.8 L453.9,335.4 L454.9,334.6Z M429.7,350.1 L430.7,347.3 L431.9,349.3Z M419.3,348.8 L421.6,348.5 L420.8,350.3 L419.2,350.5Z M417.2,339.1 L418.6,338.3 L418.3,339.7Z M415.4,335.4 L416.6,334.1 L417.4,335.6 L415.8,336.9Z M414.8,341.4 L413.6,342.6 L413.1,341.7 L413.3,341.0 L413.9,340.4Z M415.7,351.9 L414.4,352.1 L414.7,350.5 L416.4,351.0Z M413.0,350.4 L411.4,351.4 L411.6,349.7Z M453.5,343.0 L453.9,344.2 L453.0,345.5 L451.6,345.7 L451.7,343.1Z M428.9,345.6 L428.5,344.4 L429.2,343.7 L429.9,344.9Z M426.7,349.3 L426.4,346.7 L428.1,347.0 L429.3,348.4Z M458.5,339.1 L459.7,339.0 L460.8,341.0 L457.9,341.1Z M422.5,341.1 L423.5,338.9 L426.0,338.4 L424.6,341.1Z M453.4,340.2 L454.2,338.7 L455.3,340.5 L454.1,340.7Z M445.5,330.5 L446.9,330.8 L445.2,331.9Z M452.5,352.9 L453.2,353.3 L452.3,354.1 L451.7,354.0 L450.9,352.9Z M423.9,340.4 L422.4,339.8 L424.1,338.1 L425.2,339.4Z M409.3,339.5 L408.3,338.9 L408.0,337.7 L409.3,337.6 L410.2,338.9Z M453.6,347.9 L451.9,347.3 L453.4,346.8Z M411.9,341.8 L412.0,343.2 L410.8,343.4 L410.9,342.5Z M424.7,330.4 L426.2,330.3 L427.7,331.0 L426.2,332.0 L425.0,331.2Z M415.9,344.6 L416.6,346.9 L414.6,346.9 L413.9,345.4Z M410.8,335.2 L412.6,335.2 L412.4,336.9Z M447.1,337.5 L447.0,338.8 L445.1,337.8Z M426.7,353.8 L425.8,354.5 L425.2,353.0 L426.3,352.7 L426.7,353.3Z M450.7,348.3 L449.4,349.7 L449.0,347.9Z M448.8,353.1 L448.0,350.3 L450.7,350.7Z M456.1,338.3 L457.3,336.9 L458.1,337.7 L458.9,339.1 L457.1,339.0Z M428.9,331.3 L430.6,334.4 L427.9,333.9Z M431.0,339.9 L430.9,337.5 L433.3,338.0Z M418.9,353.3 L417.0,353.0 L417.8,351.0Z M454.4,334.7 L454.5,333.8 L455.9,333.3 L456.3,334.0 L455.8,335.0Z M441.8,343.6 L440.8,343.8 L440.2,342.2 L441.5,342.3Z M453.9,341.2 L452.8,339.6 L452.7,338.8 L455.0,338.5 L455.1,339.1Z M412.6,334.0 L413.7,332.4 L415.4,332.5 L415.4,334.9Z M444.5,337.3 L445.6,337.6 L445.7,339.0 L444.5,339.4Z M415.8,342.0 L416.1,341.0 L418.1,340.3 L417.8,342.2Z M422.0,333.3 L420.5,332.9 L419.8,331.5 L422.2,331.5Z M433.5,346.8 L432.0,346.4 L432.1,345.4 L433.7,345.1 L434.2,346.0Z M427.0,345.2 L428.7,342.9 L429.0,345.6Z M407.0,341.4 L406.1,340.7 L406.7,340.2 L407.9,340.0 L407.9,341.3Z M455.4,336.0 L453.1,337.0 L452.5,334.1Z M450.3,344.3 L449.3,344.3 L449.3,343.3 L449.9,343.1 L450.6,343.5Z M457.1,337.6 L458.8,338.1 L458.4,339.8 L457.2,339.4Z M424.1,344.5 L423.5,342.8 L424.9,343.4Z M414.9,347.9 L414.9,349.2 L413.6,348.0 L414.2,347.2Z M448.8,331.6 L446.8,330.3 L448.5,329.4 L450.6,330.3Z M412.2,351.2 L412.7,351.0 L413.5,351.9 L413.0,352.2 L412.2,352.7Z M442.3,336.5 L442.2,338.4 L441.0,337.8Z M456.5,344.8 L457.3,346.5 L456.5,347.5 L455.3,345.7Z M453.7,331.0 L455.0,331.3 L455.1,332.3 L453.7,331.7Z M452.3,349.2 L453.8,347.9 L454.8,349.2Z M439.9,353.4 L438.1,354.5 L436.5,351.3 L438.5,350.7Z M421.7,350.9 L420.3,348.9 L422.8,348.1 L423.6,349.8Z" fill="#c4b59c" stroke="#c4b59c" stroke-width="0.6" stroke-linejoin="round"/><path d="M455.6,348.5 L457.2,348.5 L456.7,350.2Z M417.1,342.8 L418.7,345.0 L416.7,345.2Z M448.0,346.8 L446.9,346.0 L447.2,344.4 L448.9,345.4Z M415.8,352.4 L414.1,353.5 L414.2,352.1Z M415.9,332.2 L416.2,330.9 L417.4,330.8 L418.2,331.7 L417.6,332.0Z M427.8,337.6 L426.2,338.2 L425.3,336.4Z M443.1,339.6 L444.9,339.1 L444.4,340.7Z M407.0,342.9 L409.4,341.2 L409.9,343.9Z M449.4,333.6 L450.2,334.4 L448.8,334.7Z M424.7,335.2 L425.3,334.7 L426.0,334.1 L426.4,335.7 L425.4,336.1Z M421.1,351.9 L421.0,352.7 L419.8,352.0 L419.8,351.3 L421.0,350.8Z M455.3,347.0 L455.1,348.1 L454.2,348.8 L453.9,347.9 L453.9,346.9Z M452.0,339.9 L453.5,339.2 L454.2,340.4 L453.8,342.0 L452.1,341.6Z M441.1,346.9 L441.9,347.5 L441.1,348.0 L439.9,348.1 L440.2,347.0Z M418.2,330.5 L417.8,329.2 L419.3,329.4Z M428.9,350.0 L429.9,348.6 L430.2,349.7Z M432.2,336.2 L432.4,337.6 L430.7,336.9Z M441.0,341.4 L441.5,342.3 L441.0,343.5 L439.9,342.6 L440.1,341.7Z M426.3,337.8 L425.1,337.1 L425.7,335.6 L427.1,335.1 L427.8,337.8Z M436.3,330.9 L438.1,331.8 L438.7,333.3 L436.5,333.6Z M441.8,349.6 L441.7,351.4 L440.6,351.0 L440.1,349.5Z" fill="#d2bfae" stroke="#d2bfae" stroke-width="0.6"/></g>
<path d="M415.8,386.6 L470.4,360 C478,372 487,385 500,398 L441,398.5 C432,398 422,394 415.8,386.6 Z" fill="#f8f4e7" stroke="#c9c4b3" stroke-width="1.2"/>
<g clip-path="url(#cv6)"><path d="M455.9,392.3 L456.8,395.8 L454.7,394.6Z M484.7,381.0 L484.1,381.7 L482.5,380.8 L482.7,379.7 L484.4,380.1Z M483.5,377.6 L481.4,375.7 L482.6,373.9 L484.4,375.8Z M447.6,391.5 L449.4,392.3 L448.0,394.2 L446.5,393.4Z M435.8,389.2 L434.7,388.7 L436.4,388.3Z M463.1,381.5 L463.1,382.4 L462.4,382.3 L462.0,381.4Z M453.8,382.9 L453.0,382.5 L453.2,381.2 L454.2,382.1Z M444.8,374.3 L444.4,373.0 L446.2,371.8 L446.6,373.4Z M442.8,376.1 L443.3,376.6 L443.6,377.9 L442.5,377.6 L442.1,376.9Z M489.5,386.1 L490.9,386.9 L489.4,389.3 L488.6,387.6Z M476.6,389.7 L475.0,389.5 L476.2,387.1Z M469.3,380.9 L468.8,378.8 L470.2,379.8Z M446.0,371.2 L446.4,372.3 L446.0,373.2 L445.1,371.8Z M482.2,378.7 L481.7,378.3 L482.5,377.4 L483.1,377.9 L482.7,378.8Z M435.7,388.8 L438.0,391.2 L436.5,391.8 L434.9,390.7Z M481.8,384.0 L482.8,385.7 L481.5,385.9 L480.6,385.7 L480.7,384.1Z M479.3,386.6 L477.2,386.6 L477.0,384.5 L479.1,384.3Z M477.9,392.6 L477.2,390.1 L478.8,391.3Z M488.6,374.2 L489.6,375.0 L489.4,376.1 L488.0,375.6Z M443.6,391.7 L443.9,389.8 L444.4,388.6 L445.9,390.1 L446.0,391.4Z M445.5,385.0 L443.6,383.9 L445.7,382.5Z M447.9,384.5 L446.6,385.2 L444.6,384.9 L445.5,383.5 L447.1,383.4Z M441.3,374.8 L443.2,374.3 L443.0,376.5Z M473.5,371.2 L475.6,370.3 L475.2,371.7Z M447.1,385.2 L445.8,386.6 L445.5,384.6Z M463.5,394.5 L464.4,395.2 L463.4,396.5 L462.5,395.2Z M453.0,390.6 L453.3,389.8 L453.9,389.8 L454.3,390.2 L453.9,391.2Z M472.6,389.4 L475.0,388.9 L474.3,390.8Z M461.7,376.5 L462.9,378.2 L461.3,377.7Z M480.2,380.0 L480.8,381.3 L479.0,382.4 L477.9,380.7 L478.5,379.0Z M426.8,378.9 L425.2,379.8 L426.0,377.5Z M452.1,389.6 L454.2,389.3 L453.4,391.9Z M433.2,374.8 L434.2,375.7 L434.1,376.3 L433.1,376.3 L432.4,375.8Z M426.7,390.0 L425.5,389.8 L425.2,388.6 L427.4,389.3Z M467.8,396.4 L467.7,397.8 L465.3,397.4 L466.0,394.8Z M433.8,389.7 L433.6,389.0 L434.0,388.0 L434.9,388.7Z M445.7,388.3 L444.7,387.1 L445.3,385.3 L447.2,385.2 L447.7,387.4Z M474.7,375.5 L475.0,372.9 L477.3,373.5 L477.2,376.1Z M473.3,381.6 L471.7,380.3 L473.0,379.6Z M444.6,388.4 L442.2,388.7 L443.3,387.1Z M444.6,377.7 L445.5,379.2 L444.1,380.4Z M481.1,385.9 L483.1,384.5 L483.6,387.0Z M467.5,380.4 L467.0,378.5 L468.3,378.8 L468.9,380.2Z M425.8,379.1 L427.7,379.4 L427.1,380.7Z M434.0,387.8 L434.5,384.9 L436.7,385.4Z M463.3,378.5 L462.2,378.5 L462.6,377.2 L463.6,377.8Z M488.5,390.5 L489.2,389.1 L490.5,390.3 L489.8,391.4 L488.2,391.6Z M486.3,377.9 L487.6,377.9 L487.1,379.6 L486.0,378.9Z M476.3,393.5 L477.1,392.7 L477.9,393.5 L478.4,394.5 L476.5,394.8Z M453.8,370.6 L455.5,370.1 L456.0,371.7 L455.1,372.9Z M481.4,390.6 L480.4,387.8 L482.5,388.3Z M485.0,388.9 L486.1,390.7 L484.4,391.9 L484.5,390.0Z M434.3,385.7 L434.9,386.4 L433.9,387.7 L433.3,387.0 L433.0,386.3Z M451.8,396.4 L451.2,397.9 L449.9,396.0Z M462.1,394.0 L460.8,391.9 L462.6,390.8 L463.4,392.0 L463.6,393.4Z M491.7,376.4 L491.9,374.7 L492.8,376.5Z M477.2,385.7 L478.2,384.2 L478.8,386.3Z M487.2,391.9 L487.6,394.2 L485.7,394.3 L485.9,391.9Z M448.3,390.9 L447.2,389.1 L449.1,388.0Z M451.7,398.5 L449.9,397.2 L451.0,395.7 L452.7,397.6Z M443.4,392.2 L443.1,392.7 L442.2,392.0 L443.1,391.3Z M462.5,375.8 L462.9,377.2 L461.6,377.6Z M490.2,377.9 L492.2,378.3 L491.8,380.6 L489.5,380.4Z M455.7,376.3 L454.6,374.7 L455.1,374.1 L456.8,374.3 L456.7,375.9Z M447.0,371.0 L448.2,370.8 L447.6,372.4Z M495.0,378.6 L494.6,379.5 L493.1,379.2 L493.8,378.1Z M459.9,370.9 L460.7,372.7 L459.2,372.6 L459.0,371.2Z M446.0,373.7 L444.3,373.2 L443.6,372.0 L445.6,371.4 L446.4,372.2Z M455.8,371.6 L454.9,371.6 L454.3,370.5 L455.4,369.8 L456.9,370.5Z M476.7,393.8 L476.1,393.1 L476.8,392.1 L477.7,392.3 L477.7,393.8Z M476.8,389.9 L475.6,389.0 L477.2,388.0Z M445.6,393.9 L445.2,394.6 L444.3,393.5Z M481.1,372.7 L480.3,374.0 L479.5,373.2Z M448.4,381.0 L447.9,380.0 L449.0,379.9 L449.3,380.5 L449.2,380.9Z M462.3,388.2 L460.9,385.7 L462.8,386.2Z M428.3,379.3 L427.7,377.6 L429.6,376.9 L430.2,378.8Z M475.3,387.8 L476.8,386.2 L477.4,388.0Z M448.2,381.9 L446.7,381.8 L447.3,380.6 L448.6,380.4Z M484.4,392.1 L484.4,394.8 L482.0,392.0Z M443.8,374.6 L445.8,374.9 L444.2,376.1Z M469.5,386.0 L470.6,386.7 L470.4,387.7 L469.0,388.6 L469.1,386.9Z M465.8,383.6 L466.8,383.8 L466.2,385.0Z M449.7,388.9 L451.4,388.5 L452.5,389.4 L451.7,391.4 L450.5,390.4Z M455.0,374.6 L456.8,376.7 L454.4,377.6Z M477.9,388.6 L478.0,389.9 L476.0,390.2 L475.2,389.3 L476.2,388.2Z M448.4,382.6 L449.8,382.5 L450.7,384.2 L448.7,384.4Z M482.8,375.1 L480.7,374.2 L482.3,373.1 L484.5,373.9Z M476.9,383.3 L478.6,385.7 L476.5,385.7 L475.8,384.0Z M458.7,393.6 L458.9,395.1 L457.6,395.1 L457.3,393.5Z M425.2,379.3 L427.3,380.4 L426.0,381.4 L424.7,381.5 L424.5,380.8Z M465.8,383.4 L464.2,382.3 L466.2,381.5Z M452.1,395.5 L453.0,395.6 L453.1,397.2 L452.2,397.2 L451.3,396.6Z M442.3,386.1 L440.7,387.3 L440.3,384.8Z M433.8,376.7 L432.8,376.2 L432.4,375.9 L432.9,374.7 L433.8,375.3Z M436.8,375.5 L437.6,374.5 L438.3,374.6 L438.4,376.2 L437.2,376.8Z" fill="#c4b59c" stroke="#c4b59c" stroke-width="0.6" stroke-linejoin="round"/><path d="M430.0,380.7 L431.0,379.4 L432.0,381.1 L430.8,381.8Z M441.1,388.5 L441.2,386.5 L442.4,385.9 L443.0,387.8Z M469.6,386.1 L471.0,385.2 L471.3,386.8Z M452.3,371.4 L455.4,370.5 L455.8,372.9Z M427.7,379.3 L428.8,377.7 L430.3,379.8Z M488.3,378.0 L487.4,376.3 L488.3,374.7 L490.2,376.9Z M438.8,389.0 L438.5,390.0 L436.9,390.3 L437.1,389.3 L437.4,388.4Z M452.9,392.1 L450.9,390.6 L452.5,389.4 L453.6,390.2 L454.8,391.6Z M436.4,376.5 L434.1,377.5 L433.8,375.0 L435.0,375.2Z M472.1,382.7 L474.1,382.4 L474.7,383.3 L473.9,384.9 L472.0,385.5Z M455.9,374.3 L453.5,374.7 L454.6,372.1 L456.7,373.5Z M457.6,373.6 L459.7,372.1 L460.4,374.5 L458.6,374.6Z M472.7,389.0 L473.3,388.6 L474.1,389.2 L473.9,390.1 L472.9,390.2Z M441.4,376.2 L441.6,377.4 L440.8,377.5 L440.4,377.1 L440.8,376.3Z M492.7,381.8 L490.9,381.5 L491.1,380.0 L492.0,380.0Z M441.1,384.1 L443.0,384.8 L443.1,386.6 L440.9,385.6Z" fill="#d2bfae" stroke="#d2bfae" stroke-width="0.6"/></g>
<path d="M498,104.5 L535,104.5 C537,106 538,110 537.5,118 C537,126 536,131 533,131.8 C520,131 506,126 500,124.5 C497,123 497,119 497.5,112 Z" fill="#f8f4e7" stroke="#c9c4b3" stroke-width="1.2"/>
<g clip-path="url(#cs1)"><path d="M529.4,111.0 L529.8,112.5 L528.3,113.3 L527.4,111.9Z M513.2,111.5 L512.9,112.8 L511.1,113.2 L511.0,111.9 L512.5,111.0Z M527.4,121.7 L524.9,121.3 L526.4,119.4Z M513.4,107.2 L514.4,106.4 L515.5,108.0Z M515.3,126.4 L515.5,124.2 L517.5,125.5Z M512.1,121.8 L511.0,120.0 L512.6,120.2Z M516.3,108.7 L514.5,108.3 L514.9,107.2 L516.7,107.1 L517.3,108.6Z M523.9,108.8 L525.2,109.1 L524.7,110.7 L523.6,110.8Z M504.0,111.8 L504.1,112.9 L501.9,112.9 L502.3,110.4Z M526.0,110.3 L527.8,111.8 L525.7,112.3Z M533.1,119.5 L533.4,119.9 L532.6,121.3 L531.7,120.4 L531.8,119.4Z M520.9,125.0 L522.3,122.6 L523.4,123.9Z M502.3,118.9 L502.1,115.5 L504.3,117.5Z M520.8,115.3 L520.9,114.4 L522.1,113.7 L522.9,114.8 L522.1,115.5Z M516.3,126.6 L517.4,126.5 L518.0,127.4 L516.9,127.9 L516.1,127.0Z M526.7,122.6 L527.4,121.6 L528.5,122.5 L527.8,123.8 L526.5,124.4Z M511.9,107.9 L513.1,107.4 L513.2,108.8 L512.5,109.0Z M503.4,115.6 L502.7,116.6 L500.9,115.4 L501.4,114.1 L503.1,114.1Z M515.8,125.1 L516.4,123.1 L517.4,123.6 L518.4,125.2 L517.0,125.6Z M509.5,110.6 L509.6,111.9 L509.1,112.0 L508.4,111.1 L508.7,110.6Z M510.2,109.7 L511.4,108.5 L512.1,109.7 L511.6,110.6 L510.3,110.4Z M519.7,113.3 L519.2,114.2 L518.3,113.8 L518.4,113.0Z M511.5,119.1 L514.2,118.6 L513.7,120.5Z M520.1,115.4 L519.6,116.7 L518.3,115.9 L518.7,115.2Z M507.2,121.4 L507.7,120.2 L508.4,120.3 L508.9,121.5 L507.8,121.7Z M504.4,119.6 L502.5,119.1 L502.7,117.4 L504.3,116.0 L505.2,117.6Z M513.2,125.6 L512.0,126.1 L512.4,124.7Z" fill="#c4b59c" stroke="#c4b59c" stroke-width="0.6" stroke-linejoin="round"/><path d="M513.8,120.0 L515.3,119.8 L515.1,121.3 L514.2,121.5 L513.4,120.7Z M512.8,118.7 L512.7,117.7 L513.7,117.6 L513.7,118.4Z M507.6,110.6 L506.2,109.7 L507.1,108.0 L508.2,109.0Z M529.4,118.2 L528.3,116.2 L529.8,116.0 L530.6,116.8Z M507.4,119.4 L507.6,121.3 L506.2,120.2Z M531.4,117.7 L532.0,116.9 L532.8,117.4 L533.2,118.6 L532.4,118.7Z M506.2,117.1 L506.5,118.1 L505.2,118.2 L505.4,117.3Z M516.8,109.2 L514.8,110.4 L516.0,107.1Z M511.6,122.0 L512.0,120.8 L513.6,121.8 L512.7,122.4Z M512.4,115.9 L513.3,114.2 L514.2,114.9 L513.7,116.2Z" fill="#d2bfae" stroke="#d2bfae" stroke-width="0.6"/></g>
<path d="M499,151.5 C510,154 522,158 533.8,161.4 C537,163 537.5,170 537,178 C536.5,182 534,183 530,183 C518,180 508,177 500,172.3 C497,170 497.5,160 497.5,155 C497.5,152.5 498,151.5 499,151.5 Z" fill="#f8f4e7" stroke="#c9c4b3" stroke-width="1.2"/>
<g clip-path="url(#cs2)"><path d="M513.1,175.3 L512.1,176.9 L510.4,176.6 L510.4,175.3Z M507.2,163.7 L507.9,161.3 L509.6,162.6Z M520.1,168.8 L519.4,168.7 L518.7,167.4 L520.1,167.5Z M502.8,167.4 L500.5,168.8 L500.3,167.0Z M531.7,161.0 L533.7,160.3 L534.8,161.7 L532.9,162.6 L531.1,162.0Z M524.6,175.6 L525.2,177.4 L522.5,177.1Z M532.2,162.3 L533.2,162.6 L533.9,163.4 L532.3,164.1 L531.8,163.1Z M523.2,155.9 L521.7,155.8 L522.1,154.1 L524.5,155.1Z M531.6,165.0 L530.8,163.8 L531.2,162.9 L533.0,163.9 L532.3,165.6Z M529.0,176.0 L529.3,178.1 L527.0,178.2Z M504.1,161.0 L506.3,159.9 L505.8,162.4Z M525.2,169.6 L525.4,168.9 L525.9,168.7 L526.9,169.4 L526.0,170.0Z M524.6,169.4 L523.4,166.6 L526.5,166.6Z M532.3,162.5 L533.5,162.8 L533.1,163.4 L532.6,164.2 L531.6,163.7Z M511.3,163.5 L510.5,161.5 L512.9,161.4Z M525.8,177.7 L524.0,178.1 L523.1,176.9 L522.3,175.7 L524.8,174.9Z M520.5,159.0 L521.4,157.0 L523.7,157.7 L523.4,159.0 L521.8,160.4Z M520.5,174.5 L519.4,173.8 L521.3,172.3 L521.9,173.5Z M519.6,166.9 L519.2,165.8 L521.0,165.8 L521.0,166.7 L519.7,167.6Z M512.0,169.8 L510.0,169.3 L510.9,167.4 L512.2,167.3Z M510.1,156.4 L510.0,158.5 L507.0,158.0 L507.7,156.3 L508.6,156.1Z M503.3,160.3 L502.9,159.3 L504.3,159.7Z M519.7,175.2 L517.8,175.8 L518.5,173.8Z M523.7,157.4 L525.3,157.4 L524.4,158.5Z M512.3,167.1 L512.2,165.7 L513.0,165.2 L513.5,166.2 L513.4,167.1Z M514.1,161.3 L513.4,160.9 L513.4,160.2 L514.7,159.8 L515.1,161.0Z M503.2,176.4 L504.2,175.3 L504.5,176.4Z M519.8,171.0 L519.2,169.1 L520.9,169.9Z M532.4,163.0 L532.3,162.3 L532.9,161.4 L533.8,162.0 L533.5,163.2Z M504.5,169.7 L501.8,169.6 L502.6,167.9 L504.4,167.5Z M520.9,155.9 L520.9,154.2 L522.1,155.0Z M521.3,175.1 L521.4,176.3 L520.2,176.3Z M507.9,170.9 L504.7,169.4 L506.8,167.4 L508.3,168.2Z M522.4,164.6 L521.4,164.5 L520.6,163.5 L521.8,161.9 L523.0,163.4Z M515.0,163.9 L513.7,164.0 L514.8,162.9Z M503.3,171.3 L501.9,169.6 L503.7,169.2Z M525.6,164.9 L523.1,166.3 L523.4,164.2Z M505.4,161.2 L504.2,161.1 L504.0,160.3 L505.4,159.9Z M532.6,165.7 L531.7,166.7 L531.3,165.7 L531.6,165.1Z" fill="#c4b59c" stroke="#c4b59c" stroke-width="0.6" stroke-linejoin="round"/><path d="M520.0,156.9 L521.3,156.3 L522.2,157.4 L521.1,158.9 L519.9,159.0Z M516.8,154.9 L518.3,154.2 L519.9,155.4 L519.4,157.5 L517.6,157.8Z M511.9,178.6 L513.3,177.8 L513.4,180.5 L511.7,180.5Z M513.5,166.3 L513.0,167.3 L511.7,167.4 L511.6,165.6Z M523.8,165.1 L523.1,166.3 L521.3,165.8 L521.8,164.9 L522.5,164.0Z M519.3,176.0 L517.9,175.8 L517.9,174.1 L518.7,174.6Z M530.8,159.5 L531.0,158.0 L532.7,159.1 L532.8,160.7 L531.0,160.3Z M518.5,158.1 L519.8,155.9 L520.9,157.7Z M530.3,165.9 L532.2,165.9 L532.8,167.2 L531.2,168.5Z" fill="#d2bfae" stroke="#d2bfae" stroke-width="0.6"/></g>
<path d="M498,204 C510,207 522,212 533,216 C537,220 538,230 537.3,236 C536.8,239 534,240 530,240 C518,237 506,235 500,233 C497,231 496.5,220 496.5,210 C496.5,206 497,204 498,204 Z" fill="#f8f4e7" stroke="#c9c4b3" stroke-width="1.2"/>
<g clip-path="url(#cs3)"><path d="M503.5,226.0 L504.3,228.2 L501.8,228.2Z M523.4,235.8 L522.4,236.6 L521.8,235.7 L521.6,234.7 L523.1,234.6Z M524.6,224.6 L525.3,223.2 L526.1,223.4 L526.8,223.7 L525.6,224.8Z M524.9,224.5 L525.4,223.3 L527.2,224.9Z M518.3,207.3 L518.6,208.5 L517.4,208.9 L517.0,207.9 L517.8,207.6Z M510.8,233.2 L511.8,234.7 L511.7,236.0 L509.9,235.5 L509.3,234.0Z M522.2,233.3 L523.9,233.5 L524.2,234.5 L523.3,235.0 L522.6,234.7Z M510.5,226.4 L509.6,227.5 L507.5,226.9 L508.5,225.1Z M518.0,227.4 L520.2,226.9 L519.7,228.9 L518.4,228.4Z M520.5,213.5 L518.8,213.0 L520.1,211.9 L520.7,212.2Z M504.5,219.8 L505.9,219.9 L505.2,221.0 L504.6,221.4 L503.8,220.2Z M525.2,216.1 L526.2,217.1 L524.9,217.3 L524.1,216.4Z M510.7,213.3 L513.0,212.4 L513.4,214.8 L511.7,216.2Z M533.7,216.0 L535.0,217.5 L532.8,217.5Z M522.5,229.9 L523.6,228.8 L524.5,229.7 L523.6,230.9Z M527.5,218.3 L527.3,219.8 L525.2,219.5 L525.7,218.5Z M502.7,220.1 L502.2,222.1 L500.4,220.8Z M516.6,235.3 L516.7,237.2 L514.9,237.9 L514.1,236.6 L515.0,234.9Z M521.9,237.6 L520.9,236.1 L522.9,236.9Z M514.8,235.8 L514.1,235.2 L515.2,234.6 L516.1,235.7Z M502.9,228.1 L502.6,230.0 L500.6,229.9 L501.1,227.5Z M513.0,223.7 L513.9,222.8 L514.9,222.4 L515.8,223.4 L515.2,224.5Z M507.9,209.8 L508.0,208.9 L508.6,208.4 L509.2,209.6Z M514.2,223.1 L514.0,222.1 L515.4,222.3Z M528.9,233.8 L529.3,232.4 L530.4,232.9 L530.2,234.0 L529.5,234.1Z M529.9,234.8 L528.8,234.8 L528.8,233.9 L529.6,233.2 L530.2,234.2Z M509.4,218.3 L509.0,215.9 L511.1,216.4 L511.9,218.7Z M515.3,209.9 L515.8,208.4 L516.8,207.9 L518.3,210.2 L517.5,211.0Z M502.4,223.1 L504.1,224.8 L502.9,227.3 L500.5,225.9Z M502.8,226.8 L504.4,226.5 L504.2,228.3Z M519.1,215.7 L517.1,216.0 L517.3,214.8Z M520.5,233.4 L522.3,235.0 L520.0,236.6Z M528.4,221.3 L528.5,219.9 L529.7,221.3Z M532.8,226.7 L534.6,228.3 L532.1,228.7Z M509.7,228.7 L509.7,227.1 L511.3,228.0Z M524.0,228.3 L523.8,230.3 L521.8,229.2Z M522.6,236.4 L521.9,236.0 L521.7,234.8 L522.8,235.1Z M503.2,226.1 L505.0,227.1 L504.0,228.3 L502.9,227.6Z M524.8,211.0 L522.8,211.2 L522.8,210.2 L523.2,209.5 L524.4,210.2Z M505.6,229.6 L507.8,229.4 L507.6,230.6 L506.0,230.5Z M516.9,219.7 L518.2,220.2 L517.3,221.5Z M510.5,231.9 L509.9,230.4 L511.6,230.3 L511.6,230.9Z M504.4,233.5 L505.0,234.5 L504.1,234.5Z M511.6,217.0 L512.4,218.3 L511.2,218.3 L511.0,217.4Z M513.4,221.3 L514.0,219.0 L516.1,219.6 L515.5,221.3Z M509.9,235.0 L508.7,235.0 L508.2,234.4 L509.0,233.5 L509.6,233.4Z M527.7,221.7 L528.3,221.3 L529.9,221.1 L529.6,222.9 L527.8,223.4Z M532.8,221.2 L531.9,219.1 L533.7,217.9 L534.3,219.9Z" fill="#c4b59c" stroke="#c4b59c" stroke-width="0.6" stroke-linejoin="round"/><path d="M505.2,216.2 L504.1,217.4 L503.6,216.3 L505.0,215.4Z M520.9,212.3 L522.1,213.2 L520.5,213.6Z M522.6,218.0 L525.3,216.0 L525.5,218.2Z M515.9,221.7 L514.6,222.0 L514.1,220.4 L515.6,220.6Z M513.7,218.6 L512.3,219.7 L511.1,218.2Z M528.5,235.2 L526.2,235.1 L526.8,232.6 L528.5,233.5Z M526.1,229.7 L525.0,230.4 L524.5,230.0 L524.2,228.6 L525.9,228.4Z M514.7,215.0 L512.7,215.4 L512.1,213.9 L513.5,213.1Z M516.3,235.1 L516.4,234.4 L518.3,234.6 L518.1,235.4 L517.3,236.7Z M498.5,220.2 L501.2,218.2 L502.3,220.3Z" fill="#d2bfae" stroke="#d2bfae" stroke-width="0.6"/></g>
<path d="M499,250 C512,251 525,253 533,255 C537,258 538,270 537.3,277 C536.5,281 533,281.5 528,281.4 C515,281 505,280 500,279 C497,277 496.5,265 496.5,256 C496.5,252 497,250 499,250 Z" fill="#f8f4e7" stroke="#c9c4b3" stroke-width="1.2"/>
<g clip-path="url(#cs4)"><path d="M514.6,270.6 L514.8,271.9 L514.1,272.6 L512.8,272.9 L513.1,271.4Z M504.2,268.8 L504.6,267.4 L506.2,268.1 L505.1,269.1Z M506.5,260.0 L505.1,258.1 L507.2,258.1Z M503.5,266.4 L504.1,268.5 L503.1,269.6 L502.3,267.3Z M519.9,273.0 L518.3,272.4 L519.0,271.6 L520.0,271.8Z M512.4,261.6 L513.4,260.3 L514.4,260.8 L515.8,262.5 L513.1,263.6Z M517.0,265.1 L514.8,265.9 L514.5,263.1Z M521.7,270.7 L522.8,270.5 L522.5,271.8 L521.3,271.8Z M515.9,257.1 L516.3,258.4 L515.2,259.8 L513.5,258.7 L514.6,257.3Z M531.1,272.1 L530.4,270.3 L531.5,270.0 L533.3,270.9 L532.3,272.7Z M505.1,273.4 L504.4,274.1 L503.3,274.0 L504.1,272.5Z M513.1,261.3 L512.7,260.4 L513.9,259.0 L514.6,260.7Z M509.5,260.3 L509.4,259.1 L510.1,258.3 L510.7,259.6Z M528.3,266.0 L529.0,267.1 L528.1,268.1 L526.9,267.3Z M516.5,274.7 L514.9,275.3 L515.5,273.7Z M524.8,275.8 L525.1,274.7 L526.1,275.7 L526.4,276.5 L524.9,276.4Z M523.8,266.2 L525.1,267.0 L525.1,269.3 L523.0,268.4Z M532.1,263.2 L532.1,263.7 L531.0,264.2 L530.6,263.3 L531.3,262.7Z M526.3,260.0 L528.1,258.3 L529.4,259.8 L528.2,261.4Z M517.5,276.0 L519.6,275.9 L518.0,277.3Z M516.4,253.7 L519.4,254.5 L517.2,256.4Z M503.7,263.5 L505.0,262.5 L505.8,263.9Z M525.4,264.4 L526.0,266.0 L524.1,266.2 L524.2,264.0Z M523.6,266.2 L525.0,265.1 L526.7,266.2 L525.2,267.9Z M522.0,274.6 L523.1,275.7 L522.9,276.7 L521.7,276.3 L521.5,275.7Z M516.1,265.4 L518.1,265.9 L517.1,267.4Z M513.6,277.2 L514.6,275.8 L516.5,276.4 L514.9,278.4Z M514.7,275.2 L515.2,277.0 L512.9,276.5 L513.6,274.8Z M513.1,256.5 L515.1,257.7 L513.6,258.5Z M528.1,265.0 L528.5,263.8 L529.7,263.7 L529.1,264.8Z M524.9,260.5 L525.4,259.4 L526.9,259.8 L526.3,261.7 L525.5,261.9Z M502.4,271.9 L502.8,270.6 L505.3,271.5 L503.5,272.5Z M502.1,273.1 L502.4,270.3 L504.9,271.5 L503.5,273.0Z M530.8,270.1 L529.7,269.3 L531.1,267.3 L532.9,268.5 L532.7,269.9Z M505.4,270.4 L504.0,270.1 L503.9,268.0 L505.7,267.8 L506.5,268.8Z M531.4,267.6 L530.3,266.2 L531.8,265.5Z M518.9,279.3 L518.9,277.6 L521.3,277.7 L521.9,279.2Z M530.5,265.5 L530.4,263.6 L532.3,264.7Z M505.0,260.9 L505.6,259.8 L506.8,259.7 L506.9,260.8 L506.5,261.2Z" fill="#c4b59c" stroke="#c4b59c" stroke-width="0.6" stroke-linejoin="round"/><path d="M509.4,259.2 L509.5,258.1 L510.2,257.5 L511.1,258.6 L510.2,260.0Z M528.5,267.2 L528.4,267.9 L527.1,267.9 L527.1,266.9Z M523.7,267.3 L522.8,265.6 L525.4,264.3 L525.5,266.1Z M507.6,261.7 L505.8,260.4 L507.6,259.6 L508.9,260.0Z M531.4,273.3 L533.1,274.0 L531.3,274.9Z M512.9,272.0 L514.7,272.4 L513.9,274.1 L512.7,274.1Z M514.7,264.4 L513.0,265.4 L513.1,263.0Z M523.6,276.0 L523.0,274.5 L524.1,273.5 L525.0,275.7Z M513.5,272.8 L514.9,274.1 L514.3,275.7 L512.6,274.9Z M522.5,253.5 L523.1,254.7 L521.7,255.0 L521.3,253.6Z M519.7,268.3 L518.6,270.0 L516.9,268.8 L518.2,268.0Z" fill="#d2bfae" stroke="#d2bfae" stroke-width="0.6"/></g>
<path d="M502,297 C512,297 522,297.5 531,298 C535,300 536,310 535,318 C534,321 531,322.5 527,322.5 C518,323 510,323 504,322.5 C500,321 499,312 499.5,303 C500,299 500.5,297 502,297 Z" fill="#f8f4e7" stroke="#c9c4b3" stroke-width="1.2"/>
<g clip-path="url(#cs5)"><path d="M505.0,309.6 L503.2,310.5 L502.3,309.6 L503.5,308.6Z M514.5,312.1 L514.5,309.7 L516.7,308.8 L517.6,311.4Z M514.8,315.1 L515.9,315.8 L515.5,316.6 L514.4,316.3Z M510.6,307.2 L511.9,306.1 L512.7,307.6 L511.6,308.3Z M506.0,306.2 L505.2,306.3 L504.5,305.5 L505.9,304.9Z M524.7,303.5 L525.3,301.5 L526.9,302.9Z M512.1,314.7 L511.4,313.9 L512.9,312.8 L513.0,314.0Z M518.7,307.7 L519.2,305.1 L521.4,306.3 L520.4,308.2Z M526.4,310.3 L526.5,311.0 L526.5,311.8 L525.7,311.7 L525.6,310.8Z M519.7,308.4 L518.2,307.1 L518.6,306.4 L520.5,306.1 L521.0,307.5Z M529.3,313.6 L529.4,314.1 L528.6,314.7 L527.9,313.9Z M522.7,304.0 L521.2,306.0 L520.2,302.8Z M530.7,310.7 L528.1,311.1 L528.9,308.9 L530.1,309.3Z M511.6,309.3 L512.1,310.6 L510.9,310.9Z M522.7,303.8 L523.0,304.5 L522.3,306.0 L521.6,305.6 L521.6,304.5Z M524.6,314.2 L524.0,314.3 L523.4,312.9 L524.4,312.2 L525.4,313.1Z M508.2,314.7 L510.2,315.0 L509.9,317.2 L508.2,318.1 L507.6,315.8Z M507.7,314.7 L509.3,315.0 L509.1,316.8 L507.5,317.4Z M506.8,312.3 L506.3,309.3 L509.0,309.6Z M530.1,309.6 L531.7,309.9 L530.5,311.2Z M508.5,309.0 L509.5,308.7 L509.8,310.0 L509.0,310.3Z M519.8,307.4 L519.1,306.3 L521.0,306.1 L522.1,307.6 L521.0,308.2Z M511.5,306.6 L512.9,306.1 L513.2,307.9 L511.5,308.3Z M511.8,301.5 L512.5,299.3 L514.4,300.9 L513.2,301.5Z M506.0,314.3 L505.5,313.9 L506.0,312.6 L506.7,313.4 L506.7,313.9Z M524.9,308.5 L523.9,306.7 L526.6,307.2Z M520.0,308.3 L522.3,308.9 L519.9,310.1Z M531.9,305.9 L531.2,308.6 L530.3,306.0Z" fill="#c4b59c" stroke="#c4b59c" stroke-width="0.6" stroke-linejoin="round"/><path d="M520.1,307.1 L520.8,308.5 L519.5,308.4Z M520.8,313.4 L520.3,311.0 L523.1,310.4 L522.9,313.0Z M526.4,311.0 L525.2,311.6 L523.9,311.6 L524.7,309.8 L526.1,309.5Z M531.4,312.9 L532.0,313.5 L530.5,315.2 L530.1,313.2Z M531.4,306.7 L532.4,307.4 L531.9,308.9 L530.7,308.2Z M516.8,314.3 L515.7,311.8 L517.7,311.6Z" fill="#d2bfae" stroke="#d2bfae" stroke-width="0.6"/></g>
<path d="M509,338 C517,337.5 527,338 534.6,338.5 C536,344 536,350 536.5,355.5 C538,362 539,368 541,372.5 C543,377 546,381 548,383 C551,385 553,386 555,388 C558,391 559,394 560,398 L535,398 C531,390 528,386 524,380 C520,374 517,369 515,365 C512,356 510,347 509,338 Z" fill="#f8f4e7" stroke="#c9c4b3" stroke-width="1.2"/>
<g clip-path="url(#cs6)"><path d="M518.2,373.1 L516.1,374.4 L513.9,373.0 L516.5,371.8Z M528.2,376.1 L529.1,375.6 L529.1,377.1Z M532.8,355.6 L532.2,357.3 L530.5,356.4Z M523.8,384.7 L522.4,385.0 L523.5,383.3Z M537.3,389.6 L535.9,389.8 L536.2,388.7 L537.2,388.4Z M516.0,381.6 L514.9,379.9 L516.5,380.1Z M547.2,359.7 L545.6,358.5 L545.9,356.4 L547.1,356.8 L547.8,358.0Z M541.5,354.1 L542.6,353.3 L544.1,354.2 L543.7,355.8Z M552.3,360.9 L554.1,360.4 L554.3,363.1 L552.4,363.9 L551.3,362.6Z M550.5,369.2 L549.1,368.6 L549.1,367.3 L550.5,367.5Z M539.3,368.5 L539.7,367.9 L541.0,368.3 L539.7,369.3Z M537.4,361.0 L539.1,360.8 L539.9,361.4 L539.1,362.7 L538.1,362.3Z M516.9,367.7 L518.4,367.4 L518.6,369.6 L517.2,370.7 L516.3,368.8Z M533.6,380.3 L534.6,381.2 L534.8,381.9 L533.7,382.4 L533.0,381.6Z M515.9,381.4 L514.8,381.9 L513.3,380.8 L515.3,379.3Z M519.1,362.0 L518.0,362.0 L518.0,360.8 L520.4,360.8Z M548.7,379.6 L549.7,381.8 L548.7,382.8 L547.0,382.0 L547.5,380.2Z M552.1,349.9 L551.8,352.0 L550.4,351.9 L550.0,350.4 L550.7,349.7Z M524.5,355.3 L526.9,353.9 L527.0,356.7Z M530.2,353.9 L531.7,353.3 L532.6,355.5 L530.7,355.9Z M551.5,364.5 L549.5,366.5 L547.9,364.2 L550.5,363.0Z M518.5,386.3 L520.0,385.9 L521.7,386.8 L519.5,388.6 L518.4,387.4Z M530.4,364.7 L529.0,364.3 L530.4,362.2 L532.0,363.3Z M521.0,345.4 L523.0,345.3 L522.6,347.3Z M519.3,389.5 L520.4,389.3 L521.1,390.4 L520.4,390.6 L519.4,390.7Z M542.8,384.6 L543.7,385.9 L542.8,386.5 L542.1,385.7Z M536.6,383.8 L538.8,385.7 L536.1,386.8Z M534.3,350.3 L536.1,350.5 L535.6,351.9Z M548.6,362.8 L547.2,363.2 L547.0,361.5 L548.5,361.1 L549.0,362.2Z M532.2,376.1 L532.6,378.8 L530.3,378.0Z M552.6,358.1 L554.3,357.4 L555.0,358.4 L553.7,359.8Z M541.2,363.3 L542.0,362.2 L543.1,362.7 L542.0,364.6Z M547.4,354.3 L547.6,355.1 L546.9,355.5 L546.4,355.1Z M541.1,390.0 L541.0,388.7 L542.6,388.0 L543.2,389.1Z M523.0,393.2 L521.0,393.4 L521.5,391.8 L523.2,391.6Z M529.6,351.3 L528.8,351.5 L527.8,351.7 L528.4,350.2 L529.0,349.8Z M547.2,368.2 L548.4,366.8 L549.3,367.9Z M529.2,367.6 L528.7,366.4 L530.1,366.1 L530.1,367.2Z M547.9,358.5 L547.6,360.0 L546.6,360.3 L546.8,358.8Z M549.0,391.8 L546.8,393.4 L545.8,392.5 L547.0,390.2Z M520.2,377.7 L519.4,375.2 L522.5,375.5Z M536.5,376.4 L535.6,377.1 L534.9,376.2 L535.9,375.3Z M517.9,366.7 L518.4,367.5 L518.3,369.1 L517.3,368.8 L515.8,368.0Z M548.0,388.2 L546.6,387.3 L548.1,387.0Z M552.6,377.2 L551.2,378.7 L550.5,377.3 L551.0,376.5 L551.5,376.6Z M552.2,360.2 L552.5,361.7 L550.3,360.8Z M521.1,370.5 L520.6,368.7 L521.9,367.8 L523.6,369.1 L522.6,370.3Z M545.4,391.5 L546.9,390.0 L547.7,390.3 L547.1,392.5Z M516.1,373.7 L516.9,372.2 L518.4,373.0 L517.2,374.7Z M514.3,367.2 L512.9,365.5 L514.7,365.2 L515.6,367.4Z M514.8,383.8 L516.0,383.9 L516.2,385.1 L514.8,385.2Z M539.6,352.3 L539.2,354.5 L536.7,353.8 L537.2,351.8 L538.6,351.8Z M532.3,386.3 L532.4,387.7 L530.9,386.9Z M532.6,372.5 L531.9,370.4 L535.3,370.8Z M547.0,371.0 L545.8,373.0 L543.6,372.1 L545.0,371.0Z M536.8,364.0 L536.7,362.3 L538.7,362.9 L538.3,364.8Z M533.2,372.9 L533.2,371.4 L534.3,371.7 L534.9,372.7 L534.2,373.7Z M534.6,380.7 L534.9,379.8 L536.0,379.9 L535.7,380.7Z M545.7,385.3 L546.3,385.1 L547.3,384.8 L547.0,386.2 L546.0,386.9Z M548.9,355.9 L548.5,358.0 L546.8,356.6Z M522.2,367.9 L522.2,366.5 L523.5,367.0Z M546.0,364.9 L544.4,364.3 L544.7,363.0 L546.4,363.1Z M513.9,367.6 L514.9,366.2 L515.1,367.1Z M529.1,359.4 L530.3,358.7 L530.6,360.1Z M521.1,349.7 L521.8,348.0 L523.3,347.9 L523.2,349.7Z M516.4,373.5 L516.2,375.7 L514.6,375.3 L513.9,373.2Z M530.2,382.6 L530.0,381.4 L531.1,381.9Z M529.5,356.7 L530.8,355.1 L531.4,357.1Z M536.4,392.6 L535.8,393.4 L533.5,393.0 L534.5,391.6Z M543.8,384.1 L545.5,384.7 L545.1,385.9 L543.4,387.1 L543.1,385.1Z M538.2,348.1 L540.8,349.0 L538.8,350.5Z M544.3,377.4 L546.0,377.3 L545.2,379.8Z M549.1,381.9 L550.4,381.0 L550.1,382.8Z M514.7,361.9 L515.9,363.4 L514.4,364.4 L513.3,362.8Z M539.3,374.5 L540.7,375.6 L539.5,376.5 L538.7,375.7Z M534.9,348.4 L535.4,349.9 L534.7,351.1 L532.5,349.6 L533.9,348.4Z M536.9,372.0 L538.6,374.0 L538.5,375.3 L536.5,374.8 L535.8,373.5Z M535.6,354.3 L534.2,355.6 L532.8,355.0 L533.5,353.0 L535.4,352.4Z M533.7,369.3 L535.1,368.6 L535.7,369.5Z M526.7,361.7 L525.3,363.3 L524.1,360.7Z M549.4,359.0 L550.7,359.2 L549.8,360.8 L549.0,361.8 L548.3,359.6Z M545.4,357.9 L546.8,359.4 L546.2,360.6 L544.8,360.0Z M527.5,364.1 L529.4,361.9 L529.5,364.5Z M520.3,388.9 L522.1,385.7 L523.7,388.5Z M521.9,368.3 L523.0,367.6 L524.4,368.1 L524.0,370.5 L521.7,370.3Z M528.2,358.6 L526.3,360.3 L525.5,359.8 L525.9,357.6 L526.8,358.0Z M532.7,374.2 L529.8,375.2 L530.8,372.3Z M528.6,350.2 L528.1,347.5 L530.9,348.4Z M530.5,388.4 L531.2,387.3 L531.9,387.9Z M539.3,379.1 L538.3,377.8 L539.2,377.1 L540.1,377.8 L540.3,379.0Z M523.7,366.6 L522.5,366.4 L521.9,365.5 L522.7,364.5 L524.2,365.2Z M545.6,389.4 L546.6,388.2 L548.0,388.2 L547.5,389.3 L546.5,389.9Z" fill="#c4b59c" stroke="#c4b59c" stroke-width="0.6" stroke-linejoin="round"/><path d="M524.5,385.9 L526.4,385.0 L525.9,387.2Z M515.6,382.5 L516.0,381.6 L517.1,381.4 L517.0,382.3 L515.8,383.7Z M537.2,380.5 L539.1,380.1 L538.9,381.5 L537.0,381.8Z M519.8,392.1 L519.7,390.5 L521.5,391.0Z M535.2,377.8 L532.6,379.1 L532.5,376.9 L534.1,376.7Z M539.4,374.5 L540.4,375.7 L538.6,375.9Z M525.8,390.6 L525.2,391.0 L524.4,389.9 L525.5,390.1Z M531.0,388.1 L530.0,385.9 L532.2,386.1Z M531.8,343.3 L530.4,341.3 L533.3,341.3Z M547.3,364.1 L550.1,365.2 L548.9,366.7 L546.7,366.3Z M542.0,362.9 L540.5,362.4 L540.3,360.5 L542.9,360.6Z M524.5,357.7 L525.2,358.4 L524.8,359.2 L523.8,359.4 L523.0,358.5Z M514.6,386.1 L514.1,384.6 L514.3,382.9 L516.2,382.8 L516.6,385.8Z M544.8,353.1 L543.2,351.4 L544.0,350.7 L545.1,351.6Z M522.0,351.6 L522.7,353.5 L521.1,353.0Z M520.9,369.0 L523.5,367.8 L521.8,370.7Z M550.4,351.2 L551.3,351.4 L551.1,352.8 L549.8,353.5 L548.8,352.5Z M525.8,388.1 L522.9,389.5 L523.4,387.2Z M539.0,390.9 L540.5,390.1 L540.8,391.3 L539.5,392.0Z M549.3,360.8 L549.4,359.6 L549.6,359.1 L550.5,359.7 L550.7,360.8Z M529.8,363.0 L530.4,361.8 L531.2,361.5 L532.6,362.3 L532.1,363.4Z M525.6,378.3 L525.4,377.1 L526.7,377.9 L526.6,378.8 L525.5,378.9Z M539.3,370.9 L537.3,371.1 L537.8,368.4 L539.5,369.6Z M537.7,391.7 L537.0,391.5 L537.1,390.2 L538.4,390.0 L538.4,391.1Z M534.4,358.4 L534.4,356.7 L536.2,357.8Z M533.1,365.9 L532.6,364.6 L532.9,363.4 L534.5,363.4 L534.4,365.9Z M538.9,359.3 L541.7,358.3 L541.6,361.5Z M527.7,393.5 L529.0,393.4 L529.8,394.5 L528.0,395.4 L527.6,394.2Z M542.5,359.8 L540.5,359.2 L541.8,358.4Z M517.6,376.9 L515.6,377.0 L515.3,375.6 L516.9,374.8Z M550.9,355.3 L549.2,354.8 L550.5,352.9 L551.9,353.2 L552.1,354.6Z M523.8,391.2 L521.1,390.9 L522.5,389.0Z M523.9,357.6 L524.8,357.7 L524.6,359.2 L522.9,359.0Z M539.8,360.3 L539.0,360.5 L537.8,360.5 L537.9,358.9 L539.4,359.0Z M519.1,359.7 L519.4,357.6 L521.3,358.9 L520.8,359.8Z" fill="#d2bfae" stroke="#d2bfae" stroke-width="0.6"/></g>
<clipPath id="cd1"><path d="M393,140 C410,138 436,138 453,140 C456,144 456,151 453,154.5 C436,156.5 410,156.5 393,154.5 C390,151 390,144 393,140 Z"/></clipPath>
<path d="M393,140 C410,138 436,138 453,140 C456,144 456,151 453,154.5 C436,156.5 410,156.5 393,154.5 C390,151 390,144 393,140 Z" fill="#97bfca"/>
<g clip-path="url(#cd1)" fill="none" stroke="#6b9fb0" stroke-width="0.8"><g transform="rotate(0 424.0 147.5)"><ellipse cx="424.0" cy="147.5" rx="4.0" ry="2.1"/><ellipse cx="424.0" cy="147.5" rx="8.0" ry="4.2"/><ellipse cx="424.0" cy="147.5" rx="12.0" ry="6.3"/><ellipse cx="424.0" cy="147.5" rx="16.0" ry="8.4"/><ellipse cx="424.0" cy="147.5" rx="19.9" ry="10.5"/><ellipse cx="424.0" cy="147.5" rx="23.9" ry="12.6"/><ellipse cx="424.0" cy="147.5" rx="27.9" ry="14.7"/><ellipse cx="424.0" cy="147.5" rx="31.9" ry="16.8"/><ellipse cx="424.0" cy="147.5" rx="35.9" ry="18.9"/><ellipse cx="424.0" cy="147.5" rx="39.9" ry="21.0"/><ellipse cx="424.0" cy="147.5" rx="43.9" ry="23.1"/><ellipse cx="424.0" cy="147.5" rx="47.9" ry="25.2"/><ellipse cx="424.0" cy="147.5" rx="51.9" ry="27.3"/><ellipse cx="424.0" cy="147.5" rx="55.9" ry="29.4"/><ellipse cx="424.0" cy="147.5" rx="59.8" ry="31.5"/><ellipse cx="424.0" cy="147.5" rx="63.8" ry="33.6"/><ellipse cx="424.0" cy="147.5" rx="67.8" ry="35.7"/><ellipse cx="424.0" cy="147.5" rx="71.8" ry="37.8"/><ellipse cx="424.0" cy="147.5" rx="75.8" ry="39.9"/></g></g>
<path d="M393,140 C410,138 436,138 453,140 C456,144 456,151 453,154.5 C436,156.5 410,156.5 393,154.5 C390,151 390,144 393,140 Z" fill="none" stroke="#8aaebb" stroke-width="0.8"/>
<clipPath id="cd2"><path d="M393,192.5 C410,191 436,191 453,192.5 C456,196 456,204 453,208 C436,209.5 410,209.5 393,208 C390,204 390,196 393,192.5 Z"/></clipPath>
<path d="M393,192.5 C410,191 436,191 453,192.5 C456,196 456,204 453,208 C436,209.5 410,209.5 393,208 C390,204 390,196 393,192.5 Z" fill="#97bfca"/>
<g clip-path="url(#cd2)" fill="none" stroke="#6b9fb0" stroke-width="0.8"><g transform="rotate(0 425.0 200.0)"><ellipse cx="425.0" cy="200.0" rx="4.0" ry="2.1"/><ellipse cx="425.0" cy="200.0" rx="8.0" ry="4.2"/><ellipse cx="425.0" cy="200.0" rx="12.0" ry="6.3"/><ellipse cx="425.0" cy="200.0" rx="16.0" ry="8.4"/><ellipse cx="425.0" cy="200.0" rx="19.9" ry="10.5"/><ellipse cx="425.0" cy="200.0" rx="23.9" ry="12.6"/><ellipse cx="425.0" cy="200.0" rx="27.9" ry="14.7"/><ellipse cx="425.0" cy="200.0" rx="31.9" ry="16.8"/><ellipse cx="425.0" cy="200.0" rx="35.9" ry="18.9"/><ellipse cx="425.0" cy="200.0" rx="39.9" ry="21.0"/><ellipse cx="425.0" cy="200.0" rx="43.9" ry="23.1"/><ellipse cx="425.0" cy="200.0" rx="47.9" ry="25.2"/><ellipse cx="425.0" cy="200.0" rx="51.9" ry="27.3"/><ellipse cx="425.0" cy="200.0" rx="55.9" ry="29.4"/><ellipse cx="425.0" cy="200.0" rx="59.8" ry="31.5"/><ellipse cx="425.0" cy="200.0" rx="63.8" ry="33.6"/><ellipse cx="425.0" cy="200.0" rx="67.8" ry="35.7"/><ellipse cx="425.0" cy="200.0" rx="71.8" ry="37.8"/><ellipse cx="425.0" cy="200.0" rx="75.8" ry="39.9"/></g></g>
<path d="M393,192.5 C410,191 436,191 453,192.5 C456,196 456,204 453,208 C436,209.5 410,209.5 393,208 C390,204 390,196 393,192.5 Z" fill="none" stroke="#8aaebb" stroke-width="0.8"/>
<clipPath id="cd3"><path d="M392,248 C410,246.5 436,246.5 455,248 C458,252 458,260 455,264.5 C436,266 410,266 392,264.5 C389,260 389,252 392,248 Z"/></clipPath>
<path d="M392,248 C410,246.5 436,246.5 455,248 C458,252 458,260 455,264.5 C436,266 410,266 392,264.5 C389,260 389,252 392,248 Z" fill="#97bfca"/>
<g clip-path="url(#cd3)" fill="none" stroke="#6b9fb0" stroke-width="0.8"><g transform="rotate(0 424.0 256.0)"><ellipse cx="424.0" cy="256.0" rx="4.0" ry="2.1"/><ellipse cx="424.0" cy="256.0" rx="8.0" ry="4.2"/><ellipse cx="424.0" cy="256.0" rx="12.0" ry="6.3"/><ellipse cx="424.0" cy="256.0" rx="16.0" ry="8.4"/><ellipse cx="424.0" cy="256.0" rx="19.9" ry="10.5"/><ellipse cx="424.0" cy="256.0" rx="23.9" ry="12.6"/><ellipse cx="424.0" cy="256.0" rx="27.9" ry="14.7"/><ellipse cx="424.0" cy="256.0" rx="31.9" ry="16.8"/><ellipse cx="424.0" cy="256.0" rx="35.9" ry="18.9"/><ellipse cx="424.0" cy="256.0" rx="39.9" ry="21.0"/><ellipse cx="424.0" cy="256.0" rx="43.9" ry="23.1"/><ellipse cx="424.0" cy="256.0" rx="47.9" ry="25.2"/><ellipse cx="424.0" cy="256.0" rx="51.9" ry="27.3"/><ellipse cx="424.0" cy="256.0" rx="55.9" ry="29.4"/><ellipse cx="424.0" cy="256.0" rx="59.8" ry="31.5"/><ellipse cx="424.0" cy="256.0" rx="63.8" ry="33.6"/><ellipse cx="424.0" cy="256.0" rx="67.8" ry="35.7"/><ellipse cx="424.0" cy="256.0" rx="71.8" ry="37.8"/><ellipse cx="424.0" cy="256.0" rx="75.8" ry="39.9"/></g></g>
<path d="M392,248 C410,246.5 436,246.5 455,248 C458,252 458,260 455,264.5 C436,266 410,266 392,264.5 C389,260 389,252 392,248 Z" fill="none" stroke="#8aaebb" stroke-width="0.8"/>
<clipPath id="cd4"><path d="M396,303 C414,301 440,301 460,302.5 C463,308 463,318 460.6,323 L400.5,324.5 C396,318 393,310 396,303 Z"/></clipPath>
<path d="M396,303 C414,301 440,301 460,302.5 C463,308 463,318 460.6,323 L400.5,324.5 C396,318 393,310 396,303 Z" fill="#97bfca"/>
<g clip-path="url(#cd4)" fill="none" stroke="#6b9fb0" stroke-width="0.8"><g transform="rotate(-2 434.0 311.5)"><ellipse cx="434.0" cy="311.5" rx="4.0" ry="2.1"/><ellipse cx="434.0" cy="311.5" rx="8.0" ry="4.2"/><ellipse cx="434.0" cy="311.5" rx="12.0" ry="6.3"/><ellipse cx="434.0" cy="311.5" rx="16.0" ry="8.4"/><ellipse cx="434.0" cy="311.5" rx="19.9" ry="10.5"/><ellipse cx="434.0" cy="311.5" rx="23.9" ry="12.6"/><ellipse cx="434.0" cy="311.5" rx="27.9" ry="14.7"/><ellipse cx="434.0" cy="311.5" rx="31.9" ry="16.8"/><ellipse cx="434.0" cy="311.5" rx="35.9" ry="18.9"/><ellipse cx="434.0" cy="311.5" rx="39.9" ry="21.0"/><ellipse cx="434.0" cy="311.5" rx="43.9" ry="23.1"/><ellipse cx="434.0" cy="311.5" rx="47.9" ry="25.2"/><ellipse cx="434.0" cy="311.5" rx="51.9" ry="27.3"/><ellipse cx="434.0" cy="311.5" rx="55.9" ry="29.4"/><ellipse cx="434.0" cy="311.5" rx="59.8" ry="31.5"/><ellipse cx="434.0" cy="311.5" rx="63.8" ry="33.6"/><ellipse cx="434.0" cy="311.5" rx="67.8" ry="35.7"/><ellipse cx="434.0" cy="311.5" rx="71.8" ry="37.8"/><ellipse cx="434.0" cy="311.5" rx="75.8" ry="39.9"/></g></g>
<path d="M396,303 C414,301 440,301 460,302.5 C463,308 463,318 460.6,323 L400.5,324.5 C396,318 393,310 396,303 Z" fill="none" stroke="#8aaebb" stroke-width="0.8"/>
<clipPath id="cd5"><path d="M411.6,366 L467,350 C470,353 471,357 470.4,361 L415.8,386.6 C412,381 410,372 411.6,366 Z"/></clipPath>
<path d="M411.6,366 L467,350 C470,353 471,357 470.4,361 L415.8,386.6 C412,381 410,372 411.6,366 Z" fill="#97bfca"/>
<g clip-path="url(#cd5)" fill="none" stroke="#6b9fb0" stroke-width="0.8"><g transform="rotate(-17 443.8 366.0)"><ellipse cx="443.8" cy="366.0" rx="4.0" ry="2.1"/><ellipse cx="443.8" cy="366.0" rx="8.0" ry="4.2"/><ellipse cx="443.8" cy="366.0" rx="12.0" ry="6.3"/><ellipse cx="443.8" cy="366.0" rx="16.0" ry="8.4"/><ellipse cx="443.8" cy="366.0" rx="19.9" ry="10.5"/><ellipse cx="443.8" cy="366.0" rx="23.9" ry="12.6"/><ellipse cx="443.8" cy="366.0" rx="27.9" ry="14.7"/><ellipse cx="443.8" cy="366.0" rx="31.9" ry="16.8"/><ellipse cx="443.8" cy="366.0" rx="35.9" ry="18.9"/><ellipse cx="443.8" cy="366.0" rx="39.9" ry="21.0"/><ellipse cx="443.8" cy="366.0" rx="43.9" ry="23.1"/><ellipse cx="443.8" cy="366.0" rx="47.9" ry="25.2"/><ellipse cx="443.8" cy="366.0" rx="51.9" ry="27.3"/><ellipse cx="443.8" cy="366.0" rx="55.9" ry="29.4"/><ellipse cx="443.8" cy="366.0" rx="59.8" ry="31.5"/><ellipse cx="443.8" cy="366.0" rx="63.8" ry="33.6"/><ellipse cx="443.8" cy="366.0" rx="67.8" ry="35.7"/><ellipse cx="443.8" cy="366.0" rx="71.8" ry="37.8"/><ellipse cx="443.8" cy="366.0" rx="75.8" ry="39.9"/></g></g>
<path d="M411.6,366 L467,350 C470,353 471,357 470.4,361 L415.8,386.6 C412,381 410,372 411.6,366 Z" fill="none" stroke="#8aaebb" stroke-width="0.8"/>
<path d="M489,173 L489,196 L574,211" fill="none" stroke="#2b2b2b" stroke-width="3"/>
<path d="M489,173 L489,196 L574,211" fill="none" stroke="#b5b5b5" stroke-width="1"/>
<path d="M614,215 C640,214 660,208 676,199.5 L678.5,205.5 C662,215 640,222 614,223 Z" fill="#d9d9d9"/>
<path d="M614,215 C640,214 660,208 676,199.5 M678.5,205.5 C662,215 640,222 614,223" fill="none" stroke="#2b2b2b" stroke-width="1.1"/>
<path d="M574,208.5 L585,208.5 L585,216 L574,216 Z" fill="#9c9c9c" stroke="#2b2b2b" stroke-width="1"/>
<path d="M590,207 L613,206 C615,212 615,219 614,224 L591,224 Z" fill="#9c9c9c" stroke="#2b2b2b" stroke-width="1.1"/>
<path d="M581.5,192 L591,193.5 L589.5,235 L580,234 Z" fill="#a2a2a2" stroke="#2b2b2b" stroke-width="1.1"/>
<path d="M477,244 L586,253.5" fill="none" stroke="#2b2b2b" stroke-width="3.4"/>
<path d="M478,244 L586,253.5" fill="none" stroke="#9a9a9a" stroke-width="1.2"/>
<path d="M584.6,252.5 L591.2,251.5 L603,252 L603,258.6 L591.2,258.6 L584.6,255 Z" fill="#9c9c9c" stroke="#2b2b2b" stroke-width="1"/>
<path d="M603,250.2 L607,250.6 C608,254 608,258 607,261.9 L603,261.9 Z" fill="#8c8c8c" stroke="#2b2b2b" stroke-width="1"/>

<g stroke="#1e1e1e" stroke-width="1.4" fill="none">
  <path d="M462.4,89.5 L473.2,109.6"/>
  <path d="M505.5,80 L489,107.4"/>
  <path d="M553.6,287 L569.8,286.6"/>
  <path d="M522.7,308.7 L595,323.4"/>
  <path d="M482,323 L595,346.5"/>
  <path d="M438,337.7 L488,411"/>
</g>

<g fill="#1a1a1a" font-size="11.2" stroke="#1a1a1a" stroke-width="0.6">
  <text x="424.3" y="83.7" textLength="57.5" lengthAdjust="spacingAndGlyphs">Spinal cord</text>
  <text x="499.5" y="75.5" textLength="75.3" lengthAdjust="spacingAndGlyphs">Epidural space</text>
  <text x="573.3" y="291.1" textLength="82.4" lengthAdjust="spacingAndGlyphs">Skin of the back</text>
  <text x="600" y="328.6" textLength="94.8" lengthAdjust="spacingAndGlyphs">Spinous processus</text>
  <text x="600" y="353.7" textLength="57" lengthAdjust="spacingAndGlyphs">Spinal fluid</text>
</g>
<g fill="#1a1a1a" font-weight="bold" stroke="#1a1a1a" stroke-width="0.4">
  <text x="609.8" y="198" font-size="13.6" textLength="48.8" lengthAdjust="spacingAndGlyphs">Epidural</text>
  <text x="617" y="260" font-size="14" textLength="36" lengthAdjust="spacingAndGlyphs">Spinal</text>
</g>
<text transform="translate(598,404) scale(0.87,1)" font-size="15.6" font-weight="bold" fill="#0a0a0a" letter-spacing="1.5">MedSila.com</text>

</svg>
</body></html>
